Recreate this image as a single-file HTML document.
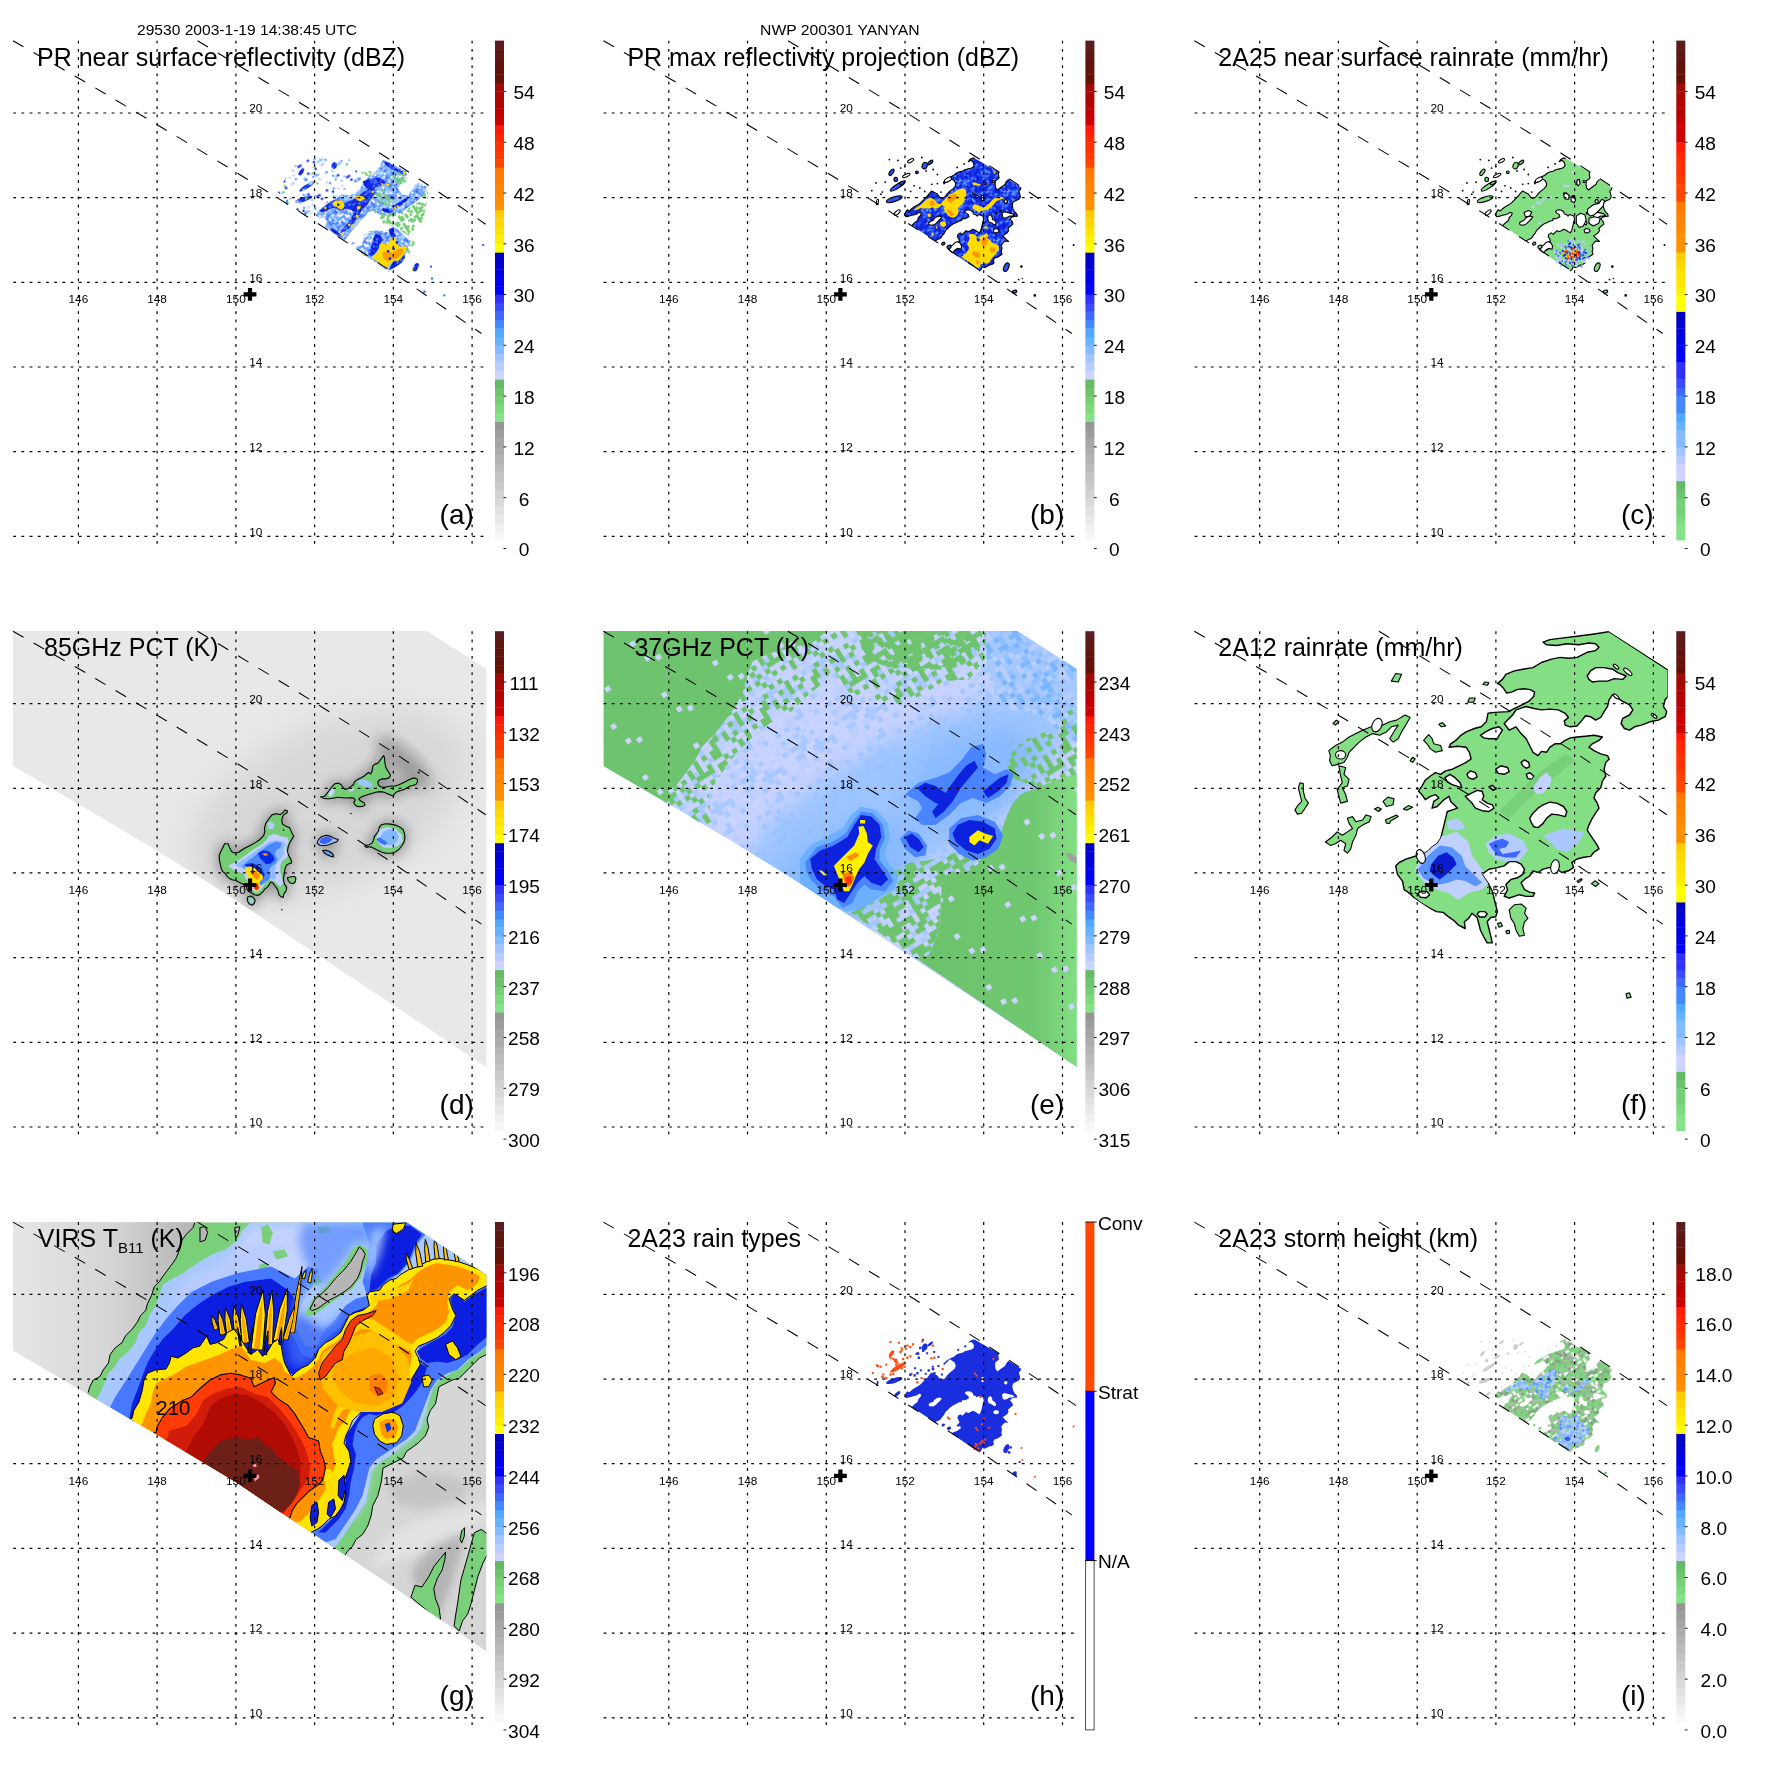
<!DOCTYPE html><html><head><meta charset="utf-8"><title>TRMM</title>
<style>html,body{margin:0;padding:0;background:#fff}svg{display:block;will-change:transform;opacity:0.9999}</style></head><body>
<svg width="1771" height="1771" viewBox="0 0 1771 1771">
<rect width="1771" height="1771" fill="#fff"/>
<text x="247" y="34.6" font-size="15" textLength="220" lengthAdjust="spacingAndGlyphs" text-anchor="middle" font-family="Liberation Sans, sans-serif">29530 2003-1-19 14:38:45 UTC</text>
<text x="839.9" y="34.6" font-size="15" textLength="159.6" lengthAdjust="spacingAndGlyphs" text-anchor="middle" font-family="Liberation Sans, sans-serif">NWP 200301 YANYAN</text>
<g transform="translate(0 0)"><defs><pattern id="pa_lb" width="35.2" height="35.2" patternUnits="userSpaceOnUse" patternTransform="rotate(-33)"><rect width="35.2" height="35.2" fill="#fff"/><rect x="0" y="0" width="2.3" height="2.3" fill="#86b8ff"/><rect x="0" y="2.2" width="2.3" height="2.3" fill="#5a96ff"/><rect x="0" y="4.4" width="2.3" height="2.3" fill="#5a96ff"/><rect x="0" y="6.6" width="2.3" height="2.3" fill="#3c64f4"/><rect x="0" y="11" width="2.3" height="2.3" fill="#4a86ff"/><rect x="0" y="15.4" width="2.3" height="2.3" fill="#86b8ff"/><rect x="0" y="17.6" width="2.3" height="2.3" fill="#4a86ff"/><rect x="0" y="19.8" width="2.3" height="2.3" fill="#66a6ff"/><rect x="0" y="22" width="2.3" height="2.3" fill="#66a6ff"/><rect x="0" y="24.2" width="2.3" height="2.3" fill="#a4c8ff"/><rect x="0" y="26.4" width="2.3" height="2.3" fill="#5a96ff"/><rect x="0" y="28.6" width="2.3" height="2.3" fill="#a4c8ff"/><rect x="0" y="30.8" width="2.3" height="2.3" fill="#86b8ff"/><rect x="0" y="33" width="2.3" height="2.3" fill="#4a86ff"/><rect x="2.2" y="0" width="2.3" height="2.3" fill="#4a86ff"/><rect x="2.2" y="2.2" width="2.3" height="2.3" fill="#66a6ff"/><rect x="2.2" y="4.4" width="2.3" height="2.3" fill="#5a96ff"/><rect x="2.2" y="6.6" width="2.3" height="2.3" fill="#5a96ff"/><rect x="2.2" y="11" width="2.3" height="2.3" fill="#66a6ff"/><rect x="2.2" y="13.2" width="2.3" height="2.3" fill="#a4c8ff"/><rect x="2.2" y="17.6" width="2.3" height="2.3" fill="#a4c8ff"/><rect x="2.2" y="19.8" width="2.3" height="2.3" fill="#a4c8ff"/><rect x="2.2" y="22" width="2.3" height="2.3" fill="#66a6ff"/><rect x="2.2" y="24.2" width="2.3" height="2.3" fill="#86b8ff"/><rect x="2.2" y="26.4" width="2.3" height="2.3" fill="#a4c8ff"/><rect x="2.2" y="28.6" width="2.3" height="2.3" fill="#a4c8ff"/><rect x="2.2" y="30.8" width="2.3" height="2.3" fill="#66a6ff"/><rect x="4.4" y="0" width="2.3" height="2.3" fill="#86b8ff"/><rect x="4.4" y="2.2" width="2.3" height="2.3" fill="#a4c8ff"/><rect x="4.4" y="4.4" width="2.3" height="2.3" fill="#5a96ff"/><rect x="4.4" y="8.8" width="2.3" height="2.3" fill="#86b8ff"/><rect x="4.4" y="11" width="2.3" height="2.3" fill="#86b8ff"/><rect x="4.4" y="13.2" width="2.3" height="2.3" fill="#66a6ff"/><rect x="4.4" y="17.6" width="2.3" height="2.3" fill="#4a86ff"/><rect x="4.4" y="19.8" width="2.3" height="2.3" fill="#a4c8ff"/><rect x="4.4" y="22" width="2.3" height="2.3" fill="#4a86ff"/><rect x="4.4" y="24.2" width="2.3" height="2.3" fill="#4a86ff"/><rect x="4.4" y="26.4" width="2.3" height="2.3" fill="#a4c8ff"/><rect x="4.4" y="28.6" width="2.3" height="2.3" fill="#a4c8ff"/><rect x="4.4" y="33" width="2.3" height="2.3" fill="#5a96ff"/><rect x="6.6" y="0" width="2.3" height="2.3" fill="#4a86ff"/><rect x="6.6" y="2.2" width="2.3" height="2.3" fill="#a4c8ff"/><rect x="6.6" y="4.4" width="2.3" height="2.3" fill="#86b8ff"/><rect x="6.6" y="6.6" width="2.3" height="2.3" fill="#5a96ff"/><rect x="6.6" y="8.8" width="2.3" height="2.3" fill="#3c64f4"/><rect x="6.6" y="11" width="2.3" height="2.3" fill="#a4c8ff"/><rect x="6.6" y="15.4" width="2.3" height="2.3" fill="#5a96ff"/><rect x="6.6" y="17.6" width="2.3" height="2.3" fill="#a4c8ff"/><rect x="6.6" y="22" width="2.3" height="2.3" fill="#5a96ff"/><rect x="6.6" y="24.2" width="2.3" height="2.3" fill="#3c64f4"/><rect x="6.6" y="26.4" width="2.3" height="2.3" fill="#66a6ff"/><rect x="6.6" y="28.6" width="2.3" height="2.3" fill="#a4c8ff"/><rect x="6.6" y="30.8" width="2.3" height="2.3" fill="#86b8ff"/><rect x="8.8" y="0" width="2.3" height="2.3" fill="#66a6ff"/><rect x="8.8" y="4.4" width="2.3" height="2.3" fill="#a4c8ff"/><rect x="8.8" y="6.6" width="2.3" height="2.3" fill="#4a86ff"/><rect x="8.8" y="8.8" width="2.3" height="2.3" fill="#a4c8ff"/><rect x="8.8" y="11" width="2.3" height="2.3" fill="#a4c8ff"/><rect x="8.8" y="13.2" width="2.3" height="2.3" fill="#86b8ff"/><rect x="8.8" y="15.4" width="2.3" height="2.3" fill="#86b8ff"/><rect x="8.8" y="17.6" width="2.3" height="2.3" fill="#a4c8ff"/><rect x="8.8" y="19.8" width="2.3" height="2.3" fill="#a4c8ff"/><rect x="8.8" y="22" width="2.3" height="2.3" fill="#a4c8ff"/><rect x="8.8" y="24.2" width="2.3" height="2.3" fill="#3c64f4"/><rect x="8.8" y="26.4" width="2.3" height="2.3" fill="#4a86ff"/><rect x="8.8" y="28.6" width="2.3" height="2.3" fill="#a4c8ff"/><rect x="8.8" y="30.8" width="2.3" height="2.3" fill="#86b8ff"/><rect x="8.8" y="33" width="2.3" height="2.3" fill="#a4c8ff"/><rect x="11" y="0" width="2.3" height="2.3" fill="#86b8ff"/><rect x="11" y="2.2" width="2.3" height="2.3" fill="#5a96ff"/><rect x="11" y="4.4" width="2.3" height="2.3" fill="#a4c8ff"/><rect x="11" y="6.6" width="2.3" height="2.3" fill="#86b8ff"/><rect x="11" y="8.8" width="2.3" height="2.3" fill="#66a6ff"/><rect x="11" y="11" width="2.3" height="2.3" fill="#4a86ff"/><rect x="11" y="13.2" width="2.3" height="2.3" fill="#5a96ff"/><rect x="11" y="15.4" width="2.3" height="2.3" fill="#86b8ff"/><rect x="11" y="17.6" width="2.3" height="2.3" fill="#66a6ff"/><rect x="11" y="19.8" width="2.3" height="2.3" fill="#a4c8ff"/><rect x="11" y="24.2" width="2.3" height="2.3" fill="#5a96ff"/><rect x="11" y="26.4" width="2.3" height="2.3" fill="#4a86ff"/><rect x="11" y="28.6" width="2.3" height="2.3" fill="#4a86ff"/><rect x="11" y="30.8" width="2.3" height="2.3" fill="#86b8ff"/><rect x="11" y="33" width="2.3" height="2.3" fill="#a4c8ff"/><rect x="13.2" y="2.2" width="2.3" height="2.3" fill="#5a96ff"/><rect x="13.2" y="6.6" width="2.3" height="2.3" fill="#66a6ff"/><rect x="13.2" y="8.8" width="2.3" height="2.3" fill="#3c64f4"/><rect x="13.2" y="11" width="2.3" height="2.3" fill="#66a6ff"/><rect x="13.2" y="13.2" width="2.3" height="2.3" fill="#3c64f4"/><rect x="13.2" y="15.4" width="2.3" height="2.3" fill="#3c64f4"/><rect x="13.2" y="17.6" width="2.3" height="2.3" fill="#66a6ff"/><rect x="13.2" y="19.8" width="2.3" height="2.3" fill="#5a96ff"/><rect x="13.2" y="22" width="2.3" height="2.3" fill="#4a86ff"/><rect x="13.2" y="24.2" width="2.3" height="2.3" fill="#86b8ff"/><rect x="13.2" y="26.4" width="2.3" height="2.3" fill="#5a96ff"/><rect x="13.2" y="28.6" width="2.3" height="2.3" fill="#a4c8ff"/><rect x="13.2" y="30.8" width="2.3" height="2.3" fill="#a4c8ff"/><rect x="13.2" y="33" width="2.3" height="2.3" fill="#86b8ff"/><rect x="15.4" y="0" width="2.3" height="2.3" fill="#86b8ff"/><rect x="15.4" y="4.4" width="2.3" height="2.3" fill="#66a6ff"/><rect x="15.4" y="6.6" width="2.3" height="2.3" fill="#3c64f4"/><rect x="15.4" y="8.8" width="2.3" height="2.3" fill="#86b8ff"/><rect x="15.4" y="13.2" width="2.3" height="2.3" fill="#66a6ff"/><rect x="15.4" y="15.4" width="2.3" height="2.3" fill="#4a86ff"/><rect x="15.4" y="17.6" width="2.3" height="2.3" fill="#a4c8ff"/><rect x="15.4" y="19.8" width="2.3" height="2.3" fill="#86b8ff"/><rect x="15.4" y="22" width="2.3" height="2.3" fill="#a4c8ff"/><rect x="15.4" y="24.2" width="2.3" height="2.3" fill="#5a96ff"/><rect x="15.4" y="30.8" width="2.3" height="2.3" fill="#3c64f4"/><rect x="15.4" y="33" width="2.3" height="2.3" fill="#86b8ff"/><rect x="17.6" y="0" width="2.3" height="2.3" fill="#3c64f4"/><rect x="17.6" y="2.2" width="2.3" height="2.3" fill="#86b8ff"/><rect x="17.6" y="4.4" width="2.3" height="2.3" fill="#66a6ff"/><rect x="17.6" y="6.6" width="2.3" height="2.3" fill="#5a96ff"/><rect x="17.6" y="8.8" width="2.3" height="2.3" fill="#86b8ff"/><rect x="17.6" y="11" width="2.3" height="2.3" fill="#66a6ff"/><rect x="17.6" y="13.2" width="2.3" height="2.3" fill="#3c64f4"/><rect x="17.6" y="15.4" width="2.3" height="2.3" fill="#a4c8ff"/><rect x="17.6" y="17.6" width="2.3" height="2.3" fill="#4a86ff"/><rect x="17.6" y="19.8" width="2.3" height="2.3" fill="#5a96ff"/><rect x="17.6" y="22" width="2.3" height="2.3" fill="#3c64f4"/><rect x="17.6" y="24.2" width="2.3" height="2.3" fill="#5a96ff"/><rect x="17.6" y="26.4" width="2.3" height="2.3" fill="#86b8ff"/><rect x="17.6" y="28.6" width="2.3" height="2.3" fill="#86b8ff"/><rect x="17.6" y="30.8" width="2.3" height="2.3" fill="#86b8ff"/><rect x="17.6" y="33" width="2.3" height="2.3" fill="#a4c8ff"/><rect x="19.8" y="0" width="2.3" height="2.3" fill="#5a96ff"/><rect x="19.8" y="2.2" width="2.3" height="2.3" fill="#a4c8ff"/><rect x="19.8" y="4.4" width="2.3" height="2.3" fill="#86b8ff"/><rect x="19.8" y="6.6" width="2.3" height="2.3" fill="#66a6ff"/><rect x="19.8" y="11" width="2.3" height="2.3" fill="#86b8ff"/><rect x="19.8" y="13.2" width="2.3" height="2.3" fill="#a4c8ff"/><rect x="19.8" y="15.4" width="2.3" height="2.3" fill="#a4c8ff"/><rect x="19.8" y="17.6" width="2.3" height="2.3" fill="#3c64f4"/><rect x="19.8" y="19.8" width="2.3" height="2.3" fill="#86b8ff"/><rect x="19.8" y="22" width="2.3" height="2.3" fill="#3c64f4"/><rect x="19.8" y="24.2" width="2.3" height="2.3" fill="#a4c8ff"/><rect x="19.8" y="26.4" width="2.3" height="2.3" fill="#5a96ff"/><rect x="19.8" y="30.8" width="2.3" height="2.3" fill="#4a86ff"/><rect x="19.8" y="33" width="2.3" height="2.3" fill="#86b8ff"/><rect x="22" y="0" width="2.3" height="2.3" fill="#86b8ff"/><rect x="22" y="2.2" width="2.3" height="2.3" fill="#86b8ff"/><rect x="22" y="4.4" width="2.3" height="2.3" fill="#5a96ff"/><rect x="22" y="6.6" width="2.3" height="2.3" fill="#4a86ff"/><rect x="22" y="8.8" width="2.3" height="2.3" fill="#66a6ff"/><rect x="22" y="11" width="2.3" height="2.3" fill="#66a6ff"/><rect x="22" y="13.2" width="2.3" height="2.3" fill="#66a6ff"/><rect x="22" y="15.4" width="2.3" height="2.3" fill="#5a96ff"/><rect x="22" y="19.8" width="2.3" height="2.3" fill="#a4c8ff"/><rect x="22" y="22" width="2.3" height="2.3" fill="#5a96ff"/><rect x="22" y="24.2" width="2.3" height="2.3" fill="#86b8ff"/><rect x="22" y="26.4" width="2.3" height="2.3" fill="#4a86ff"/><rect x="22" y="28.6" width="2.3" height="2.3" fill="#3c64f4"/><rect x="22" y="30.8" width="2.3" height="2.3" fill="#a4c8ff"/><rect x="22" y="33" width="2.3" height="2.3" fill="#66a6ff"/><rect x="24.2" y="0" width="2.3" height="2.3" fill="#4a86ff"/><rect x="24.2" y="2.2" width="2.3" height="2.3" fill="#5a96ff"/><rect x="24.2" y="4.4" width="2.3" height="2.3" fill="#86b8ff"/><rect x="24.2" y="6.6" width="2.3" height="2.3" fill="#3c64f4"/><rect x="24.2" y="8.8" width="2.3" height="2.3" fill="#3c64f4"/><rect x="24.2" y="13.2" width="2.3" height="2.3" fill="#a4c8ff"/><rect x="24.2" y="15.4" width="2.3" height="2.3" fill="#66a6ff"/><rect x="24.2" y="17.6" width="2.3" height="2.3" fill="#a4c8ff"/><rect x="24.2" y="19.8" width="2.3" height="2.3" fill="#3c64f4"/><rect x="24.2" y="22" width="2.3" height="2.3" fill="#3c64f4"/><rect x="24.2" y="24.2" width="2.3" height="2.3" fill="#4a86ff"/><rect x="24.2" y="26.4" width="2.3" height="2.3" fill="#a4c8ff"/><rect x="24.2" y="28.6" width="2.3" height="2.3" fill="#a4c8ff"/><rect x="24.2" y="30.8" width="2.3" height="2.3" fill="#4a86ff"/><rect x="24.2" y="33" width="2.3" height="2.3" fill="#a4c8ff"/><rect x="26.4" y="0" width="2.3" height="2.3" fill="#a4c8ff"/><rect x="26.4" y="2.2" width="2.3" height="2.3" fill="#a4c8ff"/><rect x="26.4" y="4.4" width="2.3" height="2.3" fill="#5a96ff"/><rect x="26.4" y="6.6" width="2.3" height="2.3" fill="#a4c8ff"/><rect x="26.4" y="8.8" width="2.3" height="2.3" fill="#a4c8ff"/><rect x="26.4" y="11" width="2.3" height="2.3" fill="#a4c8ff"/><rect x="26.4" y="15.4" width="2.3" height="2.3" fill="#66a6ff"/><rect x="26.4" y="22" width="2.3" height="2.3" fill="#5a96ff"/><rect x="26.4" y="24.2" width="2.3" height="2.3" fill="#5a96ff"/><rect x="26.4" y="26.4" width="2.3" height="2.3" fill="#a4c8ff"/><rect x="26.4" y="28.6" width="2.3" height="2.3" fill="#4a86ff"/><rect x="26.4" y="30.8" width="2.3" height="2.3" fill="#66a6ff"/><rect x="26.4" y="33" width="2.3" height="2.3" fill="#66a6ff"/><rect x="28.6" y="0" width="2.3" height="2.3" fill="#5a96ff"/><rect x="28.6" y="2.2" width="2.3" height="2.3" fill="#66a6ff"/><rect x="28.6" y="4.4" width="2.3" height="2.3" fill="#4a86ff"/><rect x="28.6" y="6.6" width="2.3" height="2.3" fill="#3c64f4"/><rect x="28.6" y="8.8" width="2.3" height="2.3" fill="#5a96ff"/><rect x="28.6" y="11" width="2.3" height="2.3" fill="#5a96ff"/><rect x="28.6" y="15.4" width="2.3" height="2.3" fill="#4a86ff"/><rect x="28.6" y="17.6" width="2.3" height="2.3" fill="#5a96ff"/><rect x="28.6" y="19.8" width="2.3" height="2.3" fill="#5a96ff"/><rect x="28.6" y="22" width="2.3" height="2.3" fill="#a4c8ff"/><rect x="28.6" y="26.4" width="2.3" height="2.3" fill="#4a86ff"/><rect x="28.6" y="28.6" width="2.3" height="2.3" fill="#a4c8ff"/><rect x="28.6" y="30.8" width="2.3" height="2.3" fill="#66a6ff"/><rect x="30.8" y="0" width="2.3" height="2.3" fill="#86b8ff"/><rect x="30.8" y="4.4" width="2.3" height="2.3" fill="#a4c8ff"/><rect x="30.8" y="6.6" width="2.3" height="2.3" fill="#4a86ff"/><rect x="30.8" y="11" width="2.3" height="2.3" fill="#3c64f4"/><rect x="30.8" y="13.2" width="2.3" height="2.3" fill="#4a86ff"/><rect x="30.8" y="19.8" width="2.3" height="2.3" fill="#5a96ff"/><rect x="30.8" y="22" width="2.3" height="2.3" fill="#3c64f4"/><rect x="30.8" y="24.2" width="2.3" height="2.3" fill="#5a96ff"/><rect x="30.8" y="26.4" width="2.3" height="2.3" fill="#66a6ff"/><rect x="30.8" y="28.6" width="2.3" height="2.3" fill="#86b8ff"/><rect x="30.8" y="30.8" width="2.3" height="2.3" fill="#a4c8ff"/><rect x="30.8" y="33" width="2.3" height="2.3" fill="#4a86ff"/><rect x="33" y="0" width="2.3" height="2.3" fill="#3c64f4"/><rect x="33" y="2.2" width="2.3" height="2.3" fill="#5a96ff"/><rect x="33" y="4.4" width="2.3" height="2.3" fill="#86b8ff"/><rect x="33" y="6.6" width="2.3" height="2.3" fill="#a4c8ff"/><rect x="33" y="8.8" width="2.3" height="2.3" fill="#86b8ff"/><rect x="33" y="11" width="2.3" height="2.3" fill="#a4c8ff"/><rect x="33" y="13.2" width="2.3" height="2.3" fill="#3c64f4"/><rect x="33" y="15.4" width="2.3" height="2.3" fill="#5a96ff"/><rect x="33" y="19.8" width="2.3" height="2.3" fill="#a4c8ff"/><rect x="33" y="22" width="2.3" height="2.3" fill="#86b8ff"/><rect x="33" y="24.2" width="2.3" height="2.3" fill="#5a96ff"/><rect x="33" y="26.4" width="2.3" height="2.3" fill="#4a86ff"/><rect x="33" y="28.6" width="2.3" height="2.3" fill="#a4c8ff"/><rect x="33" y="30.8" width="2.3" height="2.3" fill="#a4c8ff"/><rect x="33" y="33" width="2.3" height="2.3" fill="#4a86ff"/></pattern><pattern id="pa_db" width="35.2" height="35.2" patternUnits="userSpaceOnUse" patternTransform="rotate(-33)"><rect width="35.2" height="35.2" fill="#1024e4"/><rect x="0" y="0" width="2.3" height="2.3" fill="#2c50f2"/><rect x="0" y="2.2" width="2.3" height="2.3" fill="#2c50f2"/><rect x="0" y="6.6" width="2.3" height="2.3" fill="#4a80ff"/><rect x="0" y="11" width="2.3" height="2.3" fill="#2c50f2"/><rect x="0" y="13.2" width="2.3" height="2.3" fill="#1c34ea"/><rect x="0" y="17.6" width="2.3" height="2.3" fill="#1c34ea"/><rect x="0" y="19.8" width="2.3" height="2.3" fill="#1c34ea"/><rect x="0" y="22" width="2.3" height="2.3" fill="#0c18d4"/><rect x="0" y="26.4" width="2.3" height="2.3" fill="#2c50f2"/><rect x="0" y="28.6" width="2.3" height="2.3" fill="#0c18d4"/><rect x="0" y="33" width="2.3" height="2.3" fill="#0c18d4"/><rect x="2.2" y="0" width="2.3" height="2.3" fill="#4a80ff"/><rect x="2.2" y="2.2" width="2.3" height="2.3" fill="#2c50f2"/><rect x="2.2" y="4.4" width="2.3" height="2.3" fill="#4a80ff"/><rect x="2.2" y="6.6" width="2.3" height="2.3" fill="#1c34ea"/><rect x="2.2" y="8.8" width="2.3" height="2.3" fill="#1c34ea"/><rect x="2.2" y="13.2" width="2.3" height="2.3" fill="#1c34ea"/><rect x="2.2" y="17.6" width="2.3" height="2.3" fill="#4a80ff"/><rect x="2.2" y="22" width="2.3" height="2.3" fill="#4a80ff"/><rect x="2.2" y="24.2" width="2.3" height="2.3" fill="#0c18d4"/><rect x="2.2" y="26.4" width="2.3" height="2.3" fill="#0c18d4"/><rect x="2.2" y="30.8" width="2.3" height="2.3" fill="#2c50f2"/><rect x="2.2" y="33" width="2.3" height="2.3" fill="#2c50f2"/><rect x="4.4" y="2.2" width="2.3" height="2.3" fill="#4a80ff"/><rect x="4.4" y="4.4" width="2.3" height="2.3" fill="#4a80ff"/><rect x="4.4" y="6.6" width="2.3" height="2.3" fill="#1c34ea"/><rect x="4.4" y="8.8" width="2.3" height="2.3" fill="#4a80ff"/><rect x="4.4" y="13.2" width="2.3" height="2.3" fill="#1c34ea"/><rect x="4.4" y="15.4" width="2.3" height="2.3" fill="#0c18d4"/><rect x="4.4" y="17.6" width="2.3" height="2.3" fill="#4a80ff"/><rect x="4.4" y="19.8" width="2.3" height="2.3" fill="#0c18d4"/><rect x="4.4" y="22" width="2.3" height="2.3" fill="#0c18d4"/><rect x="4.4" y="24.2" width="2.3" height="2.3" fill="#2c50f2"/><rect x="4.4" y="28.6" width="2.3" height="2.3" fill="#0c18d4"/><rect x="4.4" y="30.8" width="2.3" height="2.3" fill="#1c34ea"/><rect x="4.4" y="33" width="2.3" height="2.3" fill="#4a80ff"/><rect x="6.6" y="0" width="2.3" height="2.3" fill="#2c50f2"/><rect x="6.6" y="2.2" width="2.3" height="2.3" fill="#0c18d4"/><rect x="6.6" y="4.4" width="2.3" height="2.3" fill="#0c18d4"/><rect x="6.6" y="6.6" width="2.3" height="2.3" fill="#1c34ea"/><rect x="6.6" y="8.8" width="2.3" height="2.3" fill="#1c34ea"/><rect x="6.6" y="11" width="2.3" height="2.3" fill="#2c50f2"/><rect x="6.6" y="17.6" width="2.3" height="2.3" fill="#0c18d4"/><rect x="6.6" y="19.8" width="2.3" height="2.3" fill="#4a80ff"/><rect x="6.6" y="26.4" width="2.3" height="2.3" fill="#0c18d4"/><rect x="6.6" y="28.6" width="2.3" height="2.3" fill="#4a80ff"/><rect x="6.6" y="30.8" width="2.3" height="2.3" fill="#0c18d4"/><rect x="6.6" y="33" width="2.3" height="2.3" fill="#4a80ff"/><rect x="8.8" y="4.4" width="2.3" height="2.3" fill="#1c34ea"/><rect x="8.8" y="6.6" width="2.3" height="2.3" fill="#2c50f2"/><rect x="8.8" y="8.8" width="2.3" height="2.3" fill="#0c18d4"/><rect x="8.8" y="11" width="2.3" height="2.3" fill="#4a80ff"/><rect x="8.8" y="13.2" width="2.3" height="2.3" fill="#0c18d4"/><rect x="8.8" y="17.6" width="2.3" height="2.3" fill="#4a80ff"/><rect x="8.8" y="22" width="2.3" height="2.3" fill="#0c18d4"/><rect x="8.8" y="24.2" width="2.3" height="2.3" fill="#4a80ff"/><rect x="8.8" y="26.4" width="2.3" height="2.3" fill="#4a80ff"/><rect x="8.8" y="28.6" width="2.3" height="2.3" fill="#4a80ff"/><rect x="8.8" y="30.8" width="2.3" height="2.3" fill="#4a80ff"/><rect x="8.8" y="33" width="2.3" height="2.3" fill="#4a80ff"/><rect x="11" y="2.2" width="2.3" height="2.3" fill="#1c34ea"/><rect x="11" y="4.4" width="2.3" height="2.3" fill="#4a80ff"/><rect x="11" y="15.4" width="2.3" height="2.3" fill="#0c18d4"/><rect x="11" y="26.4" width="2.3" height="2.3" fill="#2c50f2"/><rect x="11" y="28.6" width="2.3" height="2.3" fill="#4a80ff"/><rect x="11" y="30.8" width="2.3" height="2.3" fill="#2c50f2"/><rect x="13.2" y="6.6" width="2.3" height="2.3" fill="#2c50f2"/><rect x="13.2" y="8.8" width="2.3" height="2.3" fill="#2c50f2"/><rect x="13.2" y="13.2" width="2.3" height="2.3" fill="#4a80ff"/><rect x="13.2" y="17.6" width="2.3" height="2.3" fill="#0c18d4"/><rect x="13.2" y="19.8" width="2.3" height="2.3" fill="#2c50f2"/><rect x="13.2" y="22" width="2.3" height="2.3" fill="#0c18d4"/><rect x="13.2" y="24.2" width="2.3" height="2.3" fill="#0c18d4"/><rect x="13.2" y="26.4" width="2.3" height="2.3" fill="#1c34ea"/><rect x="13.2" y="28.6" width="2.3" height="2.3" fill="#2c50f2"/><rect x="15.4" y="2.2" width="2.3" height="2.3" fill="#4a80ff"/><rect x="15.4" y="4.4" width="2.3" height="2.3" fill="#2c50f2"/><rect x="15.4" y="6.6" width="2.3" height="2.3" fill="#1c34ea"/><rect x="15.4" y="8.8" width="2.3" height="2.3" fill="#1c34ea"/><rect x="15.4" y="11" width="2.3" height="2.3" fill="#2c50f2"/><rect x="15.4" y="13.2" width="2.3" height="2.3" fill="#1c34ea"/><rect x="15.4" y="15.4" width="2.3" height="2.3" fill="#1c34ea"/><rect x="15.4" y="22" width="2.3" height="2.3" fill="#2c50f2"/><rect x="15.4" y="28.6" width="2.3" height="2.3" fill="#2c50f2"/><rect x="15.4" y="30.8" width="2.3" height="2.3" fill="#4a80ff"/><rect x="17.6" y="6.6" width="2.3" height="2.3" fill="#1c34ea"/><rect x="17.6" y="8.8" width="2.3" height="2.3" fill="#4a80ff"/><rect x="17.6" y="11" width="2.3" height="2.3" fill="#2c50f2"/><rect x="17.6" y="13.2" width="2.3" height="2.3" fill="#4a80ff"/><rect x="17.6" y="15.4" width="2.3" height="2.3" fill="#0c18d4"/><rect x="17.6" y="17.6" width="2.3" height="2.3" fill="#1c34ea"/><rect x="17.6" y="19.8" width="2.3" height="2.3" fill="#1c34ea"/><rect x="17.6" y="26.4" width="2.3" height="2.3" fill="#1c34ea"/><rect x="17.6" y="30.8" width="2.3" height="2.3" fill="#1c34ea"/><rect x="17.6" y="33" width="2.3" height="2.3" fill="#1c34ea"/><rect x="19.8" y="0" width="2.3" height="2.3" fill="#0c18d4"/><rect x="19.8" y="4.4" width="2.3" height="2.3" fill="#4a80ff"/><rect x="19.8" y="6.6" width="2.3" height="2.3" fill="#0c18d4"/><rect x="19.8" y="13.2" width="2.3" height="2.3" fill="#2c50f2"/><rect x="19.8" y="15.4" width="2.3" height="2.3" fill="#4a80ff"/><rect x="19.8" y="17.6" width="2.3" height="2.3" fill="#0c18d4"/><rect x="19.8" y="19.8" width="2.3" height="2.3" fill="#1c34ea"/><rect x="19.8" y="24.2" width="2.3" height="2.3" fill="#0c18d4"/><rect x="19.8" y="28.6" width="2.3" height="2.3" fill="#2c50f2"/><rect x="19.8" y="30.8" width="2.3" height="2.3" fill="#1c34ea"/><rect x="19.8" y="33" width="2.3" height="2.3" fill="#1c34ea"/><rect x="22" y="0" width="2.3" height="2.3" fill="#4a80ff"/><rect x="22" y="4.4" width="2.3" height="2.3" fill="#1c34ea"/><rect x="22" y="6.6" width="2.3" height="2.3" fill="#0c18d4"/><rect x="22" y="8.8" width="2.3" height="2.3" fill="#2c50f2"/><rect x="22" y="15.4" width="2.3" height="2.3" fill="#2c50f2"/><rect x="22" y="17.6" width="2.3" height="2.3" fill="#0c18d4"/><rect x="22" y="19.8" width="2.3" height="2.3" fill="#1c34ea"/><rect x="22" y="24.2" width="2.3" height="2.3" fill="#2c50f2"/><rect x="22" y="26.4" width="2.3" height="2.3" fill="#4a80ff"/><rect x="22" y="28.6" width="2.3" height="2.3" fill="#0c18d4"/><rect x="24.2" y="0" width="2.3" height="2.3" fill="#2c50f2"/><rect x="24.2" y="4.4" width="2.3" height="2.3" fill="#0c18d4"/><rect x="24.2" y="8.8" width="2.3" height="2.3" fill="#4a80ff"/><rect x="24.2" y="13.2" width="2.3" height="2.3" fill="#4a80ff"/><rect x="24.2" y="15.4" width="2.3" height="2.3" fill="#2c50f2"/><rect x="24.2" y="19.8" width="2.3" height="2.3" fill="#0c18d4"/><rect x="24.2" y="24.2" width="2.3" height="2.3" fill="#1c34ea"/><rect x="24.2" y="26.4" width="2.3" height="2.3" fill="#4a80ff"/><rect x="24.2" y="28.6" width="2.3" height="2.3" fill="#2c50f2"/><rect x="24.2" y="33" width="2.3" height="2.3" fill="#2c50f2"/><rect x="26.4" y="2.2" width="2.3" height="2.3" fill="#4a80ff"/><rect x="26.4" y="6.6" width="2.3" height="2.3" fill="#2c50f2"/><rect x="26.4" y="8.8" width="2.3" height="2.3" fill="#2c50f2"/><rect x="26.4" y="13.2" width="2.3" height="2.3" fill="#1c34ea"/><rect x="26.4" y="19.8" width="2.3" height="2.3" fill="#1c34ea"/><rect x="26.4" y="22" width="2.3" height="2.3" fill="#1c34ea"/><rect x="26.4" y="28.6" width="2.3" height="2.3" fill="#0c18d4"/><rect x="26.4" y="30.8" width="2.3" height="2.3" fill="#2c50f2"/><rect x="26.4" y="33" width="2.3" height="2.3" fill="#2c50f2"/><rect x="28.6" y="2.2" width="2.3" height="2.3" fill="#0c18d4"/><rect x="28.6" y="6.6" width="2.3" height="2.3" fill="#1c34ea"/><rect x="28.6" y="8.8" width="2.3" height="2.3" fill="#4a80ff"/><rect x="28.6" y="11" width="2.3" height="2.3" fill="#2c50f2"/><rect x="28.6" y="13.2" width="2.3" height="2.3" fill="#2c50f2"/><rect x="28.6" y="15.4" width="2.3" height="2.3" fill="#1c34ea"/><rect x="28.6" y="17.6" width="2.3" height="2.3" fill="#0c18d4"/><rect x="28.6" y="26.4" width="2.3" height="2.3" fill="#2c50f2"/><rect x="28.6" y="28.6" width="2.3" height="2.3" fill="#4a80ff"/><rect x="28.6" y="30.8" width="2.3" height="2.3" fill="#0c18d4"/><rect x="30.8" y="2.2" width="2.3" height="2.3" fill="#1c34ea"/><rect x="30.8" y="6.6" width="2.3" height="2.3" fill="#0c18d4"/><rect x="30.8" y="11" width="2.3" height="2.3" fill="#2c50f2"/><rect x="30.8" y="13.2" width="2.3" height="2.3" fill="#1c34ea"/><rect x="30.8" y="17.6" width="2.3" height="2.3" fill="#1c34ea"/><rect x="30.8" y="19.8" width="2.3" height="2.3" fill="#2c50f2"/><rect x="30.8" y="24.2" width="2.3" height="2.3" fill="#4a80ff"/><rect x="30.8" y="28.6" width="2.3" height="2.3" fill="#2c50f2"/><rect x="30.8" y="30.8" width="2.3" height="2.3" fill="#0c18d4"/><rect x="30.8" y="33" width="2.3" height="2.3" fill="#0c18d4"/><rect x="33" y="0" width="2.3" height="2.3" fill="#0c18d4"/><rect x="33" y="2.2" width="2.3" height="2.3" fill="#1c34ea"/><rect x="33" y="6.6" width="2.3" height="2.3" fill="#1c34ea"/><rect x="33" y="11" width="2.3" height="2.3" fill="#4a80ff"/><rect x="33" y="13.2" width="2.3" height="2.3" fill="#1c34ea"/><rect x="33" y="17.6" width="2.3" height="2.3" fill="#2c50f2"/><rect x="33" y="19.8" width="2.3" height="2.3" fill="#4a80ff"/><rect x="33" y="22" width="2.3" height="2.3" fill="#4a80ff"/><rect x="33" y="24.2" width="2.3" height="2.3" fill="#1c34ea"/><rect x="33" y="26.4" width="2.3" height="2.3" fill="#0c18d4"/><rect x="33" y="28.6" width="2.3" height="2.3" fill="#0c18d4"/><rect x="33" y="30.8" width="2.3" height="2.3" fill="#4a80ff"/><rect x="33" y="33" width="2.3" height="2.3" fill="#0c18d4"/></pattern><pattern id="pa_g" width="35.2" height="35.2" patternUnits="userSpaceOnUse" patternTransform="rotate(-33)"><rect x="0" y="6.6" width="2.3" height="2.3" fill="#74cc74"/><rect x="0" y="15.4" width="2.3" height="2.3" fill="#74cc74"/><rect x="0" y="17.6" width="2.3" height="2.3" fill="#74cc74"/><rect x="0" y="22" width="2.3" height="2.3" fill="#74cc74"/><rect x="0" y="26.4" width="2.3" height="2.3" fill="#74cc74"/><rect x="0" y="28.6" width="2.3" height="2.3" fill="#74cc74"/><rect x="2.2" y="4.4" width="2.3" height="2.3" fill="#74cc74"/><rect x="2.2" y="6.6" width="2.3" height="2.3" fill="#74cc74"/><rect x="2.2" y="30.8" width="2.3" height="2.3" fill="#74cc74"/><rect x="2.2" y="33" width="2.3" height="2.3" fill="#74cc74"/><rect x="4.4" y="11" width="2.3" height="2.3" fill="#74cc74"/><rect x="4.4" y="13.2" width="2.3" height="2.3" fill="#74cc74"/><rect x="4.4" y="15.4" width="2.3" height="2.3" fill="#74cc74"/><rect x="4.4" y="19.8" width="2.3" height="2.3" fill="#74cc74"/><rect x="4.4" y="22" width="2.3" height="2.3" fill="#74cc74"/><rect x="4.4" y="24.2" width="2.3" height="2.3" fill="#74cc74"/><rect x="4.4" y="26.4" width="2.3" height="2.3" fill="#74cc74"/><rect x="4.4" y="28.6" width="2.3" height="2.3" fill="#74cc74"/><rect x="6.6" y="0" width="2.3" height="2.3" fill="#74cc74"/><rect x="6.6" y="4.4" width="2.3" height="2.3" fill="#74cc74"/><rect x="6.6" y="6.6" width="2.3" height="2.3" fill="#74cc74"/><rect x="6.6" y="13.2" width="2.3" height="2.3" fill="#74cc74"/><rect x="6.6" y="15.4" width="2.3" height="2.3" fill="#74cc74"/><rect x="6.6" y="24.2" width="2.3" height="2.3" fill="#74cc74"/><rect x="8.8" y="0" width="2.3" height="2.3" fill="#74cc74"/><rect x="8.8" y="4.4" width="2.3" height="2.3" fill="#74cc74"/><rect x="8.8" y="8.8" width="2.3" height="2.3" fill="#74cc74"/><rect x="8.8" y="28.6" width="2.3" height="2.3" fill="#74cc74"/><rect x="11" y="0" width="2.3" height="2.3" fill="#74cc74"/><rect x="11" y="2.2" width="2.3" height="2.3" fill="#74cc74"/><rect x="11" y="6.6" width="2.3" height="2.3" fill="#74cc74"/><rect x="11" y="13.2" width="2.3" height="2.3" fill="#74cc74"/><rect x="11" y="15.4" width="2.3" height="2.3" fill="#74cc74"/><rect x="11" y="19.8" width="2.3" height="2.3" fill="#74cc74"/><rect x="11" y="26.4" width="2.3" height="2.3" fill="#74cc74"/><rect x="13.2" y="0" width="2.3" height="2.3" fill="#74cc74"/><rect x="13.2" y="19.8" width="2.3" height="2.3" fill="#74cc74"/><rect x="13.2" y="22" width="2.3" height="2.3" fill="#74cc74"/><rect x="15.4" y="0" width="2.3" height="2.3" fill="#74cc74"/><rect x="15.4" y="4.4" width="2.3" height="2.3" fill="#74cc74"/><rect x="15.4" y="11" width="2.3" height="2.3" fill="#74cc74"/><rect x="15.4" y="15.4" width="2.3" height="2.3" fill="#74cc74"/><rect x="15.4" y="22" width="2.3" height="2.3" fill="#74cc74"/><rect x="15.4" y="33" width="2.3" height="2.3" fill="#74cc74"/><rect x="17.6" y="4.4" width="2.3" height="2.3" fill="#74cc74"/><rect x="17.6" y="8.8" width="2.3" height="2.3" fill="#74cc74"/><rect x="17.6" y="13.2" width="2.3" height="2.3" fill="#74cc74"/><rect x="17.6" y="19.8" width="2.3" height="2.3" fill="#74cc74"/><rect x="19.8" y="0" width="2.3" height="2.3" fill="#74cc74"/><rect x="19.8" y="4.4" width="2.3" height="2.3" fill="#74cc74"/><rect x="19.8" y="19.8" width="2.3" height="2.3" fill="#74cc74"/><rect x="19.8" y="22" width="2.3" height="2.3" fill="#74cc74"/><rect x="19.8" y="24.2" width="2.3" height="2.3" fill="#74cc74"/><rect x="19.8" y="26.4" width="2.3" height="2.3" fill="#74cc74"/><rect x="19.8" y="30.8" width="2.3" height="2.3" fill="#74cc74"/><rect x="22" y="8.8" width="2.3" height="2.3" fill="#74cc74"/><rect x="22" y="11" width="2.3" height="2.3" fill="#74cc74"/><rect x="22" y="13.2" width="2.3" height="2.3" fill="#74cc74"/><rect x="22" y="15.4" width="2.3" height="2.3" fill="#74cc74"/><rect x="22" y="17.6" width="2.3" height="2.3" fill="#74cc74"/><rect x="22" y="24.2" width="2.3" height="2.3" fill="#74cc74"/><rect x="22" y="28.6" width="2.3" height="2.3" fill="#74cc74"/><rect x="24.2" y="2.2" width="2.3" height="2.3" fill="#74cc74"/><rect x="24.2" y="6.6" width="2.3" height="2.3" fill="#74cc74"/><rect x="24.2" y="13.2" width="2.3" height="2.3" fill="#74cc74"/><rect x="24.2" y="17.6" width="2.3" height="2.3" fill="#74cc74"/><rect x="24.2" y="22" width="2.3" height="2.3" fill="#74cc74"/><rect x="24.2" y="26.4" width="2.3" height="2.3" fill="#74cc74"/><rect x="26.4" y="0" width="2.3" height="2.3" fill="#74cc74"/><rect x="26.4" y="2.2" width="2.3" height="2.3" fill="#74cc74"/><rect x="26.4" y="8.8" width="2.3" height="2.3" fill="#74cc74"/><rect x="26.4" y="15.4" width="2.3" height="2.3" fill="#74cc74"/><rect x="26.4" y="17.6" width="2.3" height="2.3" fill="#74cc74"/><rect x="26.4" y="22" width="2.3" height="2.3" fill="#74cc74"/><rect x="28.6" y="6.6" width="2.3" height="2.3" fill="#74cc74"/><rect x="28.6" y="8.8" width="2.3" height="2.3" fill="#74cc74"/><rect x="28.6" y="11" width="2.3" height="2.3" fill="#74cc74"/><rect x="28.6" y="15.4" width="2.3" height="2.3" fill="#74cc74"/><rect x="28.6" y="19.8" width="2.3" height="2.3" fill="#74cc74"/><rect x="30.8" y="4.4" width="2.3" height="2.3" fill="#74cc74"/><rect x="30.8" y="13.2" width="2.3" height="2.3" fill="#74cc74"/><rect x="30.8" y="22" width="2.3" height="2.3" fill="#74cc74"/><rect x="30.8" y="33" width="2.3" height="2.3" fill="#74cc74"/><rect x="33" y="2.2" width="2.3" height="2.3" fill="#74cc74"/><rect x="33" y="4.4" width="2.3" height="2.3" fill="#74cc74"/><rect x="33" y="15.4" width="2.3" height="2.3" fill="#74cc74"/><rect x="33" y="17.6" width="2.3" height="2.3" fill="#74cc74"/><rect x="33" y="24.2" width="2.3" height="2.3" fill="#74cc74"/></pattern><pattern id="pa_s" width="35.2" height="35.2" patternUnits="userSpaceOnUse" patternTransform="rotate(-33)"><rect x="0" y="15.4" width="2.3" height="2.3" fill="#66a6ff"/><rect x="0" y="22" width="2.3" height="2.3" fill="#66a6ff"/><rect x="2.2" y="30.8" width="2.3" height="2.3" fill="#c8d4ff"/><rect x="4.4" y="24.2" width="2.3" height="2.3" fill="#c8d4ff"/><rect x="4.4" y="30.8" width="2.3" height="2.3" fill="#a4c8ff"/><rect x="6.6" y="11" width="2.3" height="2.3" fill="#66a6ff"/><rect x="6.6" y="15.4" width="2.3" height="2.3" fill="#74cc74"/><rect x="8.8" y="6.6" width="2.3" height="2.3" fill="#a4c8ff"/><rect x="8.8" y="13.2" width="2.3" height="2.3" fill="#a4c8ff"/><rect x="8.8" y="24.2" width="2.3" height="2.3" fill="#c8d4ff"/><rect x="8.8" y="28.6" width="2.3" height="2.3" fill="#66a6ff"/><rect x="11" y="13.2" width="2.3" height="2.3" fill="#1c34ea"/><rect x="11" y="19.8" width="2.3" height="2.3" fill="#a4c8ff"/><rect x="15.4" y="17.6" width="2.3" height="2.3" fill="#a4c8ff"/><rect x="17.6" y="4.4" width="2.3" height="2.3" fill="#a4c8ff"/><rect x="17.6" y="19.8" width="2.3" height="2.3" fill="#1c34ea"/><rect x="19.8" y="4.4" width="2.3" height="2.3" fill="#c8d4ff"/><rect x="19.8" y="19.8" width="2.3" height="2.3" fill="#1c34ea"/><rect x="19.8" y="24.2" width="2.3" height="2.3" fill="#1c34ea"/><rect x="22" y="30.8" width="2.3" height="2.3" fill="#1c34ea"/><rect x="24.2" y="8.8" width="2.3" height="2.3" fill="#74cc74"/><rect x="24.2" y="33" width="2.3" height="2.3" fill="#c8d4ff"/><rect x="26.4" y="33" width="2.3" height="2.3" fill="#74cc74"/><rect x="28.6" y="6.6" width="2.3" height="2.3" fill="#a4c8ff"/><rect x="28.6" y="19.8" width="2.3" height="2.3" fill="#1c34ea"/><rect x="30.8" y="28.6" width="2.3" height="2.3" fill="#74cc74"/><rect x="30.8" y="30.8" width="2.3" height="2.3" fill="#1c34ea"/><rect x="33" y="13.2" width="2.3" height="2.3" fill="#c8d4ff"/><rect x="33" y="24.2" width="2.3" height="2.3" fill="#1c34ea"/></pattern></defs><polygon points="372.7,210.2 380.1,207.3 390.3,213.1 397.7,214.6 405,210.2 412.4,205.8 419.7,201.4 427,191.1 428.5,197 425.6,205.8 424.1,216.1 421.2,224.9 415.3,230.7 408,235.2 400.6,230.7 394.8,224.9 390.3,226.3 383,223.4 378.6,217.5" fill="url(#pa_g)"/><polygon points="391.8,173.5 397.7,172 405,175 408,179.4 403.6,183.8 397.7,185.2 393.3,182.3" fill="url(#pa_g)"/><polygon points="375.7,191.1 383,189.6 390.3,194 393.3,199.9 390.3,205.8 383,207.3 378.6,202.9 375.7,197" fill="url(#pa_g)"/><polygon points="314,210.2 324.3,216.1 331.6,220.5 339,226.3 344.8,223.4 337.5,216.1 331.6,213.1 324.3,208.7 316.9,205.8" fill="url(#pa_g)"/><polygon points="356.6,174.2 365.4,170.6 375.7,171.3 374.2,175 365.4,176.4 359.5,179.4" fill="url(#pa_g)"/><polygon points="362.5,236.6 369.8,230.7 375.7,230.7 372.7,235.2 366.9,241" fill="url(#pa_g)"/><polygon points="405,236.6 412.4,238.1 415.3,242.5 412.4,248.4 409.4,254.2 406.5,252.8 408,245.4" fill="url(#pa_g)"/><polygon points="410.9,188.2 416.8,183.8 424.1,188.2 427,194 422.6,198.4 415.3,197" fill="url(#pa_g)"/><polygon points="315.5,216.1 318.4,210.2 324.3,205.8 330.2,201.4 337.5,197 341.9,194 347.8,195.5 353.6,194 359.5,189.6 363.9,182.3 368.3,176.4 375.7,172 380.1,164.7 383,159.5 408,172 405,177.9 402.1,182.3 397.7,188.2 402.1,194 408,195.5 415.3,185.2 418.2,182.3 427,186.7 424.1,194 418.2,199.9 412.4,204.3 406.5,208.7 400.6,213.1 393.3,214.6 385.9,216.1 378.6,214.6 374.2,210.2 369.8,211.7 365.4,216.1 361,220.5 356.6,226.3 352.2,230.7 347.8,236.6 344.1,240.3 324.3,227.1 327.2,221.9 324.3,217.5 319.9,218.3" fill="url(#pa_lb)"/><polygon points="363.9,236.6 368.3,233.7 372.7,232.2 375.7,230 380.1,230.7 385.9,232.2 388.9,229.3 393.3,226.3 397.7,229.3 402.1,233.7 406.5,238.1 410.9,241 408,246.9 406.5,252.8 403.6,258.6 399.2,264.5 394.8,267.4 388.9,271.9 355.1,248.4 359.5,245.4 362.5,242.5" fill="url(#pa_lb)"/><polygon points="372.7,210.2 380.1,207.3 390.3,213.1 397.7,214.6 405,210.2 412.4,205.8 419.7,201.4 427,191.1 428.5,197 425.6,205.8 424.1,216.1 421.2,224.9 415.3,230.7 408,235.2 400.6,230.7 394.8,224.9 390.3,226.3 383,223.4 378.6,217.5" fill="url(#pa_g)"/><polygon points="391.8,173.5 397.7,172 405,175 408,179.4 403.6,183.8 397.7,185.2 393.3,182.3" fill="url(#pa_g)"/><polygon points="375.7,191.1 383,189.6 390.3,194 393.3,199.9 390.3,205.8 383,207.3 378.6,202.9 375.7,197" fill="url(#pa_g)"/><polygon points="319.1,210.9 322.8,208 327.2,204.3 331.6,201.4 334.6,199.9 339,200.6 344.1,202.9 347.8,201.4 352.2,199.9 356.6,197 361,194 365.4,191.1 369.8,188.2 373.5,187.4 375.7,189.6 374.2,194 371.3,198.4 368.3,202.9 365.4,206.5 362.5,209.5 360.2,213.1 358,217.5 355.1,220.5 352.9,223.4 350.7,227.1 347.8,229.3 344.1,231.5 340.4,232.9 342.6,228.5 346.3,224.9 349.2,221.2 351.4,217.5 352.9,214.6 353.6,211.7 351.4,210.2 347.8,208.7 344.1,209.5 340.4,210.9 337.5,208.7 333.8,208 330.2,208.7 326.5,210.9 322.8,212.4" fill="url(#pa_db)"/><polygon points="384.5,161 388.9,162.5 392.5,165.4 396.2,168.4 400.6,170.6 405,172 402.8,174.2 397.7,172 393.3,169.8 388.9,167.6 385.2,164.7" fill="url(#pa_db)"/><polygon points="362.5,181.6 368.3,179.4 374.2,177.9 379.3,177.2 383,179.4 385.9,182.3 383,185.2 378.6,186.7 374.2,188.2 370.5,189.6 366.9,188.2 363.9,185.2" fill="url(#pa_db)"/><polygon points="392.5,205.8 396.2,203.6 400.6,201.4 405,198.4 408.7,197 407.2,200.6 403.6,203.6 399.2,206.5 394.8,209.5 391.8,210.2 387.4,208.7 383,208 381.5,210.2 385.9,212.4 390.3,213.1 393.3,210.9" fill="url(#pa_db)"/><polygon points="368.3,252.8 371.3,245.4 373.5,238.1 375.7,233.7 380.1,235.2 383,239.6 380.1,244 378.6,248.4 375.7,252.8 372.7,255.7 369.8,257.2" fill="url(#pa_db)"/><polygon points="388.9,229.3 393.3,227.8 394,232.9 396.2,236.6 391.8,237.4 389.6,233.7" fill="url(#pa_db)"/><polygon points="396.2,260.1 400.6,258.6 404.3,254.2 405,257.9 401.4,263 397,266 391.8,268.9 388.9,270.4 391.1,264.5" fill="url(#pa_db)"/><polygon points="331.6,227.8 337.5,231.5 341.9,235.2 339,236.6 333.8,232.9 330.2,230" fill="url(#pa_db)"/><polygon points="332.4,202.9 335.3,200.6 341.9,200.6 344.1,203.6 344.1,207.3 341.9,209.5 339,208.7 336,206.5 333.1,205.8" fill="#ffdc00"/><polygon points="355.1,197 358,195.5 362.5,196.2 365.4,198.4 362.5,199.9 360.2,201.4 357.3,199.9" fill="#ffdc00"/><polygon points="356.6,206.5 361,205.8 360.2,208.7 357.3,209.5" fill="#ffdc00"/><polygon points="355.8,214.6 358.8,215.3 358,218.3 355.8,217.5" fill="#ffdc00"/><polygon points="380.8,183 383,183.4 383.7,185.2 381.5,185.2" fill="#ffdc00"/><polygon points="385.9,183.8 389.6,184.1 388.1,186.3 386.3,186" fill="#ffdc00"/><polygon points="379.3,244.7 382.3,243.2 385.9,244.7 388.9,242.5 391.1,239.6 393.3,237.4 396.2,238.1 395.5,241.8 397.7,245.4 400.6,246.9 404.3,246.2 407.2,247.6 405.8,251.3 403.6,255 400.6,258.6 397.7,261.6 394,260.1 390.3,263 388.1,266.7 385.9,268.9 383,266 379.3,263 375.7,260.1 372,257.9 374.2,255 377.1,252.8 379.3,249.1" fill="#ffdc00"/><polygon points="382.3,252 387.4,251.3 392.5,252.8 397.7,249.1 403.6,248.4 402.1,254.2 397.7,257.9 391.8,259.4 387.4,261.6 383,257.9" fill="#ff9c00"/><polygon points="354.4,197 356.6,196.2 357.3,198.4 355.1,199.2" fill="#ff9000"/><rect x="371.6" y="190.7" width="2.2" height="2.2" fill="#ffdc00"/><rect x="393.7" y="206.9" width="2.2" height="2.2" fill="#ffdc00"/><rect x="396.6" y="205.4" width="2.2" height="2.2" fill="#ffdc00"/><rect x="348.1" y="223.8" width="2.2" height="2.2" fill="#ffdc00"/><rect x="351.1" y="224.5" width="2.2" height="2.2" fill="#ffdc00"/><rect x="340.8" y="233.3" width="2.2" height="2.2" fill="#ffdc00"/><rect x="403.2" y="172" width="2.2" height="2.2" fill="#ffdc00"/><rect x="324.3" y="206.9" width="2.2" height="2.2" fill="#ffdc00"/><rect x="412" y="268.6" width="2.2" height="2.2" fill="#ffdc00"/><rect x="362.8" y="253.9" width="2.2" height="2.2" fill="#ffdc00"/><rect x="386.9" y="250.1" width="2.4" height="2.4" fill="#1024e4"/><rect x="388.8" y="257.4" width="2.4" height="2.4" fill="#1024e4"/><rect x="392.4" y="247.5" width="2.4" height="2.4" fill="#1024e4"/><rect x="337" y="203.5" width="2.4" height="2.4" fill="#1024e4"/><rect x="395.8" y="241.3" width="2.4" height="2.4" fill="#1024e4"/><ellipse cx="301.1" cy="172.3" rx="1.9" ry="3.7" fill="url(#pa_db)" transform="rotate(35 301.1 172.3)"/><ellipse cx="305.4" cy="179.4" rx="2" ry="2.1" fill="url(#pa_lb)" transform="rotate(0 305.4 179.4)"/><ellipse cx="307.2" cy="186.2" rx="9.3" ry="2" fill="url(#pa_db)" transform="rotate(-32 307.2 186.2)"/><ellipse cx="303.9" cy="199.2" rx="9" ry="2.3" fill="url(#pa_db)" transform="rotate(-18 303.9 199.2)"/><ellipse cx="320.2" cy="160.8" rx="3.7" ry="1.4" fill="url(#pa_lb)" transform="rotate(-30 320.2 160.8)"/><ellipse cx="334.3" cy="165.6" rx="2.8" ry="3.4" fill="url(#pa_db)" transform="rotate(20 334.3 165.6)"/><ellipse cx="339.9" cy="162.5" rx="3.4" ry="1.3" fill="url(#pa_lb)" transform="rotate(-40 339.9 162.5)"/><ellipse cx="326.5" cy="172.3" rx="1.6" ry="1.3" fill="url(#pa_lb)" transform="rotate(0 326.5 172.3)"/><ellipse cx="315.9" cy="175.5" rx="4.3" ry="1.3" fill="url(#pa_lb)" transform="rotate(-25 315.9 175.5)"/><ellipse cx="357.6" cy="179.7" rx="4.3" ry="1.8" fill="url(#pa_lb)" transform="rotate(-30 357.6 179.7)"/><ellipse cx="287" cy="202" rx="1.1" ry="2.8" fill="url(#pa_lb)" transform="rotate(10 287 202)"/><ellipse cx="306.8" cy="212.6" rx="4" ry="1.6" fill="url(#pa_lb)" transform="rotate(-40 306.8 212.6)"/><ellipse cx="311.7" cy="182.9" rx="3.1" ry="1.3" fill="url(#pa_lb)" transform="rotate(-30 311.7 182.9)"/><ellipse cx="415.9" cy="267.2" rx="2.5" ry="4.5" fill="url(#pa_db)" transform="rotate(25 415.9 267.2)"/><rect x="430" y="265.6" width="2" height="2" fill="#3c64f4"/><ellipse cx="424.2" cy="291.6" rx="2.5" ry="1.4" fill="url(#pa_lb)" transform="rotate(-20 424.2 291.6)"/><rect x="443.4" y="294.4" width="2" height="2" fill="#3c64f4"/><rect x="431" y="277.5" width="2" height="2" fill="#3c64f4"/><rect x="482.2" y="244" width="2" height="2" fill="#3c64f4"/><ellipse cx="352.9" cy="243.6" rx="1.9" ry="1.3" fill="url(#pa_lb)" transform="rotate(-30 352.9 243.6)"/><ellipse cx="358.6" cy="246.9" rx="2.3" ry="1.6" fill="url(#pa_lb)" transform="rotate(-20 358.6 246.9)"/><polygon points="277.8,192.1 296.2,158.2 348.4,155.4 359.7,176.6 337.1,196.3 308.9,214.7 286.3,206.2" fill="url(#pa_s)"/><line x1="78.4" y1="40.7" x2="78.4" y2="548.9" stroke="#000" stroke-width="1.2" stroke-dasharray="2.8 5.4" fill="none"/><line x1="157.1" y1="40.7" x2="157.1" y2="548.9" stroke="#000" stroke-width="1.2" stroke-dasharray="2.8 5.4" fill="none"/><line x1="235.9" y1="40.7" x2="235.9" y2="548.9" stroke="#000" stroke-width="1.2" stroke-dasharray="2.8 5.4" fill="none"/><line x1="314.6" y1="40.7" x2="314.6" y2="548.9" stroke="#000" stroke-width="1.2" stroke-dasharray="2.8 5.4" fill="none"/><line x1="393.3" y1="40.7" x2="393.3" y2="548.9" stroke="#000" stroke-width="1.2" stroke-dasharray="2.8 5.4" fill="none"/><line x1="472.1" y1="40.7" x2="472.1" y2="548.9" stroke="#000" stroke-width="1.2" stroke-dasharray="2.8 5.4" fill="none"/><line x1="13.2" y1="113" x2="486.3" y2="113" stroke="#000" stroke-width="1.2" stroke-dasharray="2.8 5.4" fill="none"/><line x1="13.2" y1="197.7" x2="486.3" y2="197.7" stroke="#000" stroke-width="1.2" stroke-dasharray="2.8 5.4" fill="none"/><line x1="13.2" y1="282.3" x2="486.3" y2="282.3" stroke="#000" stroke-width="1.2" stroke-dasharray="2.8 5.4" fill="none"/><line x1="13.2" y1="367" x2="486.3" y2="367" stroke="#000" stroke-width="1.2" stroke-dasharray="2.8 5.4" fill="none"/><line x1="13.2" y1="451.7" x2="486.3" y2="451.7" stroke="#000" stroke-width="1.2" stroke-dasharray="2.8 5.4" fill="none"/><line x1="13.2" y1="536.4" x2="486.3" y2="536.4" stroke="#000" stroke-width="1.2" stroke-dasharray="2.8 5.4" fill="none"/><text x="78.4" y="303.2" font-size="11.8" text-anchor="middle" font-family="Liberation Sans, sans-serif">146</text><text x="157.1" y="303.2" font-size="11.8" text-anchor="middle" font-family="Liberation Sans, sans-serif">148</text><text x="235.9" y="303.2" font-size="11.8" text-anchor="middle" font-family="Liberation Sans, sans-serif">150</text><text x="314.6" y="303.2" font-size="11.8" text-anchor="middle" font-family="Liberation Sans, sans-serif">152</text><text x="393.3" y="303.2" font-size="11.8" text-anchor="middle" font-family="Liberation Sans, sans-serif">154</text><text x="472.1" y="303.2" font-size="11.8" text-anchor="middle" font-family="Liberation Sans, sans-serif">156</text><text x="255.8" y="112.4" font-size="11.8" text-anchor="middle" font-family="Liberation Sans, sans-serif">20</text><text x="255.8" y="197.1" font-size="11.8" text-anchor="middle" font-family="Liberation Sans, sans-serif">18</text><text x="255.8" y="281.7" font-size="11.8" text-anchor="middle" font-family="Liberation Sans, sans-serif">16</text><text x="255.8" y="366.4" font-size="11.8" text-anchor="middle" font-family="Liberation Sans, sans-serif">14</text><text x="255.8" y="451.1" font-size="11.8" text-anchor="middle" font-family="Liberation Sans, sans-serif">12</text><text x="255.8" y="535.8" font-size="11.8" text-anchor="middle" font-family="Liberation Sans, sans-serif">10</text><polyline points="13,40.7 84,81.2 154.7,123.2 225,165.5 295,208.7 390,270.5 481.4,333.5" stroke="#000" stroke-width="1.05" stroke-dasharray="12.1 11.6" fill="none"/><polyline points="197.6,40.7 256,76 314.8,111.9 393.8,162.1 440,193 485.6,224.2" stroke="#000" stroke-width="1.05" stroke-dasharray="12.1 11.6" fill="none"/><path d="M243.6 294.4H256.4M250 288V300.8" stroke="#000" stroke-width="4.2" fill="none"/><text x="37" y="65.6" font-size="25" font-family="Liberation Sans, sans-serif">PR near surface reflectivity (dBZ)</text><text x="439.6" y="523.6" font-size="28" font-family="Liberation Sans, sans-serif">(a)</text><rect x="495" y="540" width="9" height="8.8" fill="#ffffff"/><rect x="495" y="531.6" width="9" height="8.8" fill="#f7f7f7"/><rect x="495" y="523.1" width="9" height="8.8" fill="#f0f0f0"/><rect x="495" y="514.6" width="9" height="8.8" fill="#e8e8e8"/><rect x="495" y="506.2" width="9" height="8.8" fill="#e1e1e1"/><rect x="495" y="497.7" width="9" height="8.8" fill="#d9d9d9"/><rect x="495" y="489.2" width="9" height="8.8" fill="#d2d2d2"/><rect x="495" y="480.8" width="9" height="8.8" fill="#cacaca"/><rect x="495" y="472.3" width="9" height="8.8" fill="#c3c3c3"/><rect x="495" y="463.9" width="9" height="8.8" fill="#bbbbbb"/><rect x="495" y="455.4" width="9" height="8.8" fill="#b4b4b4"/><rect x="495" y="446.9" width="9" height="8.8" fill="#acacac"/><rect x="495" y="438.5" width="9" height="8.8" fill="#a5a5a5"/><rect x="495" y="430" width="9" height="8.8" fill="#9d9d9d"/><rect x="495" y="421.5" width="9" height="8.8" fill="#969696"/><rect x="495" y="413.1" width="9" height="8.8" fill="#86e286"/><rect x="495" y="404.6" width="9" height="8.8" fill="#7ed87e"/><rect x="495" y="396.1" width="9" height="8.8" fill="#76ce76"/><rect x="495" y="387.7" width="9" height="8.8" fill="#6ec46e"/><rect x="495" y="379.2" width="9" height="8.8" fill="#66ba66"/><rect x="495" y="370.7" width="9" height="8.8" fill="#ccd4ff"/><rect x="495" y="362.3" width="9" height="8.8" fill="#b8ccff"/><rect x="495" y="353.8" width="9" height="8.8" fill="#a2c4ff"/><rect x="495" y="345.3" width="9" height="8.8" fill="#84baff"/><rect x="495" y="336.9" width="9" height="8.8" fill="#66b2ff"/><rect x="495" y="328.4" width="9" height="8.8" fill="#50a8ff"/><rect x="495" y="319.9" width="9" height="8.8" fill="#4488ff"/><rect x="495" y="311.5" width="9" height="8.8" fill="#4068ff"/><rect x="495" y="303" width="9" height="8.8" fill="#3a4aff"/><rect x="495" y="294.6" width="9" height="8.8" fill="#3030ff"/><rect x="495" y="286.1" width="9" height="8.8" fill="#0000ff"/><rect x="495" y="277.6" width="9" height="8.8" fill="#0000f0"/><rect x="495" y="269.2" width="9" height="8.8" fill="#0000e0"/><rect x="495" y="260.7" width="9" height="8.8" fill="#0000d0"/><rect x="495" y="252.2" width="9" height="8.8" fill="#0000c0"/><rect x="495" y="243.8" width="9" height="8.8" fill="#ffff00"/><rect x="495" y="235.3" width="9" height="8.8" fill="#fff000"/><rect x="495" y="226.8" width="9" height="8.8" fill="#ffe400"/><rect x="495" y="218.4" width="9" height="8.8" fill="#ffd800"/><rect x="495" y="209.9" width="9" height="8.8" fill="#ffcc00"/><rect x="495" y="201.4" width="9" height="8.8" fill="#ff9000"/><rect x="495" y="193" width="9" height="8.8" fill="#ff8a00"/><rect x="495" y="184.5" width="9" height="8.8" fill="#ff8400"/><rect x="495" y="176" width="9" height="8.8" fill="#ff7e00"/><rect x="495" y="167.6" width="9" height="8.8" fill="#ff7800"/><rect x="495" y="159.1" width="9" height="8.8" fill="#ff4600"/><rect x="495" y="150.6" width="9" height="8.8" fill="#ff3a00"/><rect x="495" y="142.2" width="9" height="8.8" fill="#ff3000"/><rect x="495" y="133.7" width="9" height="8.8" fill="#ff2600"/><rect x="495" y="125.2" width="9" height="8.8" fill="#ff1a08"/><rect x="495" y="116.8" width="9" height="8.8" fill="#cc0000"/><rect x="495" y="108.3" width="9" height="8.8" fill="#c00000"/><rect x="495" y="99.9" width="9" height="8.8" fill="#b40400"/><rect x="495" y="91.4" width="9" height="8.8" fill="#a80800"/><rect x="495" y="82.9" width="9" height="8.8" fill="#9c0c04"/><rect x="495" y="74.5" width="9" height="8.8" fill="#661004"/><rect x="495" y="66" width="9" height="8.8" fill="#621208"/><rect x="495" y="57.5" width="9" height="8.8" fill="#5e1410"/><rect x="495" y="49.1" width="9" height="8.8" fill="#5c1814"/><rect x="495" y="40.6" width="9" height="8.8" fill="#5a1c1c"/><line x1="503.5" y1="91.4" x2="506.3" y2="91.4" stroke="#000" stroke-width="0.9"/><text x="524" y="99.3" font-size="19.1" text-anchor="middle" font-family="Liberation Sans, sans-serif">54</text><line x1="503.5" y1="142.2" x2="506.3" y2="142.2" stroke="#000" stroke-width="0.9"/><text x="524" y="150.1" font-size="19.1" text-anchor="middle" font-family="Liberation Sans, sans-serif">48</text><line x1="503.5" y1="193" x2="506.3" y2="193" stroke="#000" stroke-width="0.9"/><text x="524" y="200.9" font-size="19.1" text-anchor="middle" font-family="Liberation Sans, sans-serif">42</text><line x1="503.5" y1="243.8" x2="506.3" y2="243.8" stroke="#000" stroke-width="0.9"/><text x="524" y="251.7" font-size="19.1" text-anchor="middle" font-family="Liberation Sans, sans-serif">36</text><line x1="503.5" y1="294.6" x2="506.3" y2="294.6" stroke="#000" stroke-width="0.9"/><text x="524" y="302.4" font-size="19.1" text-anchor="middle" font-family="Liberation Sans, sans-serif">30</text><line x1="503.5" y1="345.3" x2="506.3" y2="345.3" stroke="#000" stroke-width="0.9"/><text x="524" y="353.2" font-size="19.1" text-anchor="middle" font-family="Liberation Sans, sans-serif">24</text><line x1="503.5" y1="396.1" x2="506.3" y2="396.1" stroke="#000" stroke-width="0.9"/><text x="524" y="404" font-size="19.1" text-anchor="middle" font-family="Liberation Sans, sans-serif">18</text><line x1="503.5" y1="446.9" x2="506.3" y2="446.9" stroke="#000" stroke-width="0.9"/><text x="524" y="454.8" font-size="19.1" text-anchor="middle" font-family="Liberation Sans, sans-serif">12</text><line x1="503.5" y1="497.7" x2="506.3" y2="497.7" stroke="#000" stroke-width="0.9"/><text x="524" y="505.6" font-size="19.1" text-anchor="middle" font-family="Liberation Sans, sans-serif">6</text><line x1="503.5" y1="548.5" x2="506.3" y2="548.5" stroke="#000" stroke-width="0.9"/><text x="524" y="556.4" font-size="19.1" text-anchor="middle" font-family="Liberation Sans, sans-serif">0</text></g>
<g transform="translate(590.4 0)"><defs><pattern id="pb_blue" width="35.2" height="35.2" patternUnits="userSpaceOnUse" patternTransform="rotate(-33)"><rect width="35.2" height="35.2" fill="#2040ee"/><rect x="0" y="0" width="2.3" height="2.3" fill="#66a4ff"/><rect x="0" y="2.2" width="2.3" height="2.3" fill="#0c18d8"/><rect x="0" y="4.4" width="2.3" height="2.3" fill="#4a80ff"/><rect x="0" y="6.6" width="2.3" height="2.3" fill="#1c38ec"/><rect x="0" y="8.8" width="2.3" height="2.3" fill="#3464f6"/><rect x="0" y="11" width="2.3" height="2.3" fill="#2a50f0"/><rect x="0" y="13.2" width="2.3" height="2.3" fill="#1028e8"/><rect x="0" y="15.4" width="2.3" height="2.3" fill="#3464f6"/><rect x="0" y="17.6" width="2.3" height="2.3" fill="#0c18d8"/><rect x="0" y="19.8" width="2.3" height="2.3" fill="#0c18d8"/><rect x="0" y="22" width="2.3" height="2.3" fill="#66a4ff"/><rect x="0" y="24.2" width="2.3" height="2.3" fill="#66a4ff"/><rect x="0" y="26.4" width="2.3" height="2.3" fill="#3464f6"/><rect x="0" y="28.6" width="2.3" height="2.3" fill="#0c18d8"/><rect x="0" y="30.8" width="2.3" height="2.3" fill="#0c18d8"/><rect x="0" y="33" width="2.3" height="2.3" fill="#3464f6"/><rect x="2.2" y="0" width="2.3" height="2.3" fill="#1028e8"/><rect x="2.2" y="2.2" width="2.3" height="2.3" fill="#4a80ff"/><rect x="2.2" y="4.4" width="2.3" height="2.3" fill="#66a4ff"/><rect x="2.2" y="6.6" width="2.3" height="2.3" fill="#4a80ff"/><rect x="2.2" y="8.8" width="2.3" height="2.3" fill="#0c18d8"/><rect x="2.2" y="11" width="2.3" height="2.3" fill="#1028e8"/><rect x="2.2" y="13.2" width="2.3" height="2.3" fill="#1028e8"/><rect x="2.2" y="15.4" width="2.3" height="2.3" fill="#2a50f0"/><rect x="2.2" y="17.6" width="2.3" height="2.3" fill="#4a80ff"/><rect x="2.2" y="19.8" width="2.3" height="2.3" fill="#1028e8"/><rect x="2.2" y="22" width="2.3" height="2.3" fill="#0c18d8"/><rect x="2.2" y="24.2" width="2.3" height="2.3" fill="#1028e8"/><rect x="2.2" y="26.4" width="2.3" height="2.3" fill="#0c18d8"/><rect x="2.2" y="28.6" width="2.3" height="2.3" fill="#3464f6"/><rect x="2.2" y="30.8" width="2.3" height="2.3" fill="#1028e8"/><rect x="2.2" y="33" width="2.3" height="2.3" fill="#1028e8"/><rect x="4.4" y="0" width="2.3" height="2.3" fill="#1028e8"/><rect x="4.4" y="2.2" width="2.3" height="2.3" fill="#3464f6"/><rect x="4.4" y="4.4" width="2.3" height="2.3" fill="#4a80ff"/><rect x="4.4" y="6.6" width="2.3" height="2.3" fill="#1c38ec"/><rect x="4.4" y="8.8" width="2.3" height="2.3" fill="#2a50f0"/><rect x="4.4" y="11" width="2.3" height="2.3" fill="#1028e8"/><rect x="4.4" y="13.2" width="2.3" height="2.3" fill="#4a80ff"/><rect x="4.4" y="15.4" width="2.3" height="2.3" fill="#3464f6"/><rect x="4.4" y="17.6" width="2.3" height="2.3" fill="#66a4ff"/><rect x="4.4" y="19.8" width="2.3" height="2.3" fill="#0c18d8"/><rect x="4.4" y="22" width="2.3" height="2.3" fill="#1028e8"/><rect x="4.4" y="24.2" width="2.3" height="2.3" fill="#0c18d8"/><rect x="4.4" y="26.4" width="2.3" height="2.3" fill="#1028e8"/><rect x="4.4" y="28.6" width="2.3" height="2.3" fill="#0c18d8"/><rect x="4.4" y="30.8" width="2.3" height="2.3" fill="#1028e8"/><rect x="4.4" y="33" width="2.3" height="2.3" fill="#1c38ec"/><rect x="6.6" y="0" width="2.3" height="2.3" fill="#0c18d8"/><rect x="6.6" y="2.2" width="2.3" height="2.3" fill="#1028e8"/><rect x="6.6" y="4.4" width="2.3" height="2.3" fill="#66a4ff"/><rect x="6.6" y="6.6" width="2.3" height="2.3" fill="#1c38ec"/><rect x="6.6" y="8.8" width="2.3" height="2.3" fill="#1028e8"/><rect x="6.6" y="11" width="2.3" height="2.3" fill="#0c18d8"/><rect x="6.6" y="13.2" width="2.3" height="2.3" fill="#4a80ff"/><rect x="6.6" y="15.4" width="2.3" height="2.3" fill="#1c38ec"/><rect x="6.6" y="17.6" width="2.3" height="2.3" fill="#0c18d8"/><rect x="6.6" y="19.8" width="2.3" height="2.3" fill="#2a50f0"/><rect x="6.6" y="22" width="2.3" height="2.3" fill="#66a4ff"/><rect x="6.6" y="24.2" width="2.3" height="2.3" fill="#0c18d8"/><rect x="6.6" y="26.4" width="2.3" height="2.3" fill="#0c18d8"/><rect x="6.6" y="28.6" width="2.3" height="2.3" fill="#2a50f0"/><rect x="6.6" y="30.8" width="2.3" height="2.3" fill="#2a50f0"/><rect x="6.6" y="33" width="2.3" height="2.3" fill="#3464f6"/><rect x="8.8" y="0" width="2.3" height="2.3" fill="#3464f6"/><rect x="8.8" y="2.2" width="2.3" height="2.3" fill="#2a50f0"/><rect x="8.8" y="4.4" width="2.3" height="2.3" fill="#1c38ec"/><rect x="8.8" y="6.6" width="2.3" height="2.3" fill="#2a50f0"/><rect x="8.8" y="8.8" width="2.3" height="2.3" fill="#1028e8"/><rect x="8.8" y="11" width="2.3" height="2.3" fill="#4a80ff"/><rect x="8.8" y="13.2" width="2.3" height="2.3" fill="#1028e8"/><rect x="8.8" y="15.4" width="2.3" height="2.3" fill="#0c18d8"/><rect x="8.8" y="17.6" width="2.3" height="2.3" fill="#1028e8"/><rect x="8.8" y="19.8" width="2.3" height="2.3" fill="#1028e8"/><rect x="8.8" y="22" width="2.3" height="2.3" fill="#2a50f0"/><rect x="8.8" y="24.2" width="2.3" height="2.3" fill="#1028e8"/><rect x="8.8" y="26.4" width="2.3" height="2.3" fill="#1028e8"/><rect x="8.8" y="28.6" width="2.3" height="2.3" fill="#1028e8"/><rect x="8.8" y="30.8" width="2.3" height="2.3" fill="#1c38ec"/><rect x="8.8" y="33" width="2.3" height="2.3" fill="#0c18d8"/><rect x="11" y="0" width="2.3" height="2.3" fill="#0c18d8"/><rect x="11" y="2.2" width="2.3" height="2.3" fill="#0c18d8"/><rect x="11" y="4.4" width="2.3" height="2.3" fill="#66a4ff"/><rect x="11" y="6.6" width="2.3" height="2.3" fill="#1028e8"/><rect x="11" y="8.8" width="2.3" height="2.3" fill="#0c18d8"/><rect x="11" y="11" width="2.3" height="2.3" fill="#1028e8"/><rect x="11" y="13.2" width="2.3" height="2.3" fill="#2a50f0"/><rect x="11" y="15.4" width="2.3" height="2.3" fill="#2a50f0"/><rect x="11" y="17.6" width="2.3" height="2.3" fill="#0c18d8"/><rect x="11" y="19.8" width="2.3" height="2.3" fill="#1028e8"/><rect x="11" y="22" width="2.3" height="2.3" fill="#66a4ff"/><rect x="11" y="24.2" width="2.3" height="2.3" fill="#1028e8"/><rect x="11" y="26.4" width="2.3" height="2.3" fill="#0c18d8"/><rect x="11" y="28.6" width="2.3" height="2.3" fill="#0c18d8"/><rect x="11" y="30.8" width="2.3" height="2.3" fill="#4a80ff"/><rect x="11" y="33" width="2.3" height="2.3" fill="#1028e8"/><rect x="13.2" y="0" width="2.3" height="2.3" fill="#1c38ec"/><rect x="13.2" y="2.2" width="2.3" height="2.3" fill="#1c38ec"/><rect x="13.2" y="4.4" width="2.3" height="2.3" fill="#1c38ec"/><rect x="13.2" y="6.6" width="2.3" height="2.3" fill="#4a80ff"/><rect x="13.2" y="8.8" width="2.3" height="2.3" fill="#1028e8"/><rect x="13.2" y="11" width="2.3" height="2.3" fill="#1028e8"/><rect x="13.2" y="13.2" width="2.3" height="2.3" fill="#3464f6"/><rect x="13.2" y="15.4" width="2.3" height="2.3" fill="#0c18d8"/><rect x="13.2" y="17.6" width="2.3" height="2.3" fill="#1028e8"/><rect x="13.2" y="19.8" width="2.3" height="2.3" fill="#0c18d8"/><rect x="13.2" y="22" width="2.3" height="2.3" fill="#2a50f0"/><rect x="13.2" y="24.2" width="2.3" height="2.3" fill="#0c18d8"/><rect x="13.2" y="26.4" width="2.3" height="2.3" fill="#0c18d8"/><rect x="13.2" y="28.6" width="2.3" height="2.3" fill="#1028e8"/><rect x="13.2" y="30.8" width="2.3" height="2.3" fill="#66a4ff"/><rect x="13.2" y="33" width="2.3" height="2.3" fill="#0c18d8"/><rect x="15.4" y="0" width="2.3" height="2.3" fill="#1028e8"/><rect x="15.4" y="2.2" width="2.3" height="2.3" fill="#0c18d8"/><rect x="15.4" y="4.4" width="2.3" height="2.3" fill="#0c18d8"/><rect x="15.4" y="6.6" width="2.3" height="2.3" fill="#0c18d8"/><rect x="15.4" y="8.8" width="2.3" height="2.3" fill="#0c18d8"/><rect x="15.4" y="11" width="2.3" height="2.3" fill="#1c38ec"/><rect x="15.4" y="13.2" width="2.3" height="2.3" fill="#1028e8"/><rect x="15.4" y="15.4" width="2.3" height="2.3" fill="#1028e8"/><rect x="15.4" y="17.6" width="2.3" height="2.3" fill="#1c38ec"/><rect x="15.4" y="19.8" width="2.3" height="2.3" fill="#1028e8"/><rect x="15.4" y="22" width="2.3" height="2.3" fill="#1028e8"/><rect x="15.4" y="24.2" width="2.3" height="2.3" fill="#4a80ff"/><rect x="15.4" y="26.4" width="2.3" height="2.3" fill="#1028e8"/><rect x="15.4" y="28.6" width="2.3" height="2.3" fill="#1c38ec"/><rect x="15.4" y="30.8" width="2.3" height="2.3" fill="#3464f6"/><rect x="15.4" y="33" width="2.3" height="2.3" fill="#1c38ec"/><rect x="17.6" y="0" width="2.3" height="2.3" fill="#1c38ec"/><rect x="17.6" y="2.2" width="2.3" height="2.3" fill="#0c18d8"/><rect x="17.6" y="4.4" width="2.3" height="2.3" fill="#3464f6"/><rect x="17.6" y="6.6" width="2.3" height="2.3" fill="#1028e8"/><rect x="17.6" y="8.8" width="2.3" height="2.3" fill="#1028e8"/><rect x="17.6" y="11" width="2.3" height="2.3" fill="#1028e8"/><rect x="17.6" y="13.2" width="2.3" height="2.3" fill="#1c38ec"/><rect x="17.6" y="15.4" width="2.3" height="2.3" fill="#0c18d8"/><rect x="17.6" y="17.6" width="2.3" height="2.3" fill="#3464f6"/><rect x="17.6" y="19.8" width="2.3" height="2.3" fill="#0c18d8"/><rect x="17.6" y="22" width="2.3" height="2.3" fill="#1c38ec"/><rect x="17.6" y="24.2" width="2.3" height="2.3" fill="#4a80ff"/><rect x="17.6" y="26.4" width="2.3" height="2.3" fill="#1c38ec"/><rect x="17.6" y="28.6" width="2.3" height="2.3" fill="#4a80ff"/><rect x="17.6" y="30.8" width="2.3" height="2.3" fill="#1c38ec"/><rect x="17.6" y="33" width="2.3" height="2.3" fill="#1c38ec"/><rect x="19.8" y="0" width="2.3" height="2.3" fill="#0c18d8"/><rect x="19.8" y="2.2" width="2.3" height="2.3" fill="#0c18d8"/><rect x="19.8" y="4.4" width="2.3" height="2.3" fill="#1028e8"/><rect x="19.8" y="6.6" width="2.3" height="2.3" fill="#2a50f0"/><rect x="19.8" y="8.8" width="2.3" height="2.3" fill="#1028e8"/><rect x="19.8" y="11" width="2.3" height="2.3" fill="#4a80ff"/><rect x="19.8" y="13.2" width="2.3" height="2.3" fill="#0c18d8"/><rect x="19.8" y="15.4" width="2.3" height="2.3" fill="#0c18d8"/><rect x="19.8" y="17.6" width="2.3" height="2.3" fill="#66a4ff"/><rect x="19.8" y="19.8" width="2.3" height="2.3" fill="#0c18d8"/><rect x="19.8" y="22" width="2.3" height="2.3" fill="#66a4ff"/><rect x="19.8" y="24.2" width="2.3" height="2.3" fill="#1c38ec"/><rect x="19.8" y="26.4" width="2.3" height="2.3" fill="#4a80ff"/><rect x="19.8" y="28.6" width="2.3" height="2.3" fill="#1028e8"/><rect x="19.8" y="30.8" width="2.3" height="2.3" fill="#2a50f0"/><rect x="19.8" y="33" width="2.3" height="2.3" fill="#2a50f0"/><rect x="22" y="0" width="2.3" height="2.3" fill="#1c38ec"/><rect x="22" y="2.2" width="2.3" height="2.3" fill="#1c38ec"/><rect x="22" y="4.4" width="2.3" height="2.3" fill="#66a4ff"/><rect x="22" y="6.6" width="2.3" height="2.3" fill="#3464f6"/><rect x="22" y="8.8" width="2.3" height="2.3" fill="#4a80ff"/><rect x="22" y="11" width="2.3" height="2.3" fill="#2a50f0"/><rect x="22" y="13.2" width="2.3" height="2.3" fill="#1c38ec"/><rect x="22" y="15.4" width="2.3" height="2.3" fill="#66a4ff"/><rect x="22" y="17.6" width="2.3" height="2.3" fill="#3464f6"/><rect x="22" y="19.8" width="2.3" height="2.3" fill="#0c18d8"/><rect x="22" y="22" width="2.3" height="2.3" fill="#66a4ff"/><rect x="22" y="24.2" width="2.3" height="2.3" fill="#2a50f0"/><rect x="22" y="26.4" width="2.3" height="2.3" fill="#1028e8"/><rect x="22" y="28.6" width="2.3" height="2.3" fill="#0c18d8"/><rect x="22" y="30.8" width="2.3" height="2.3" fill="#66a4ff"/><rect x="22" y="33" width="2.3" height="2.3" fill="#1c38ec"/><rect x="24.2" y="0" width="2.3" height="2.3" fill="#4a80ff"/><rect x="24.2" y="2.2" width="2.3" height="2.3" fill="#0c18d8"/><rect x="24.2" y="4.4" width="2.3" height="2.3" fill="#1c38ec"/><rect x="24.2" y="6.6" width="2.3" height="2.3" fill="#2a50f0"/><rect x="24.2" y="8.8" width="2.3" height="2.3" fill="#1c38ec"/><rect x="24.2" y="11" width="2.3" height="2.3" fill="#4a80ff"/><rect x="24.2" y="13.2" width="2.3" height="2.3" fill="#1028e8"/><rect x="24.2" y="15.4" width="2.3" height="2.3" fill="#0c18d8"/><rect x="24.2" y="17.6" width="2.3" height="2.3" fill="#0c18d8"/><rect x="24.2" y="19.8" width="2.3" height="2.3" fill="#0c18d8"/><rect x="24.2" y="22" width="2.3" height="2.3" fill="#3464f6"/><rect x="24.2" y="24.2" width="2.3" height="2.3" fill="#1c38ec"/><rect x="24.2" y="26.4" width="2.3" height="2.3" fill="#1028e8"/><rect x="24.2" y="28.6" width="2.3" height="2.3" fill="#0c18d8"/><rect x="24.2" y="30.8" width="2.3" height="2.3" fill="#1028e8"/><rect x="24.2" y="33" width="2.3" height="2.3" fill="#1028e8"/><rect x="26.4" y="0" width="2.3" height="2.3" fill="#1028e8"/><rect x="26.4" y="2.2" width="2.3" height="2.3" fill="#1028e8"/><rect x="26.4" y="4.4" width="2.3" height="2.3" fill="#4a80ff"/><rect x="26.4" y="6.6" width="2.3" height="2.3" fill="#66a4ff"/><rect x="26.4" y="8.8" width="2.3" height="2.3" fill="#1028e8"/><rect x="26.4" y="11" width="2.3" height="2.3" fill="#3464f6"/><rect x="26.4" y="13.2" width="2.3" height="2.3" fill="#0c18d8"/><rect x="26.4" y="15.4" width="2.3" height="2.3" fill="#1028e8"/><rect x="26.4" y="17.6" width="2.3" height="2.3" fill="#0c18d8"/><rect x="26.4" y="19.8" width="2.3" height="2.3" fill="#66a4ff"/><rect x="26.4" y="22" width="2.3" height="2.3" fill="#1028e8"/><rect x="26.4" y="24.2" width="2.3" height="2.3" fill="#3464f6"/><rect x="26.4" y="26.4" width="2.3" height="2.3" fill="#0c18d8"/><rect x="26.4" y="28.6" width="2.3" height="2.3" fill="#0c18d8"/><rect x="26.4" y="30.8" width="2.3" height="2.3" fill="#0c18d8"/><rect x="26.4" y="33" width="2.3" height="2.3" fill="#1c38ec"/><rect x="28.6" y="0" width="2.3" height="2.3" fill="#66a4ff"/><rect x="28.6" y="2.2" width="2.3" height="2.3" fill="#2a50f0"/><rect x="28.6" y="4.4" width="2.3" height="2.3" fill="#0c18d8"/><rect x="28.6" y="6.6" width="2.3" height="2.3" fill="#2a50f0"/><rect x="28.6" y="8.8" width="2.3" height="2.3" fill="#66a4ff"/><rect x="28.6" y="11" width="2.3" height="2.3" fill="#1028e8"/><rect x="28.6" y="13.2" width="2.3" height="2.3" fill="#1028e8"/><rect x="28.6" y="15.4" width="2.3" height="2.3" fill="#0c18d8"/><rect x="28.6" y="17.6" width="2.3" height="2.3" fill="#66a4ff"/><rect x="28.6" y="19.8" width="2.3" height="2.3" fill="#1028e8"/><rect x="28.6" y="22" width="2.3" height="2.3" fill="#1028e8"/><rect x="28.6" y="24.2" width="2.3" height="2.3" fill="#1028e8"/><rect x="28.6" y="26.4" width="2.3" height="2.3" fill="#3464f6"/><rect x="28.6" y="28.6" width="2.3" height="2.3" fill="#2a50f0"/><rect x="28.6" y="30.8" width="2.3" height="2.3" fill="#4a80ff"/><rect x="28.6" y="33" width="2.3" height="2.3" fill="#0c18d8"/><rect x="30.8" y="0" width="2.3" height="2.3" fill="#0c18d8"/><rect x="30.8" y="2.2" width="2.3" height="2.3" fill="#66a4ff"/><rect x="30.8" y="4.4" width="2.3" height="2.3" fill="#1028e8"/><rect x="30.8" y="6.6" width="2.3" height="2.3" fill="#0c18d8"/><rect x="30.8" y="8.8" width="2.3" height="2.3" fill="#0c18d8"/><rect x="30.8" y="11" width="2.3" height="2.3" fill="#1028e8"/><rect x="30.8" y="13.2" width="2.3" height="2.3" fill="#1028e8"/><rect x="30.8" y="15.4" width="2.3" height="2.3" fill="#2a50f0"/><rect x="30.8" y="17.6" width="2.3" height="2.3" fill="#1c38ec"/><rect x="30.8" y="19.8" width="2.3" height="2.3" fill="#4a80ff"/><rect x="30.8" y="22" width="2.3" height="2.3" fill="#0c18d8"/><rect x="30.8" y="24.2" width="2.3" height="2.3" fill="#0c18d8"/><rect x="30.8" y="26.4" width="2.3" height="2.3" fill="#3464f6"/><rect x="30.8" y="28.6" width="2.3" height="2.3" fill="#1028e8"/><rect x="30.8" y="30.8" width="2.3" height="2.3" fill="#1c38ec"/><rect x="30.8" y="33" width="2.3" height="2.3" fill="#66a4ff"/><rect x="33" y="0" width="2.3" height="2.3" fill="#66a4ff"/><rect x="33" y="2.2" width="2.3" height="2.3" fill="#2a50f0"/><rect x="33" y="4.4" width="2.3" height="2.3" fill="#0c18d8"/><rect x="33" y="6.6" width="2.3" height="2.3" fill="#2a50f0"/><rect x="33" y="8.8" width="2.3" height="2.3" fill="#4a80ff"/><rect x="33" y="11" width="2.3" height="2.3" fill="#66a4ff"/><rect x="33" y="13.2" width="2.3" height="2.3" fill="#0c18d8"/><rect x="33" y="15.4" width="2.3" height="2.3" fill="#4a80ff"/><rect x="33" y="17.6" width="2.3" height="2.3" fill="#1028e8"/><rect x="33" y="19.8" width="2.3" height="2.3" fill="#3464f6"/><rect x="33" y="22" width="2.3" height="2.3" fill="#1028e8"/><rect x="33" y="24.2" width="2.3" height="2.3" fill="#1028e8"/><rect x="33" y="26.4" width="2.3" height="2.3" fill="#0c18d8"/><rect x="33" y="28.6" width="2.3" height="2.3" fill="#66a4ff"/><rect x="33" y="30.8" width="2.3" height="2.3" fill="#0c18d8"/><rect x="33" y="33" width="2.3" height="2.3" fill="#0c18d8"/></pattern></defs><path d="M314,214.6 315.5,211.7 316.9,209.8 319.1,210.9 321.3,208.7 324.3,206.5 327.2,205.1 330.2,202.9 333.1,199.9 335.3,197.7 337.5,195.5 339,193.3 341.2,191.1 344.1,192.6 347,194 349.2,197 351.4,198.4 354.4,197 356.6,194 359.5,191.1 362.5,188.9 364.7,186.7 365.4,183.8 363.9,180.8 361.7,179.4 359.5,177.9 358,179.4 355.8,181.6 353.6,183.8 352.9,182.3 355.1,180.1 358,177.9 361,176.4 363.9,175 365.4,173.5 368.3,172 372,171.3 374.2,169.8 377.1,169.1 380.1,168.4 382.3,167.6 383.7,165.4 383,162.5 380.8,160.3 379.3,161 377.9,161.7 379.3,159.5 382.3,158.1 384.5,158.4 408.3,172 408,175 408.7,177.9 407.2,179.4 405,180.8 404.7,184.5 405.4,188.2 407.2,190 409.4,188.2 412.4,186 414.6,184.5 416,181.6 418.2,179.4 430.7,187.4 430,189.6 428.5,191.1 429.3,194 430,197 428.5,199.2 425.6,200.6 422.6,202.1 421.9,205.1 422.6,208.7 424.1,211.7 426.3,213.9 427,216.1 424.1,216.4 421.2,217.2 419.7,219 421.9,221.6 422.6,224.1 419.7,226.3 417.5,228.5 418.2,230.7 416.8,232.9 414.6,234.4 412.4,235.9 415.3,238.8 418.2,241.4 414.6,241 412.4,243.2 410.9,245.4 411.6,248.4 410.9,251.3 411.6,254.2 409.4,255.7 407.2,257.2 404.3,257.9 402.8,260.1 403.6,263 401.4,264.5 398.4,265.2 396.2,266.7 394,267.4 391.8,266.7 391.1,268.9 388.9,271.1 361,252 363.2,250.6 366.1,249.8 368.3,248.4 370.5,246.9 369.8,244.7 367.6,245.4 366.1,244 367.6,242.5 369.1,241 368.3,238.8 366.9,236.6 367.6,234.4 369.8,232.9 372,234.4 374.2,232.2 375.7,230.7 377.9,231.5 380.1,230.7 382.3,229.3 384.5,230 386.7,231.5 388.9,232.9 390.3,230.7 391.1,227.8 391.8,224.9 392.5,221.9 393.3,219 392.5,216.1 390.3,215.3 388.1,214.6 386.7,216.1 385.2,214.6 383,213.9 382.3,211.7 380.1,210.2 377.9,209.8 375.7,210.2 374.2,211.7 375.7,213.1 377.9,214.6 378.6,216.8 375.7,218.3 373.5,219 372,218.3 371.3,220.5 368.3,221.2 365.4,222.7 362.5,224.1 359.5,226.3 357.3,228.5 355.1,230.7 353.6,233.7 352.2,235.2 350.7,237.4 349.2,238.8 347,239.6 344.8,241 321.3,225.6 324.3,222.7 327.2,220.5 328,217.5 330.2,215.3 330.9,213.1 328.7,212.4 326.5,213.9 324.3,214.6 321.3,215.3 318.4,216.1 315.5,216.8ZM338.2,222.7 340.4,221.2 342.6,220.5 344.1,218.3 346.3,216.8 349.2,216.1 351.4,216.8 350,219 347.8,221.2 345.6,223.4 343.4,224.9 340.4,225.2 338.6,224.5ZM397.7,216.1 399.9,214.6 401.4,216.1 402.1,219 404.3,220.5 405.8,222.7 405,224.9 402.8,224.1 400.6,222.7 398.4,221.9 397.3,219ZM411.6,213.1 413.8,211.7 416.8,212.4 419.7,213.1 422.6,213.9 424.1,215.3 421.9,216.1 419,216.1 416.8,217.5 414.6,218.3 412.4,217.5ZM402.8,230 405,228.5 408,229.3 408.7,231.5 406.5,232.9 403.6,232.6ZM413.8,200.6 414.9,199.5 416.4,199.9 417.1,201.4 416.4,202.9 414.9,203 413.8,202.1ZM391.1,195.5 393.3,195.5 393.3,200.6 391.1,200.6Z" fill="url(#pb_blue)" fill-rule="evenodd"/><path d="M408.3,172L408,175L408.7,177.9L407.2,179.4L405,180.8L404.7,184.5L405.4,188.2L407.2,190L409.4,188.2L412.4,186L414.6,184.5L416,181.6L418.2,179.4M430.7,187.4L430,189.6L428.5,191.1L429.3,194L430,197L428.5,199.2L425.6,200.6L422.6,202.1L421.9,205.1L422.6,208.7L424.1,211.7L426.3,213.9L427,216.1L424.1,216.4L421.2,217.2L419.7,219L421.9,221.6L422.6,224.1L419.7,226.3L417.5,228.5L418.2,230.7L416.8,232.9L414.6,234.4L412.4,235.9L415.3,238.8L418.2,241.4L414.6,241L412.4,243.2L410.9,245.4L411.6,248.4L410.9,251.3L411.6,254.2L409.4,255.7L407.2,257.2L404.3,257.9L402.8,260.1L403.6,263L401.4,264.5L398.4,265.2L396.2,266.7L394,267.4L391.8,266.7L391.1,268.9L388.9,271.1M361,252L363.2,250.6L366.1,249.8L368.3,248.4L370.5,246.9L369.8,244.7L367.6,245.4L366.1,244L367.6,242.5L369.1,241L368.3,238.8L366.9,236.6L367.6,234.4L369.8,232.9L372,234.4L374.2,232.2L375.7,230.7L377.9,231.5L380.1,230.7L382.3,229.3L384.5,230L386.7,231.5L388.9,232.9L390.3,230.7L391.1,227.8L391.8,224.9L392.5,221.9L393.3,219L392.5,216.1L390.3,215.3L388.1,214.6L386.7,216.1L385.2,214.6L383,213.9L382.3,211.7L380.1,210.2L377.9,209.8L375.7,210.2L374.2,211.7L375.7,213.1L377.9,214.6L378.6,216.8L375.7,218.3L373.5,219L372,218.3L371.3,220.5L368.3,221.2L365.4,222.7L362.5,224.1L359.5,226.3L357.3,228.5L355.1,230.7L353.6,233.7L352.2,235.2L350.7,237.4L349.2,238.8L347,239.6L344.8,241M321.3,225.6L324.3,222.7L327.2,220.5L328,217.5L330.2,215.3L330.9,213.1L328.7,212.4L326.5,213.9L324.3,214.6L321.3,215.3L318.4,216.1L315.5,216.8L314,214.6L315.5,211.7L316.9,209.8L319.1,210.9L321.3,208.7L324.3,206.5L327.2,205.1L330.2,202.9L333.1,199.9L335.3,197.7L337.5,195.5L339,193.3L341.2,191.1L344.1,192.6L347,194L349.2,197L351.4,198.4L354.4,197L356.6,194L359.5,191.1L362.5,188.9L364.7,186.7L365.4,183.8L363.9,180.8L361.7,179.4L359.5,177.9L358,179.4L355.8,181.6L353.6,183.8L352.9,182.3L355.1,180.1L358,177.9L361,176.4L363.9,175L365.4,173.5L368.3,172L372,171.3L374.2,169.8L377.1,169.1L380.1,168.4L382.3,167.6L383.7,165.4L383,162.5L380.8,160.3L379.3,161L377.9,161.7L379.3,159.5L382.3,158.1L384.5,158.4M338.2,222.7L340.4,221.2L342.6,220.5L344.1,218.3L346.3,216.8L349.2,216.1L351.4,216.8L350,219L347.8,221.2L345.6,223.4L343.4,224.9L340.4,225.2L338.6,224.5ZM397.7,216.1L399.9,214.6L401.4,216.1L402.1,219L404.3,220.5L405.8,222.7L405,224.9L402.8,224.1L400.6,222.7L398.4,221.9L397.3,219ZM411.6,213.1L413.8,211.7L416.8,212.4L419.7,213.1L422.6,213.9L424.1,215.3L421.9,216.1L419,216.1L416.8,217.5L414.6,218.3L412.4,217.5ZM402.8,230L405,228.5L408,229.3L408.7,231.5L406.5,232.9L403.6,232.6ZM413.8,200.6L414.9,199.5L416.4,199.9L417.1,201.4L416.4,202.9L414.9,203L413.8,202.1ZM391.1,195.5L393.3,195.5L393.3,200.6L391.1,200.6Z" fill="none" stroke="#000" stroke-width="1.1" stroke-linejoin="round"/><rect x="385.6" y="195.2" width="2.1" height="2.1" fill="#fff" stroke="#000" stroke-width="1"/><rect x="382.3" y="192.9" width="1.5" height="1.5" fill="#fff" stroke="#000" stroke-width="1"/><rect x="394.6" y="182.9" width="1.8" height="1.8" fill="#fff" stroke="#000" stroke-width="1"/><rect x="401.9" y="180.7" width="1.8" height="1.8" fill="#fff" stroke="#000" stroke-width="1"/><rect x="405" y="212.4" width="1.5" height="1.5" fill="#fff" stroke="#000" stroke-width="1"/><rect x="409.4" y="210.2" width="1.5" height="1.5" fill="#fff" stroke="#000" stroke-width="1"/><polygon points="323.5,209.5 326.5,207.3 330.2,205.1 333.8,201.4 337.5,198.4 341.2,197.7 344.1,199.9 346.3,202.9 349.2,204.3 352.2,202.9 350.7,205.8 347.8,208 344.8,208.7 341.9,207.3 339,208.7 336,208 333.1,208.7 330.2,208 327.2,209.5 324.3,210.6" fill="#ffdc00"/><polygon points="350.7,202.9 353.6,199.9 356.6,197 359.5,194 362.5,193.3 365.4,191.1 368.3,189.6 371.3,188.2 374.2,188.9 375.7,191.1 376,194 374.9,197.7 373.5,201.4 372,204.3 369.8,205.8 367.6,208 368.3,210.9 367.6,213.9 366.1,216.1 363.9,217.5 361,217.5 358,216.1 356.6,213.9 354.4,211.7 353.6,208.7 354.4,206.5 352.2,205.8" fill="#ffdc00"/><polygon points="349.2,222.7 352.2,221.2 355.1,221.9 355.8,224.9 353.6,227.1 350.7,226.3" fill="#ffdc00"/><polygon points="382.3,205.8 384.5,204.3 387.4,205.1 390.3,206.5 393.3,207.3 396.2,205.8 399.2,202.9 401.4,200.6 403.6,198.4 406.5,197.7 412.4,197 413.1,198.4 408.7,199.9 405.8,201.4 403.6,204.3 400.6,207.3 397.7,209.5 394,210.2 390.3,210.9 388.9,213.1 386.7,210.9 383.7,209.5 381.9,208" fill="#ffdc00"/><polygon points="381.5,183 384.5,182.3 387.4,183.8 390.3,184.5 389.6,186 385.9,185.2 383,184.9" fill="#ffdc00"/><polygon points="377.9,234.4 381.5,233.7 385.2,235.2 387.4,238.1 390.3,236.6 394,234.4 396.2,232.9 397.7,235.2 397,238.1 399.9,240.3 402.1,243.2 405,244 408,245.4 408.7,248.4 407.2,251.3 405,254.2 402.8,256.4 400.6,259.4 399.2,262.3 396.2,263.8 393.3,263 390.3,264.5 388.9,267.4 386.7,268.9 384.5,266.7 382.3,264.5 379.3,262.3 375.7,260.1 372.7,257.9 371.3,256.4 373.5,255 375.7,252.8 377.9,250.6 378.6,247.6 377.1,244.7 377.9,241.8 379.3,238.8 378.6,236.6" fill="#ffdc00"/><polygon points="337.5,213.9 340.4,213.9 340.4,216.8 337.5,216.8" fill="#ffdc00"/><polygon points="341.2,232.9 343.4,232.6 343,235.9 341.3,236" fill="#ffdc00"/><polygon points="345.6,226.3 347,226.3 347,228.5 345.6,228.5" fill="#ffdc00"/><polygon points="394,226.3 397,226.3 397,228.5 394,228.5" fill="#ffdc00"/><polygon points="403.6,172 405,171.3 405,173.5 403.9,173.9" fill="#ffdc00"/><polygon points="339,201.4 342.6,200.6 344.8,203.6 341.9,206.5 339,205.1" fill="#ff9600"/><polygon points="356.6,198.4 361,194.8 365.4,194 367.6,197 363.9,199.9 360.2,202.9 357.3,201.4" fill="#ff9600"/><polygon points="356.6,208.7 361,210.9 363.9,214.6 361,216.1 357.3,213.1" fill="#ff9600"/><polygon points="392.5,238.1 396.2,236.6 397.7,241 395.5,245.4 391.8,244.7 390.3,241" fill="#ff9600"/><polygon points="383,251.3 387.4,252 390.3,255 388.9,257.9 384.5,257.2 381.5,254.2" fill="#ff9600"/><polygon points="399.9,246.9 404.3,247.6 405,251.3 401.4,252.8 399.2,250.6" fill="#ff9600"/><polygon points="385.9,260.1 388.9,260.8 388.1,264.5 385.9,263.8" fill="#ff9600"/><polygon points="385.9,238.1 389.6,238.8 388.9,241.8 386.7,241" fill="#1028e8"/><polygon points="362.5,252.8 364.6,250 367.5,248.3 370.7,249.3 371.3,246 369.6,242.9 366.8,241.5 364.2,242.9 362.5,245 360,246 358.3,248.6 360.4,251.4" fill="#fff" stroke="#000" stroke-width="1.1"/><ellipse cx="301.1" cy="172.3" rx="1.7" ry="3.7" fill="#2c54f4" stroke="#000" stroke-width="1.1" transform="rotate(35 301.1 172.3)"/><ellipse cx="305.4" cy="179.4" rx="1.8" ry="2.1" fill="#2c54f4" stroke="#000" stroke-width="1.1" transform="rotate(0 305.4 179.4)"/><ellipse cx="307.2" cy="186.2" rx="8.5" ry="2" fill="#2c54f4" stroke="#000" stroke-width="1.1" transform="rotate(-32 307.2 186.2)"/><ellipse cx="303.9" cy="199.2" rx="8.2" ry="2.3" fill="#2c54f4" stroke="#000" stroke-width="1.1" transform="rotate(-18 303.9 199.2)"/><ellipse cx="320.2" cy="160.8" rx="3.4" ry="1.4" fill="#fff" stroke="#000" stroke-width="1.1" transform="rotate(-30 320.2 160.8)"/><ellipse cx="334.3" cy="165.6" rx="2.5" ry="3.4" fill="#2c54f4" stroke="#000" stroke-width="1.1" transform="rotate(20 334.3 165.6)"/><ellipse cx="339.9" cy="162.5" rx="3.1" ry="1.3" fill="#2c54f4" stroke="#000" stroke-width="1.1" transform="rotate(-40 339.9 162.5)"/><ellipse cx="326.5" cy="172.3" rx="1.4" ry="1.3" fill="#2c54f4" stroke="#000" stroke-width="1.1" transform="rotate(0 326.5 172.3)"/><ellipse cx="315.9" cy="175.5" rx="4" ry="1.3" fill="#fff" stroke="#000" stroke-width="1.1" transform="rotate(-25 315.9 175.5)"/><ellipse cx="357.6" cy="179.7" rx="4" ry="1.8" fill="#fff" stroke="#000" stroke-width="1.1" transform="rotate(-30 357.6 179.7)"/><ellipse cx="287" cy="202" rx="1" ry="2.8" fill="#fff" stroke="#000" stroke-width="1.1" transform="rotate(10 287 202)"/><ellipse cx="306.8" cy="212.6" rx="3.7" ry="1.6" fill="#fff" stroke="#000" stroke-width="1.1" transform="rotate(-40 306.8 212.6)"/><ellipse cx="311.7" cy="182.9" rx="2.8" ry="1.3" fill="#2c54f4" stroke="#000" stroke-width="1.1" transform="rotate(-30 311.7 182.9)"/><ellipse cx="415.9" cy="267.2" rx="2.3" ry="4.5" fill="#2c54f4" stroke="#000" stroke-width="1.1" transform="rotate(25 415.9 267.2)"/><circle cx="431" cy="266.6" r="1.3" fill="#000"/><ellipse cx="424.2" cy="291.6" rx="2.3" ry="1.4" fill="#2c54f4" stroke="#000" stroke-width="1.1" transform="rotate(-20 424.2 291.6)"/><circle cx="444.4" cy="295.4" r="1.3" fill="#000"/><circle cx="432" cy="278.5" r="0.7" fill="#000"/><circle cx="483.2" cy="245" r="1" fill="#000"/><ellipse cx="352.9" cy="243.6" rx="1.7" ry="1.3" fill="#2c54f4" stroke="#000" stroke-width="1.1" transform="rotate(-30 352.9 243.6)"/><ellipse cx="358.6" cy="246.9" rx="2.1" ry="1.6" fill="#2c54f4" stroke="#000" stroke-width="1.1" transform="rotate(-20 358.6 246.9)"/><circle cx="299" cy="159.6" r="0.9" fill="#000"/><circle cx="307.5" cy="160.4" r="0.9" fill="#000"/><circle cx="331.5" cy="157.5" r="0.9" fill="#000"/><circle cx="310.3" cy="168.1" r="0.9" fill="#000"/><circle cx="314.5" cy="166.7" r="0.9" fill="#000"/><circle cx="335.7" cy="170.9" r="0.9" fill="#000"/><circle cx="342.8" cy="169.5" r="0.9" fill="#000"/><circle cx="347" cy="174.5" r="0.9" fill="#000"/><circle cx="294.8" cy="182.2" r="0.9" fill="#000"/><circle cx="285.6" cy="182.9" r="0.9" fill="#000"/><circle cx="281.4" cy="190.7" r="0.9" fill="#000"/><circle cx="290.5" cy="194.2" r="0.9" fill="#000"/><circle cx="320.2" cy="191.4" r="0.9" fill="#000"/><circle cx="323.7" cy="185.8" r="0.9" fill="#000"/><circle cx="329.4" cy="187.9" r="0.9" fill="#000"/><circle cx="334.3" cy="191.4" r="0.9" fill="#000"/><circle cx="341.4" cy="184.3" r="0.9" fill="#000"/><circle cx="347" cy="183.6" r="0.9" fill="#000"/><circle cx="350.5" cy="192.1" r="0.9" fill="#000"/><circle cx="291.9" cy="192.1" r="0.9" fill="#000"/><circle cx="373.8" cy="163.9" r="0.9" fill="#000"/><circle cx="366.8" cy="167.4" r="0.9" fill="#000"/><circle cx="428.2" cy="279.6" r="0.9" fill="#000"/><line x1="78.4" y1="40.7" x2="78.4" y2="548.9" stroke="#000" stroke-width="1.2" stroke-dasharray="2.8 5.4" fill="none"/><line x1="157.1" y1="40.7" x2="157.1" y2="548.9" stroke="#000" stroke-width="1.2" stroke-dasharray="2.8 5.4" fill="none"/><line x1="235.9" y1="40.7" x2="235.9" y2="548.9" stroke="#000" stroke-width="1.2" stroke-dasharray="2.8 5.4" fill="none"/><line x1="314.6" y1="40.7" x2="314.6" y2="548.9" stroke="#000" stroke-width="1.2" stroke-dasharray="2.8 5.4" fill="none"/><line x1="393.3" y1="40.7" x2="393.3" y2="548.9" stroke="#000" stroke-width="1.2" stroke-dasharray="2.8 5.4" fill="none"/><line x1="472.1" y1="40.7" x2="472.1" y2="548.9" stroke="#000" stroke-width="1.2" stroke-dasharray="2.8 5.4" fill="none"/><line x1="13.2" y1="113" x2="486.3" y2="113" stroke="#000" stroke-width="1.2" stroke-dasharray="2.8 5.4" fill="none"/><line x1="13.2" y1="197.7" x2="486.3" y2="197.7" stroke="#000" stroke-width="1.2" stroke-dasharray="2.8 5.4" fill="none"/><line x1="13.2" y1="282.3" x2="486.3" y2="282.3" stroke="#000" stroke-width="1.2" stroke-dasharray="2.8 5.4" fill="none"/><line x1="13.2" y1="367" x2="486.3" y2="367" stroke="#000" stroke-width="1.2" stroke-dasharray="2.8 5.4" fill="none"/><line x1="13.2" y1="451.7" x2="486.3" y2="451.7" stroke="#000" stroke-width="1.2" stroke-dasharray="2.8 5.4" fill="none"/><line x1="13.2" y1="536.4" x2="486.3" y2="536.4" stroke="#000" stroke-width="1.2" stroke-dasharray="2.8 5.4" fill="none"/><text x="78.4" y="303.2" font-size="11.8" text-anchor="middle" font-family="Liberation Sans, sans-serif">146</text><text x="157.1" y="303.2" font-size="11.8" text-anchor="middle" font-family="Liberation Sans, sans-serif">148</text><text x="235.9" y="303.2" font-size="11.8" text-anchor="middle" font-family="Liberation Sans, sans-serif">150</text><text x="314.6" y="303.2" font-size="11.8" text-anchor="middle" font-family="Liberation Sans, sans-serif">152</text><text x="393.3" y="303.2" font-size="11.8" text-anchor="middle" font-family="Liberation Sans, sans-serif">154</text><text x="472.1" y="303.2" font-size="11.8" text-anchor="middle" font-family="Liberation Sans, sans-serif">156</text><text x="255.8" y="112.4" font-size="11.8" text-anchor="middle" font-family="Liberation Sans, sans-serif">20</text><text x="255.8" y="197.1" font-size="11.8" text-anchor="middle" font-family="Liberation Sans, sans-serif">18</text><text x="255.8" y="281.7" font-size="11.8" text-anchor="middle" font-family="Liberation Sans, sans-serif">16</text><text x="255.8" y="366.4" font-size="11.8" text-anchor="middle" font-family="Liberation Sans, sans-serif">14</text><text x="255.8" y="451.1" font-size="11.8" text-anchor="middle" font-family="Liberation Sans, sans-serif">12</text><text x="255.8" y="535.8" font-size="11.8" text-anchor="middle" font-family="Liberation Sans, sans-serif">10</text><polyline points="13,40.7 84,81.2 154.7,123.2 225,165.5 295,208.7 390,270.5 481.4,333.5" stroke="#000" stroke-width="1.05" stroke-dasharray="12.1 11.6" fill="none"/><polyline points="197.6,40.7 256,76 314.8,111.9 393.8,162.1 440,193 485.6,224.2" stroke="#000" stroke-width="1.05" stroke-dasharray="12.1 11.6" fill="none"/><path d="M243.6 294.4H256.4M250 288V300.8" stroke="#000" stroke-width="4.2" fill="none"/><text x="37" y="65.6" font-size="25" font-family="Liberation Sans, sans-serif">PR max reflectivity projection (dBZ)</text><text x="439.6" y="523.6" font-size="28" font-family="Liberation Sans, sans-serif">(b)</text><rect x="495" y="540" width="9" height="8.8" fill="#ffffff"/><rect x="495" y="531.6" width="9" height="8.8" fill="#f7f7f7"/><rect x="495" y="523.1" width="9" height="8.8" fill="#f0f0f0"/><rect x="495" y="514.6" width="9" height="8.8" fill="#e8e8e8"/><rect x="495" y="506.2" width="9" height="8.8" fill="#e1e1e1"/><rect x="495" y="497.7" width="9" height="8.8" fill="#d9d9d9"/><rect x="495" y="489.2" width="9" height="8.8" fill="#d2d2d2"/><rect x="495" y="480.8" width="9" height="8.8" fill="#cacaca"/><rect x="495" y="472.3" width="9" height="8.8" fill="#c3c3c3"/><rect x="495" y="463.9" width="9" height="8.8" fill="#bbbbbb"/><rect x="495" y="455.4" width="9" height="8.8" fill="#b4b4b4"/><rect x="495" y="446.9" width="9" height="8.8" fill="#acacac"/><rect x="495" y="438.5" width="9" height="8.8" fill="#a5a5a5"/><rect x="495" y="430" width="9" height="8.8" fill="#9d9d9d"/><rect x="495" y="421.5" width="9" height="8.8" fill="#969696"/><rect x="495" y="413.1" width="9" height="8.8" fill="#86e286"/><rect x="495" y="404.6" width="9" height="8.8" fill="#7ed87e"/><rect x="495" y="396.1" width="9" height="8.8" fill="#76ce76"/><rect x="495" y="387.7" width="9" height="8.8" fill="#6ec46e"/><rect x="495" y="379.2" width="9" height="8.8" fill="#66ba66"/><rect x="495" y="370.7" width="9" height="8.8" fill="#ccd4ff"/><rect x="495" y="362.3" width="9" height="8.8" fill="#b8ccff"/><rect x="495" y="353.8" width="9" height="8.8" fill="#a2c4ff"/><rect x="495" y="345.3" width="9" height="8.8" fill="#84baff"/><rect x="495" y="336.9" width="9" height="8.8" fill="#66b2ff"/><rect x="495" y="328.4" width="9" height="8.8" fill="#50a8ff"/><rect x="495" y="319.9" width="9" height="8.8" fill="#4488ff"/><rect x="495" y="311.5" width="9" height="8.8" fill="#4068ff"/><rect x="495" y="303" width="9" height="8.8" fill="#3a4aff"/><rect x="495" y="294.6" width="9" height="8.8" fill="#3030ff"/><rect x="495" y="286.1" width="9" height="8.8" fill="#0000ff"/><rect x="495" y="277.6" width="9" height="8.8" fill="#0000f0"/><rect x="495" y="269.2" width="9" height="8.8" fill="#0000e0"/><rect x="495" y="260.7" width="9" height="8.8" fill="#0000d0"/><rect x="495" y="252.2" width="9" height="8.8" fill="#0000c0"/><rect x="495" y="243.8" width="9" height="8.8" fill="#ffff00"/><rect x="495" y="235.3" width="9" height="8.8" fill="#fff000"/><rect x="495" y="226.8" width="9" height="8.8" fill="#ffe400"/><rect x="495" y="218.4" width="9" height="8.8" fill="#ffd800"/><rect x="495" y="209.9" width="9" height="8.8" fill="#ffcc00"/><rect x="495" y="201.4" width="9" height="8.8" fill="#ff9000"/><rect x="495" y="193" width="9" height="8.8" fill="#ff8a00"/><rect x="495" y="184.5" width="9" height="8.8" fill="#ff8400"/><rect x="495" y="176" width="9" height="8.8" fill="#ff7e00"/><rect x="495" y="167.6" width="9" height="8.8" fill="#ff7800"/><rect x="495" y="159.1" width="9" height="8.8" fill="#ff4600"/><rect x="495" y="150.6" width="9" height="8.8" fill="#ff3a00"/><rect x="495" y="142.2" width="9" height="8.8" fill="#ff3000"/><rect x="495" y="133.7" width="9" height="8.8" fill="#ff2600"/><rect x="495" y="125.2" width="9" height="8.8" fill="#ff1a08"/><rect x="495" y="116.8" width="9" height="8.8" fill="#cc0000"/><rect x="495" y="108.3" width="9" height="8.8" fill="#c00000"/><rect x="495" y="99.9" width="9" height="8.8" fill="#b40400"/><rect x="495" y="91.4" width="9" height="8.8" fill="#a80800"/><rect x="495" y="82.9" width="9" height="8.8" fill="#9c0c04"/><rect x="495" y="74.5" width="9" height="8.8" fill="#661004"/><rect x="495" y="66" width="9" height="8.8" fill="#621208"/><rect x="495" y="57.5" width="9" height="8.8" fill="#5e1410"/><rect x="495" y="49.1" width="9" height="8.8" fill="#5c1814"/><rect x="495" y="40.6" width="9" height="8.8" fill="#5a1c1c"/><line x1="503.5" y1="91.4" x2="506.3" y2="91.4" stroke="#000" stroke-width="0.9"/><text x="524" y="99.3" font-size="19.1" text-anchor="middle" font-family="Liberation Sans, sans-serif">54</text><line x1="503.5" y1="142.2" x2="506.3" y2="142.2" stroke="#000" stroke-width="0.9"/><text x="524" y="150.1" font-size="19.1" text-anchor="middle" font-family="Liberation Sans, sans-serif">48</text><line x1="503.5" y1="193" x2="506.3" y2="193" stroke="#000" stroke-width="0.9"/><text x="524" y="200.9" font-size="19.1" text-anchor="middle" font-family="Liberation Sans, sans-serif">42</text><line x1="503.5" y1="243.8" x2="506.3" y2="243.8" stroke="#000" stroke-width="0.9"/><text x="524" y="251.7" font-size="19.1" text-anchor="middle" font-family="Liberation Sans, sans-serif">36</text><line x1="503.5" y1="294.6" x2="506.3" y2="294.6" stroke="#000" stroke-width="0.9"/><text x="524" y="302.4" font-size="19.1" text-anchor="middle" font-family="Liberation Sans, sans-serif">30</text><line x1="503.5" y1="345.3" x2="506.3" y2="345.3" stroke="#000" stroke-width="0.9"/><text x="524" y="353.2" font-size="19.1" text-anchor="middle" font-family="Liberation Sans, sans-serif">24</text><line x1="503.5" y1="396.1" x2="506.3" y2="396.1" stroke="#000" stroke-width="0.9"/><text x="524" y="404" font-size="19.1" text-anchor="middle" font-family="Liberation Sans, sans-serif">18</text><line x1="503.5" y1="446.9" x2="506.3" y2="446.9" stroke="#000" stroke-width="0.9"/><text x="524" y="454.8" font-size="19.1" text-anchor="middle" font-family="Liberation Sans, sans-serif">12</text><line x1="503.5" y1="497.7" x2="506.3" y2="497.7" stroke="#000" stroke-width="0.9"/><text x="524" y="505.6" font-size="19.1" text-anchor="middle" font-family="Liberation Sans, sans-serif">6</text><line x1="503.5" y1="548.5" x2="506.3" y2="548.5" stroke="#000" stroke-width="0.9"/><text x="524" y="556.4" font-size="19.1" text-anchor="middle" font-family="Liberation Sans, sans-serif">0</text></g>
<g transform="translate(1181.3 0)"><path d="M314,214.6 315.5,211.7 316.9,209.8 319.1,210.9 321.3,208.7 324.3,206.5 327.2,205.1 330.2,202.9 333.1,199.9 335.3,197.7 337.5,195.5 339,193.3 341.2,191.1 344.1,192.6 347,194 349.2,197 351.4,198.4 354.4,197 356.6,194 359.5,191.1 362.5,188.9 364.7,186.7 365.4,183.8 363.9,180.8 361.7,179.4 359.5,177.9 358,179.4 355.8,181.6 353.6,183.8 352.9,182.3 355.1,180.1 358,177.9 361,176.4 363.9,175 365.4,173.5 368.3,172 372,171.3 374.2,169.8 377.1,169.1 380.1,168.4 382.3,167.6 383.7,165.4 383,162.5 380.8,160.3 379.3,161 377.9,161.7 379.3,159.5 382.3,158.1 384.5,158.4 408.3,172 408,175 408.7,177.9 407.2,179.4 405,180.8 404.7,184.5 405.4,188.2 407.2,190 409.4,188.2 412.4,186 414.6,184.5 416,181.6 418.2,179.4 430.7,187.4 430,189.6 428.5,191.1 429.3,194 430,197 428.5,199.2 425.6,200.6 422.6,202.1 421.9,205.1 422.6,208.7 424.1,211.7 426.3,213.9 427,216.1 424.1,216.4 421.2,217.2 419.7,219 421.9,221.6 422.6,224.1 419.7,226.3 417.5,228.5 418.2,230.7 416.8,232.9 414.6,234.4 412.4,235.9 415.3,238.8 418.2,241.4 414.6,241 412.4,243.2 410.9,245.4 411.6,248.4 410.9,251.3 411.6,254.2 409.4,255.7 407.2,257.2 404.3,257.9 402.8,260.1 403.6,263 401.4,264.5 398.4,265.2 396.2,266.7 394,267.4 391.8,266.7 391.1,268.9 388.9,271.1 361,252 363.2,250.6 366.1,249.8 368.3,248.4 370.5,246.9 369.8,244.7 367.6,245.4 366.1,244 367.6,242.5 369.1,241 368.3,238.8 366.9,236.6 367.6,234.4 369.8,232.9 372,234.4 374.2,232.2 375.7,230.7 377.9,231.5 380.1,230.7 382.3,229.3 384.5,230 386.7,231.5 388.9,232.9 390.3,230.7 391.1,227.8 391.8,224.9 392.5,221.9 393.3,219 392.5,216.1 390.3,215.3 388.1,214.6 386.7,216.1 385.2,214.6 383,213.9 382.3,211.7 380.1,210.2 377.9,209.8 375.7,210.2 374.2,211.7 375.7,213.1 377.9,214.6 378.6,216.8 375.7,218.3 373.5,219 372,218.3 371.3,220.5 368.3,221.2 365.4,222.7 362.5,224.1 359.5,226.3 357.3,228.5 355.1,230.7 353.6,233.7 352.2,235.2 350.7,237.4 349.2,238.8 347,239.6 344.8,241 321.3,225.6 324.3,222.7 327.2,220.5 328,217.5 330.2,215.3 330.9,213.1 328.7,212.4 326.5,213.9 324.3,214.6 321.3,215.3 318.4,216.1 315.5,216.8ZM338.2,222.7 340.4,221.2 342.6,220.5 344.1,218.3 346.3,216.8 349.2,216.1 351.4,216.8 350,219 347.8,221.2 345.6,223.4 343.4,224.9 340.4,225.2 338.6,224.5ZM397.7,216.1 399.9,214.6 401.4,216.1 402.1,219 404.3,220.5 405.8,222.7 405,224.9 402.8,224.1 400.6,222.7 398.4,221.9 397.3,219ZM411.6,213.1 413.8,211.7 416.8,212.4 419.7,213.1 422.6,213.9 424.1,215.3 421.9,216.1 419,216.1 416.8,217.5 414.6,218.3 412.4,217.5ZM402.8,230 405,228.5 408,229.3 408.7,231.5 406.5,232.9 403.6,232.6ZM413.8,200.6 414.9,199.5 416.4,199.9 417.1,201.4 416.4,202.9 414.9,203 413.8,202.1ZM391.1,195.5 393.3,195.5 393.3,200.6 391.1,200.6Z" fill="#84de84" fill-rule="evenodd"/><path d="M408.3,172L408,175L408.7,177.9L407.2,179.4L405,180.8L404.7,184.5L405.4,188.2L407.2,190L409.4,188.2L412.4,186L414.6,184.5L416,181.6L418.2,179.4M430.7,187.4L430,189.6L428.5,191.1L429.3,194L430,197L428.5,199.2L425.6,200.6L422.6,202.1L421.9,205.1L422.6,208.7L424.1,211.7L426.3,213.9L427,216.1L424.1,216.4L421.2,217.2L419.7,219L421.9,221.6L422.6,224.1L419.7,226.3L417.5,228.5L418.2,230.7L416.8,232.9L414.6,234.4L412.4,235.9L415.3,238.8L418.2,241.4L414.6,241L412.4,243.2L410.9,245.4L411.6,248.4L410.9,251.3L411.6,254.2L409.4,255.7L407.2,257.2L404.3,257.9L402.8,260.1L403.6,263L401.4,264.5L398.4,265.2L396.2,266.7L394,267.4L391.8,266.7L391.1,268.9L388.9,271.1M361,252L363.2,250.6L366.1,249.8L368.3,248.4L370.5,246.9L369.8,244.7L367.6,245.4L366.1,244L367.6,242.5L369.1,241L368.3,238.8L366.9,236.6L367.6,234.4L369.8,232.9L372,234.4L374.2,232.2L375.7,230.7L377.9,231.5L380.1,230.7L382.3,229.3L384.5,230L386.7,231.5L388.9,232.9L390.3,230.7L391.1,227.8L391.8,224.9L392.5,221.9L393.3,219L392.5,216.1L390.3,215.3L388.1,214.6L386.7,216.1L385.2,214.6L383,213.9L382.3,211.7L380.1,210.2L377.9,209.8L375.7,210.2L374.2,211.7L375.7,213.1L377.9,214.6L378.6,216.8L375.7,218.3L373.5,219L372,218.3L371.3,220.5L368.3,221.2L365.4,222.7L362.5,224.1L359.5,226.3L357.3,228.5L355.1,230.7L353.6,233.7L352.2,235.2L350.7,237.4L349.2,238.8L347,239.6L344.8,241M321.3,225.6L324.3,222.7L327.2,220.5L328,217.5L330.2,215.3L330.9,213.1L328.7,212.4L326.5,213.9L324.3,214.6L321.3,215.3L318.4,216.1L315.5,216.8L314,214.6L315.5,211.7L316.9,209.8L319.1,210.9L321.3,208.7L324.3,206.5L327.2,205.1L330.2,202.9L333.1,199.9L335.3,197.7L337.5,195.5L339,193.3L341.2,191.1L344.1,192.6L347,194L349.2,197L351.4,198.4L354.4,197L356.6,194L359.5,191.1L362.5,188.9L364.7,186.7L365.4,183.8L363.9,180.8L361.7,179.4L359.5,177.9L358,179.4L355.8,181.6L353.6,183.8L352.9,182.3L355.1,180.1L358,177.9L361,176.4L363.9,175L365.4,173.5L368.3,172L372,171.3L374.2,169.8L377.1,169.1L380.1,168.4L382.3,167.6L383.7,165.4L383,162.5L380.8,160.3L379.3,161L377.9,161.7L379.3,159.5L382.3,158.1L384.5,158.4M338.2,222.7L340.4,221.2L342.6,220.5L344.1,218.3L346.3,216.8L349.2,216.1L351.4,216.8L350,219L347.8,221.2L345.6,223.4L343.4,224.9L340.4,225.2L338.6,224.5ZM397.7,216.1L399.9,214.6L401.4,216.1L402.1,219L404.3,220.5L405.8,222.7L405,224.9L402.8,224.1L400.6,222.7L398.4,221.9L397.3,219ZM411.6,213.1L413.8,211.7L416.8,212.4L419.7,213.1L422.6,213.9L424.1,215.3L421.9,216.1L419,216.1L416.8,217.5L414.6,218.3L412.4,217.5ZM402.8,230L405,228.5L408,229.3L408.7,231.5L406.5,232.9L403.6,232.6ZM413.8,200.6L414.9,199.5L416.4,199.9L417.1,201.4L416.4,202.9L414.9,203L413.8,202.1ZM391.1,195.5L393.3,195.5L393.3,200.6L391.1,200.6Z" fill="none" stroke="#000" stroke-width="1.1" stroke-linejoin="round"/><rect x="385.6" y="195.2" width="2.1" height="2.1" fill="#fff" stroke="#000" stroke-width="1"/><rect x="382.3" y="192.9" width="1.5" height="1.5" fill="#fff" stroke="#000" stroke-width="1"/><rect x="394.6" y="182.9" width="1.8" height="1.8" fill="#fff" stroke="#000" stroke-width="1"/><rect x="401.9" y="180.7" width="1.8" height="1.8" fill="#fff" stroke="#000" stroke-width="1"/><rect x="405" y="212.4" width="1.5" height="1.5" fill="#fff" stroke="#000" stroke-width="1"/><rect x="409.4" y="210.2" width="1.5" height="1.5" fill="#fff" stroke="#000" stroke-width="1"/><polygon points="362.5,252.8 364.6,250 367.5,248.3 370.7,249.3 371.3,246 369.6,242.9 366.8,241.5 364.2,242.9 362.5,245 360,246 358.3,248.6 360.4,251.4" fill="#fff" stroke="#000" stroke-width="1.1"/><ellipse cx="301.1" cy="172.3" rx="1.7" ry="3.7" fill="#84de84" stroke="#000" stroke-width="1.1" transform="rotate(35 301.1 172.3)"/><ellipse cx="305.4" cy="179.4" rx="1.8" ry="2.1" fill="#84de84" stroke="#000" stroke-width="1.1" transform="rotate(0 305.4 179.4)"/><ellipse cx="307.2" cy="186.2" rx="8.5" ry="2" fill="#84de84" stroke="#000" stroke-width="1.1" transform="rotate(-32 307.2 186.2)"/><ellipse cx="303.9" cy="199.2" rx="8.2" ry="2.3" fill="#84de84" stroke="#000" stroke-width="1.1" transform="rotate(-18 303.9 199.2)"/><ellipse cx="320.2" cy="160.8" rx="3.4" ry="1.4" fill="#fff" stroke="#000" stroke-width="1.1" transform="rotate(-30 320.2 160.8)"/><ellipse cx="334.3" cy="165.6" rx="2.5" ry="3.4" fill="#84de84" stroke="#000" stroke-width="1.1" transform="rotate(20 334.3 165.6)"/><ellipse cx="339.9" cy="162.5" rx="3.1" ry="1.3" fill="#84de84" stroke="#000" stroke-width="1.1" transform="rotate(-40 339.9 162.5)"/><ellipse cx="326.5" cy="172.3" rx="1.4" ry="1.3" fill="#84de84" stroke="#000" stroke-width="1.1" transform="rotate(0 326.5 172.3)"/><ellipse cx="315.9" cy="175.5" rx="4" ry="1.3" fill="#fff" stroke="#000" stroke-width="1.1" transform="rotate(-25 315.9 175.5)"/><ellipse cx="357.6" cy="179.7" rx="4" ry="1.8" fill="#fff" stroke="#000" stroke-width="1.1" transform="rotate(-30 357.6 179.7)"/><ellipse cx="287" cy="202" rx="1" ry="2.8" fill="#fff" stroke="#000" stroke-width="1.1" transform="rotate(10 287 202)"/><ellipse cx="306.8" cy="212.6" rx="3.7" ry="1.6" fill="#fff" stroke="#000" stroke-width="1.1" transform="rotate(-40 306.8 212.6)"/><ellipse cx="311.7" cy="182.9" rx="2.8" ry="1.3" fill="#84de84" stroke="#000" stroke-width="1.1" transform="rotate(-30 311.7 182.9)"/><ellipse cx="415.9" cy="267.2" rx="2.3" ry="4.5" fill="#84de84" stroke="#000" stroke-width="1.1" transform="rotate(25 415.9 267.2)"/><circle cx="431" cy="266.6" r="1.3" fill="#000"/><ellipse cx="424.2" cy="291.6" rx="2.3" ry="1.4" fill="#84de84" stroke="#000" stroke-width="1.1" transform="rotate(-20 424.2 291.6)"/><circle cx="444.4" cy="295.4" r="1.3" fill="#000"/><circle cx="432" cy="278.5" r="0.7" fill="#000"/><circle cx="483.2" cy="245" r="1" fill="#000"/><ellipse cx="352.9" cy="243.6" rx="1.7" ry="1.3" fill="#84de84" stroke="#000" stroke-width="1.1" transform="rotate(-30 352.9 243.6)"/><ellipse cx="358.6" cy="246.9" rx="2.1" ry="1.6" fill="#84de84" stroke="#000" stroke-width="1.1" transform="rotate(-20 358.6 246.9)"/><circle cx="299" cy="159.6" r="0.9" fill="#000"/><circle cx="307.5" cy="160.4" r="0.9" fill="#000"/><circle cx="331.5" cy="157.5" r="0.9" fill="#000"/><circle cx="310.3" cy="168.1" r="0.9" fill="#000"/><circle cx="314.5" cy="166.7" r="0.9" fill="#000"/><circle cx="335.7" cy="170.9" r="0.9" fill="#000"/><circle cx="342.8" cy="169.5" r="0.9" fill="#000"/><circle cx="347" cy="174.5" r="0.9" fill="#000"/><circle cx="294.8" cy="182.2" r="0.9" fill="#000"/><circle cx="285.6" cy="182.9" r="0.9" fill="#000"/><circle cx="281.4" cy="190.7" r="0.9" fill="#000"/><circle cx="290.5" cy="194.2" r="0.9" fill="#000"/><circle cx="320.2" cy="191.4" r="0.9" fill="#000"/><circle cx="323.7" cy="185.8" r="0.9" fill="#000"/><circle cx="329.4" cy="187.9" r="0.9" fill="#000"/><circle cx="334.3" cy="191.4" r="0.9" fill="#000"/><circle cx="341.4" cy="184.3" r="0.9" fill="#000"/><circle cx="347" cy="183.6" r="0.9" fill="#000"/><circle cx="350.5" cy="192.1" r="0.9" fill="#000"/><circle cx="291.9" cy="192.1" r="0.9" fill="#000"/><circle cx="373.8" cy="163.9" r="0.9" fill="#000"/><circle cx="366.8" cy="167.4" r="0.9" fill="#000"/><circle cx="428.2" cy="279.6" r="0.9" fill="#000"/><polygon points="395,216.1 399.2,213.3 403.5,214.7 404.9,220.3 402.1,226 397.8,227.4 395,223.2" fill="#fff" stroke="#000" stroke-width="1.1" stroke-linejoin="round"/><polygon points="406.3,209.1 411.9,204.8 417.6,203.4 420.4,199.2 423.2,200.6 421.8,206.2 417.6,210.5 413.3,214.7 409.1,216.1 406.3,213.3" fill="#fff" stroke="#000" stroke-width="1.1" stroke-linejoin="round"/><polygon points="407.7,218.2 413.3,216.8 419,218.2 417.6,223.2 411.9,226 407.7,223.2" fill="#fff" stroke="#000" stroke-width="1.1" stroke-linejoin="round"/><polygon points="382.3,194.9 385.1,192.8 387.9,195.6 387.2,199.2 383.7,198.9" fill="#fff" stroke="#000" stroke-width="1.1" stroke-linejoin="round"/><polygon points="389.4,197.1 392.9,196.1 394.3,199.9 392.9,202.7 390.1,201.3" fill="#fff" stroke="#000" stroke-width="1.1" stroke-linejoin="round"/><polygon points="395.7,180.1 398.1,179.4 398.7,183.6 397.1,185.8 395.6,184.3" fill="#fff" stroke="#000" stroke-width="1.1" stroke-linejoin="round"/><polygon points="342.8,212.6 347,210.5 350.5,211.9 348.4,216.1 344.2,216.8" fill="#fff" stroke="#000" stroke-width="1.1" stroke-linejoin="round"/><rect x="354.4" y="201.4" width="2.2" height="2.2" fill="#c0d0ff"/><rect x="356.6" y="202.9" width="2.2" height="2.2" fill="#c0d0ff"/><rect x="358" y="200.6" width="2.2" height="2.2" fill="#c0d0ff"/><rect x="361" y="198.4" width="2.2" height="2.2" fill="#c0d0ff"/><rect x="365.4" y="197" width="2.2" height="2.2" fill="#c0d0ff"/><rect x="368.3" y="196.2" width="2.2" height="2.2" fill="#c0d0ff"/><rect x="350.7" y="205.8" width="2.2" height="2.2" fill="#c0d0ff"/><rect x="381.5" y="184.5" width="2.2" height="2.2" fill="#c0d0ff"/><rect x="383.7" y="185.2" width="2.2" height="2.2" fill="#c0d0ff"/><rect x="385.9" y="184.9" width="2.2" height="2.2" fill="#c0d0ff"/><rect x="357.3" y="221.9" width="2.2" height="2.2" fill="#c0d0ff"/><rect x="390.3" y="171.3" width="2.2" height="2.2" fill="#c0d0ff"/><rect x="371.6" y="248.8" width="1.9" height="1.9" fill="#a0c0ff"/><rect x="372.4" y="252" width="1.9" height="1.9" fill="#c0d0ff"/><rect x="373.3" y="255.3" width="1.9" height="1.9" fill="#a0c0ff"/><rect x="374.6" y="260.1" width="1.9" height="1.9" fill="#c0d0ff"/><rect x="375.1" y="261.7" width="1.9" height="1.9" fill="#c0d0ff"/><rect x="373.2" y="249.5" width="1.9" height="1.9" fill="#a0c0ff"/><rect x="373.6" y="251.2" width="1.9" height="1.9" fill="#c0d0ff"/><rect x="374" y="252.8" width="1.9" height="1.9" fill="#4070ff"/><rect x="374.9" y="256" width="1.9" height="1.9" fill="#c0d0ff"/><rect x="375.4" y="257.6" width="1.9" height="1.9" fill="#c0d0ff"/><rect x="376.3" y="260.8" width="1.9" height="1.9" fill="#c0d0ff"/><rect x="374.8" y="250.3" width="1.9" height="1.9" fill="#4070ff"/><rect x="375.2" y="251.9" width="1.9" height="1.9" fill="#a0c0ff"/><rect x="376.1" y="255.1" width="1.9" height="1.9" fill="#4070ff"/><rect x="377.9" y="261.6" width="1.9" height="1.9" fill="#4070ff"/><rect x="378.7" y="264.8" width="1.9" height="1.9" fill="#a0c0ff"/><rect x="376.4" y="251" width="1.9" height="1.9" fill="#c0d0ff"/><rect x="376.8" y="252.6" width="1.9" height="1.9" fill="#c0d0ff"/><rect x="377.7" y="255.9" width="1.9" height="1.9" fill="#c0d0ff"/><rect x="378.2" y="257.5" width="1.9" height="1.9" fill="#c0d0ff"/><rect x="378.6" y="259.1" width="1.9" height="1.9" fill="#c0d0ff"/><rect x="375.8" y="243.7" width="1.9" height="1.9" fill="#c0d0ff"/><rect x="378" y="251.7" width="1.9" height="1.9" fill="#1030e8"/><rect x="379.3" y="256.6" width="1.9" height="1.9" fill="#a0c0ff"/><rect x="380.2" y="259.8" width="1.9" height="1.9" fill="#4070ff"/><rect x="377.9" y="246" width="1.9" height="1.9" fill="#c0d0ff"/><rect x="379.2" y="250.9" width="1.9" height="1.9" fill="#c0d0ff"/><rect x="381.4" y="258.9" width="1.9" height="1.9" fill="#c0d0ff"/><rect x="381.8" y="260.5" width="1.9" height="1.9" fill="#c0d0ff"/><rect x="383.2" y="265.4" width="1.9" height="1.9" fill="#4070ff"/><rect x="378.6" y="243.5" width="1.9" height="1.9" fill="#a0c0ff"/><rect x="379" y="245.1" width="1.9" height="1.9" fill="#a0c0ff"/><rect x="379.5" y="246.7" width="1.9" height="1.9" fill="#c0d0ff"/><rect x="380.4" y="250" width="1.9" height="1.9" fill="#1030e8"/><rect x="381.2" y="253.2" width="1.9" height="1.9" fill="#ff8c00"/><rect x="381.7" y="254.8" width="1.9" height="1.9" fill="#1030e8"/><rect x="383.4" y="261.3" width="1.9" height="1.9" fill="#4070ff"/><rect x="383.9" y="262.9" width="1.9" height="1.9" fill="#4070ff"/><rect x="380.2" y="244.3" width="1.9" height="1.9" fill="#a0c0ff"/><rect x="382" y="250.7" width="1.9" height="1.9" fill="#ff3000"/><rect x="382.4" y="252.3" width="1.9" height="1.9" fill="#ffd000"/><rect x="382.9" y="253.9" width="1.9" height="1.9" fill="#1030e8"/><rect x="383.7" y="257.2" width="1.9" height="1.9" fill="#1030e8"/><rect x="384.6" y="260.4" width="1.9" height="1.9" fill="#4070ff"/><rect x="385.1" y="262" width="1.9" height="1.9" fill="#c0d0ff"/><rect x="382.7" y="248.2" width="1.9" height="1.9" fill="#c0d0ff"/><rect x="383.2" y="249.8" width="1.9" height="1.9" fill="#ff8c00"/><rect x="383.6" y="251.4" width="1.9" height="1.9" fill="#1030e8"/><rect x="384.5" y="254.7" width="1.9" height="1.9" fill="#ff8c00"/><rect x="384.9" y="256.3" width="1.9" height="1.9" fill="#ffd000"/><rect x="385.4" y="257.9" width="1.9" height="1.9" fill="#1030e8"/><rect x="385.8" y="259.5" width="1.9" height="1.9" fill="#a0c0ff"/><rect x="386.2" y="261.1" width="1.9" height="1.9" fill="#c0d0ff"/><rect x="383" y="244.1" width="1.9" height="1.9" fill="#c0d0ff"/><rect x="383.4" y="245.7" width="1.9" height="1.9" fill="#1030e8"/><rect x="383.9" y="247.3" width="1.9" height="1.9" fill="#4070ff"/><rect x="384.3" y="249" width="1.9" height="1.9" fill="#ff8c00"/><rect x="384.8" y="250.6" width="1.9" height="1.9" fill="#ff3000"/><rect x="385.2" y="252.2" width="1.9" height="1.9" fill="#1030e8"/><rect x="385.6" y="253.8" width="1.9" height="1.9" fill="#ff8c00"/><rect x="386.1" y="255.4" width="1.9" height="1.9" fill="#ff8c00"/><rect x="386.5" y="257" width="1.9" height="1.9" fill="#ff3000"/><rect x="387" y="258.6" width="1.9" height="1.9" fill="#ffd000"/><rect x="387.4" y="260.3" width="1.9" height="1.9" fill="#a0c0ff"/><rect x="387.9" y="261.9" width="1.9" height="1.9" fill="#1030e8"/><rect x="388.7" y="265.1" width="1.9" height="1.9" fill="#a0c0ff"/><rect x="384.6" y="244.8" width="1.9" height="1.9" fill="#c0d0ff"/><rect x="385.5" y="248.1" width="1.9" height="1.9" fill="#ffd000"/><rect x="386.4" y="251.3" width="1.9" height="1.9" fill="#4070ff"/><rect x="386.8" y="252.9" width="1.9" height="1.9" fill="#ffd000"/><rect x="387.3" y="254.5" width="1.9" height="1.9" fill="#ff8c00"/><rect x="387.7" y="256.1" width="1.9" height="1.9" fill="#c0d0ff"/><rect x="388.1" y="257.8" width="1.9" height="1.9" fill="#4070ff"/><rect x="389.5" y="262.6" width="1.9" height="1.9" fill="#c0d0ff"/><rect x="389.9" y="264.2" width="1.9" height="1.9" fill="#4070ff"/><rect x="385.8" y="244" width="1.9" height="1.9" fill="#c0d0ff"/><rect x="386.2" y="245.6" width="1.9" height="1.9" fill="#1030e8"/><rect x="386.7" y="247.2" width="1.9" height="1.9" fill="#c0d0ff"/><rect x="387.1" y="248.8" width="1.9" height="1.9" fill="#c0d0ff"/><rect x="387.6" y="250.4" width="1.9" height="1.9" fill="#ff8c00"/><rect x="388" y="252" width="1.9" height="1.9" fill="#1030e8"/><rect x="388.4" y="253.6" width="1.9" height="1.9" fill="#1030e8"/><rect x="388.9" y="255.3" width="1.9" height="1.9" fill="#ff4000"/><rect x="389.3" y="256.9" width="1.9" height="1.9" fill="#1030e8"/><rect x="389.8" y="258.5" width="1.9" height="1.9" fill="#1030e8"/><rect x="390.2" y="260.1" width="1.9" height="1.9" fill="#c0d0ff"/><rect x="390.6" y="261.7" width="1.9" height="1.9" fill="#1030e8"/><rect x="391.1" y="263.3" width="1.9" height="1.9" fill="#c0d0ff"/><rect x="386.1" y="239.8" width="1.9" height="1.9" fill="#4070ff"/><rect x="387" y="243.1" width="1.9" height="1.9" fill="#1030e8"/><rect x="387.9" y="246.3" width="1.9" height="1.9" fill="#1030e8"/><rect x="388.7" y="249.5" width="1.9" height="1.9" fill="#c0d0ff"/><rect x="389.2" y="251.2" width="1.9" height="1.9" fill="#ffe000"/><rect x="389.6" y="252.8" width="1.9" height="1.9" fill="#ff8c00"/><rect x="390.1" y="254.4" width="1.9" height="1.9" fill="#ffd000"/><rect x="390.5" y="256" width="1.9" height="1.9" fill="#ff3000"/><rect x="390.9" y="257.6" width="1.9" height="1.9" fill="#ffd000"/><rect x="391.4" y="259.2" width="1.9" height="1.9" fill="#ff8c00"/><rect x="392.3" y="262.5" width="1.9" height="1.9" fill="#a0c0ff"/><rect x="387.3" y="239" width="1.9" height="1.9" fill="#a0c0ff"/><rect x="388.1" y="242.2" width="1.9" height="1.9" fill="#1030e8"/><rect x="389.5" y="247" width="1.9" height="1.9" fill="#c00000"/><rect x="389.9" y="248.7" width="1.9" height="1.9" fill="#1030e8"/><rect x="390.3" y="250.3" width="1.9" height="1.9" fill="#a0c0ff"/><rect x="390.8" y="251.9" width="1.9" height="1.9" fill="#ff3000"/><rect x="391.2" y="253.5" width="1.9" height="1.9" fill="#ff4000"/><rect x="391.7" y="255.1" width="1.9" height="1.9" fill="#c0d0ff"/><rect x="392.1" y="256.7" width="1.9" height="1.9" fill="#4070ff"/><rect x="392.5" y="258.3" width="1.9" height="1.9" fill="#c0d0ff"/><rect x="393.4" y="261.6" width="1.9" height="1.9" fill="#c0d0ff"/><rect x="393.9" y="263.2" width="1.9" height="1.9" fill="#c0d0ff"/><rect x="394.3" y="264.8" width="1.9" height="1.9" fill="#c0d0ff"/><rect x="388.9" y="239.7" width="1.9" height="1.9" fill="#c0d0ff"/><rect x="389.8" y="242.9" width="1.9" height="1.9" fill="#c0d0ff"/><rect x="391.1" y="247.8" width="1.9" height="1.9" fill="#ff3000"/><rect x="391.5" y="249.4" width="1.9" height="1.9" fill="#ffe000"/><rect x="392" y="251" width="1.9" height="1.9" fill="#ffe000"/><rect x="392.4" y="252.6" width="1.9" height="1.9" fill="#ff8c00"/><rect x="392.8" y="254.2" width="1.9" height="1.9" fill="#1030e8"/><rect x="393.3" y="255.9" width="1.9" height="1.9" fill="#ff8c00"/><rect x="393.7" y="257.5" width="1.9" height="1.9" fill="#ff8c00"/><rect x="394.2" y="259.1" width="1.9" height="1.9" fill="#1030e8"/><rect x="394.6" y="260.7" width="1.9" height="1.9" fill="#a0c0ff"/><rect x="395" y="262.3" width="1.9" height="1.9" fill="#a0c0ff"/><rect x="390.1" y="238.8" width="1.9" height="1.9" fill="#a0c0ff"/><rect x="390.9" y="242.1" width="1.9" height="1.9" fill="#c0d0ff"/><rect x="391.4" y="243.7" width="1.9" height="1.9" fill="#1030e8"/><rect x="392.3" y="246.9" width="1.9" height="1.9" fill="#4070ff"/><rect x="392.7" y="248.5" width="1.9" height="1.9" fill="#ff8c00"/><rect x="393.1" y="250.1" width="1.9" height="1.9" fill="#1030e8"/><rect x="394" y="253.4" width="1.9" height="1.9" fill="#c00000"/><rect x="394.5" y="255" width="1.9" height="1.9" fill="#c00000"/><rect x="394.9" y="256.6" width="1.9" height="1.9" fill="#1030e8"/><rect x="395.3" y="258.2" width="1.9" height="1.9" fill="#4070ff"/><rect x="391.7" y="239.6" width="1.9" height="1.9" fill="#c0d0ff"/><rect x="392.5" y="242.8" width="1.9" height="1.9" fill="#c0d0ff"/><rect x="393" y="244.4" width="1.9" height="1.9" fill="#a0c0ff"/><rect x="393.4" y="246" width="1.9" height="1.9" fill="#1030e8"/><rect x="393.9" y="247.6" width="1.9" height="1.9" fill="#c0d0ff"/><rect x="394.3" y="249.2" width="1.9" height="1.9" fill="#ffd000"/><rect x="394.8" y="250.9" width="1.9" height="1.9" fill="#ff3000"/><rect x="395.2" y="252.5" width="1.9" height="1.9" fill="#ff4000"/><rect x="395.6" y="254.1" width="1.9" height="1.9" fill="#ff8c00"/><rect x="396.1" y="255.7" width="1.9" height="1.9" fill="#c0d0ff"/><rect x="396.5" y="257.3" width="1.9" height="1.9" fill="#1030e8"/><rect x="397" y="258.9" width="1.9" height="1.9" fill="#a0c0ff"/><rect x="398.7" y="265.4" width="1.9" height="1.9" fill="#4070ff"/><rect x="394.6" y="245.1" width="1.9" height="1.9" fill="#c0d0ff"/><rect x="395.5" y="248.4" width="1.9" height="1.9" fill="#ff4000"/><rect x="396.4" y="251.6" width="1.9" height="1.9" fill="#c00000"/><rect x="396.8" y="253.2" width="1.9" height="1.9" fill="#ff4000"/><rect x="397.2" y="254.8" width="1.9" height="1.9" fill="#ff3000"/><rect x="397.7" y="256.4" width="1.9" height="1.9" fill="#1030e8"/><rect x="398.1" y="258.1" width="1.9" height="1.9" fill="#1030e8"/><rect x="399.9" y="264.5" width="1.9" height="1.9" fill="#a0c0ff"/><rect x="395.8" y="244.3" width="1.9" height="1.9" fill="#1030e8"/><rect x="396.2" y="245.9" width="1.9" height="1.9" fill="#4070ff"/><rect x="396.7" y="247.5" width="1.9" height="1.9" fill="#a0c0ff"/><rect x="397.1" y="249.1" width="1.9" height="1.9" fill="#c0d0ff"/><rect x="397.5" y="250.7" width="1.9" height="1.9" fill="#1030e8"/><rect x="398" y="252.3" width="1.9" height="1.9" fill="#1030e8"/><rect x="398.4" y="253.9" width="1.9" height="1.9" fill="#4070ff"/><rect x="399.3" y="257.2" width="1.9" height="1.9" fill="#c0d0ff"/><rect x="399.7" y="258.8" width="1.9" height="1.9" fill="#c0d0ff"/><rect x="396.1" y="240.1" width="1.9" height="1.9" fill="#c0d0ff"/><rect x="397" y="243.4" width="1.9" height="1.9" fill="#4070ff"/><rect x="397.8" y="246.6" width="1.9" height="1.9" fill="#1030e8"/><rect x="398.3" y="248.2" width="1.9" height="1.9" fill="#4070ff"/><rect x="398.7" y="249.8" width="1.9" height="1.9" fill="#c0d0ff"/><rect x="399.2" y="251.4" width="1.9" height="1.9" fill="#a0c0ff"/><rect x="400" y="254.7" width="1.9" height="1.9" fill="#4070ff"/><rect x="400.9" y="257.9" width="1.9" height="1.9" fill="#1030e8"/><rect x="401.4" y="259.5" width="1.9" height="1.9" fill="#c0d0ff"/><rect x="401.8" y="261.1" width="1.9" height="1.9" fill="#c0d0ff"/><rect x="399" y="245.7" width="1.9" height="1.9" fill="#c0d0ff"/><rect x="399.4" y="247.3" width="1.9" height="1.9" fill="#c0d0ff"/><rect x="399.9" y="249" width="1.9" height="1.9" fill="#c0d0ff"/><rect x="400.8" y="252.2" width="1.9" height="1.9" fill="#a0c0ff"/><rect x="401.2" y="253.8" width="1.9" height="1.9" fill="#1030e8"/><rect x="402.1" y="257" width="1.9" height="1.9" fill="#1030e8"/><rect x="402.5" y="258.6" width="1.9" height="1.9" fill="#c0d0ff"/><rect x="399.3" y="241.6" width="1.9" height="1.9" fill="#a0c0ff"/><rect x="401.9" y="251.3" width="1.9" height="1.9" fill="#1030e8"/><rect x="402.4" y="252.9" width="1.9" height="1.9" fill="#a0c0ff"/><rect x="403.7" y="257.8" width="1.9" height="1.9" fill="#c0d0ff"/><rect x="400.5" y="240.7" width="1.9" height="1.9" fill="#c0d0ff"/><rect x="402.7" y="248.8" width="1.9" height="1.9" fill="#4070ff"/><rect x="403.6" y="252" width="1.9" height="1.9" fill="#1030e8"/><rect x="404.4" y="255.3" width="1.9" height="1.9" fill="#a0c0ff"/><rect x="404.9" y="256.9" width="1.9" height="1.9" fill="#a0c0ff"/><rect x="402.5" y="243.1" width="1.9" height="1.9" fill="#c0d0ff"/><rect x="406.1" y="256" width="1.9" height="1.9" fill="#4070ff"/><rect x="406.5" y="257.6" width="1.9" height="1.9" fill="#a0c0ff"/><rect x="405" y="247" width="1.9" height="1.9" fill="#a0c0ff"/><rect x="406.3" y="251.9" width="1.9" height="1.9" fill="#a0c0ff"/><line x1="78.4" y1="40.7" x2="78.4" y2="548.9" stroke="#000" stroke-width="1.2" stroke-dasharray="2.8 5.4" fill="none"/><line x1="157.1" y1="40.7" x2="157.1" y2="548.9" stroke="#000" stroke-width="1.2" stroke-dasharray="2.8 5.4" fill="none"/><line x1="235.9" y1="40.7" x2="235.9" y2="548.9" stroke="#000" stroke-width="1.2" stroke-dasharray="2.8 5.4" fill="none"/><line x1="314.6" y1="40.7" x2="314.6" y2="548.9" stroke="#000" stroke-width="1.2" stroke-dasharray="2.8 5.4" fill="none"/><line x1="393.3" y1="40.7" x2="393.3" y2="548.9" stroke="#000" stroke-width="1.2" stroke-dasharray="2.8 5.4" fill="none"/><line x1="472.1" y1="40.7" x2="472.1" y2="548.9" stroke="#000" stroke-width="1.2" stroke-dasharray="2.8 5.4" fill="none"/><line x1="13.2" y1="113" x2="486.3" y2="113" stroke="#000" stroke-width="1.2" stroke-dasharray="2.8 5.4" fill="none"/><line x1="13.2" y1="197.7" x2="486.3" y2="197.7" stroke="#000" stroke-width="1.2" stroke-dasharray="2.8 5.4" fill="none"/><line x1="13.2" y1="282.3" x2="486.3" y2="282.3" stroke="#000" stroke-width="1.2" stroke-dasharray="2.8 5.4" fill="none"/><line x1="13.2" y1="367" x2="486.3" y2="367" stroke="#000" stroke-width="1.2" stroke-dasharray="2.8 5.4" fill="none"/><line x1="13.2" y1="451.7" x2="486.3" y2="451.7" stroke="#000" stroke-width="1.2" stroke-dasharray="2.8 5.4" fill="none"/><line x1="13.2" y1="536.4" x2="486.3" y2="536.4" stroke="#000" stroke-width="1.2" stroke-dasharray="2.8 5.4" fill="none"/><text x="78.4" y="303.2" font-size="11.8" text-anchor="middle" font-family="Liberation Sans, sans-serif">146</text><text x="157.1" y="303.2" font-size="11.8" text-anchor="middle" font-family="Liberation Sans, sans-serif">148</text><text x="235.9" y="303.2" font-size="11.8" text-anchor="middle" font-family="Liberation Sans, sans-serif">150</text><text x="314.6" y="303.2" font-size="11.8" text-anchor="middle" font-family="Liberation Sans, sans-serif">152</text><text x="393.3" y="303.2" font-size="11.8" text-anchor="middle" font-family="Liberation Sans, sans-serif">154</text><text x="472.1" y="303.2" font-size="11.8" text-anchor="middle" font-family="Liberation Sans, sans-serif">156</text><text x="255.8" y="112.4" font-size="11.8" text-anchor="middle" font-family="Liberation Sans, sans-serif">20</text><text x="255.8" y="197.1" font-size="11.8" text-anchor="middle" font-family="Liberation Sans, sans-serif">18</text><text x="255.8" y="281.7" font-size="11.8" text-anchor="middle" font-family="Liberation Sans, sans-serif">16</text><text x="255.8" y="366.4" font-size="11.8" text-anchor="middle" font-family="Liberation Sans, sans-serif">14</text><text x="255.8" y="451.1" font-size="11.8" text-anchor="middle" font-family="Liberation Sans, sans-serif">12</text><text x="255.8" y="535.8" font-size="11.8" text-anchor="middle" font-family="Liberation Sans, sans-serif">10</text><polyline points="13,40.7 84,81.2 154.7,123.2 225,165.5 295,208.7 390,270.5 481.4,333.5" stroke="#000" stroke-width="1.05" stroke-dasharray="12.1 11.6" fill="none"/><polyline points="197.6,40.7 256,76 314.8,111.9 393.8,162.1 440,193 485.6,224.2" stroke="#000" stroke-width="1.05" stroke-dasharray="12.1 11.6" fill="none"/><path d="M243.6 294.4H256.4M250 288V300.8" stroke="#000" stroke-width="4.2" fill="none"/><text x="37" y="65.6" font-size="25" font-family="Liberation Sans, sans-serif">2A25 near surface rainrate (mm/hr)</text><text x="439.6" y="523.6" font-size="28" font-family="Liberation Sans, sans-serif">(c)</text><rect x="495" y="531.6" width="9" height="8.8" fill="#86e286"/><rect x="495" y="523.1" width="9" height="8.8" fill="#86e286"/><rect x="495" y="514.6" width="9" height="8.8" fill="#7ed87e"/><rect x="495" y="506.2" width="9" height="8.8" fill="#76ce76"/><rect x="495" y="497.7" width="9" height="8.8" fill="#76ce76"/><rect x="495" y="489.2" width="9" height="8.8" fill="#6ec46e"/><rect x="495" y="480.8" width="9" height="8.8" fill="#66ba66"/><rect x="495" y="472.3" width="9" height="8.8" fill="#ccd4ff"/><rect x="495" y="463.9" width="9" height="8.8" fill="#ccd4ff"/><rect x="495" y="455.4" width="9" height="8.8" fill="#b8ccff"/><rect x="495" y="446.9" width="9" height="8.8" fill="#a2c4ff"/><rect x="495" y="438.5" width="9" height="8.8" fill="#84baff"/><rect x="495" y="430" width="9" height="8.8" fill="#84baff"/><rect x="495" y="421.5" width="9" height="8.8" fill="#66b2ff"/><rect x="495" y="413.1" width="9" height="8.8" fill="#50a8ff"/><rect x="495" y="404.6" width="9" height="8.8" fill="#4488ff"/><rect x="495" y="396.1" width="9" height="8.8" fill="#4488ff"/><rect x="495" y="387.7" width="9" height="8.8" fill="#4068ff"/><rect x="495" y="379.2" width="9" height="8.8" fill="#3a4aff"/><rect x="495" y="370.7" width="9" height="8.8" fill="#3030ff"/><rect x="495" y="362.3" width="9" height="8.8" fill="#3030ff"/><rect x="495" y="353.8" width="9" height="8.8" fill="#0000ff"/><rect x="495" y="345.3" width="9" height="8.8" fill="#0000f0"/><rect x="495" y="336.9" width="9" height="8.8" fill="#0000e0"/><rect x="495" y="328.4" width="9" height="8.8" fill="#0000e0"/><rect x="495" y="319.9" width="9" height="8.8" fill="#0000d0"/><rect x="495" y="311.5" width="9" height="8.8" fill="#0000c0"/><rect x="495" y="303" width="9" height="8.8" fill="#ffff00"/><rect x="495" y="294.6" width="9" height="8.8" fill="#ffff00"/><rect x="495" y="286.1" width="9" height="8.8" fill="#fff000"/><rect x="495" y="277.6" width="9" height="8.8" fill="#ffe400"/><rect x="495" y="269.2" width="9" height="8.8" fill="#ffe400"/><rect x="495" y="260.7" width="9" height="8.8" fill="#ffd800"/><rect x="495" y="252.2" width="9" height="8.8" fill="#ffcc00"/><rect x="495" y="243.8" width="9" height="8.8" fill="#ff9000"/><rect x="495" y="235.3" width="9" height="8.8" fill="#ff9000"/><rect x="495" y="226.8" width="9" height="8.8" fill="#ff8a00"/><rect x="495" y="218.4" width="9" height="8.8" fill="#ff8400"/><rect x="495" y="209.9" width="9" height="8.8" fill="#ff7e00"/><rect x="495" y="201.4" width="9" height="8.8" fill="#ff7800"/><rect x="495" y="193" width="9" height="8.8" fill="#ff4600"/><rect x="495" y="184.5" width="9" height="8.8" fill="#ff4600"/><rect x="495" y="176" width="9" height="8.8" fill="#ff3a00"/><rect x="495" y="167.6" width="9" height="8.8" fill="#ff3000"/><rect x="495" y="159.1" width="9" height="8.8" fill="#ff3000"/><rect x="495" y="150.6" width="9" height="8.8" fill="#ff2600"/><rect x="495" y="142.2" width="9" height="8.8" fill="#ff1a08"/><rect x="495" y="133.7" width="9" height="8.8" fill="#cc0000"/><rect x="495" y="125.2" width="9" height="8.8" fill="#cc0000"/><rect x="495" y="116.8" width="9" height="8.8" fill="#c00000"/><rect x="495" y="108.3" width="9" height="8.8" fill="#b40400"/><rect x="495" y="99.9" width="9" height="8.8" fill="#b40400"/><rect x="495" y="91.4" width="9" height="8.8" fill="#a80800"/><rect x="495" y="82.9" width="9" height="8.8" fill="#9c0c04"/><rect x="495" y="74.5" width="9" height="8.8" fill="#661004"/><rect x="495" y="66" width="9" height="8.8" fill="#621208"/><rect x="495" y="57.5" width="9" height="8.8" fill="#5e1410"/><rect x="495" y="49.1" width="9" height="8.8" fill="#5c1814"/><rect x="495" y="40.6" width="9" height="8.8" fill="#5a1c1c"/><line x1="503.5" y1="91.4" x2="506.3" y2="91.4" stroke="#000" stroke-width="0.9"/><text x="524" y="99.3" font-size="19.1" text-anchor="middle" font-family="Liberation Sans, sans-serif">54</text><line x1="503.5" y1="142.2" x2="506.3" y2="142.2" stroke="#000" stroke-width="0.9"/><text x="524" y="150.1" font-size="19.1" text-anchor="middle" font-family="Liberation Sans, sans-serif">48</text><line x1="503.5" y1="193" x2="506.3" y2="193" stroke="#000" stroke-width="0.9"/><text x="524" y="200.9" font-size="19.1" text-anchor="middle" font-family="Liberation Sans, sans-serif">42</text><line x1="503.5" y1="243.8" x2="506.3" y2="243.8" stroke="#000" stroke-width="0.9"/><text x="524" y="251.7" font-size="19.1" text-anchor="middle" font-family="Liberation Sans, sans-serif">36</text><line x1="503.5" y1="294.6" x2="506.3" y2="294.6" stroke="#000" stroke-width="0.9"/><text x="524" y="302.4" font-size="19.1" text-anchor="middle" font-family="Liberation Sans, sans-serif">30</text><line x1="503.5" y1="345.3" x2="506.3" y2="345.3" stroke="#000" stroke-width="0.9"/><text x="524" y="353.2" font-size="19.1" text-anchor="middle" font-family="Liberation Sans, sans-serif">24</text><line x1="503.5" y1="396.1" x2="506.3" y2="396.1" stroke="#000" stroke-width="0.9"/><text x="524" y="404" font-size="19.1" text-anchor="middle" font-family="Liberation Sans, sans-serif">18</text><line x1="503.5" y1="446.9" x2="506.3" y2="446.9" stroke="#000" stroke-width="0.9"/><text x="524" y="454.8" font-size="19.1" text-anchor="middle" font-family="Liberation Sans, sans-serif">12</text><line x1="503.5" y1="497.7" x2="506.3" y2="497.7" stroke="#000" stroke-width="0.9"/><text x="524" y="505.6" font-size="19.1" text-anchor="middle" font-family="Liberation Sans, sans-serif">6</text><line x1="503.5" y1="548.5" x2="506.3" y2="548.5" stroke="#000" stroke-width="0.9"/><text x="524" y="556.4" font-size="19.1" text-anchor="middle" font-family="Liberation Sans, sans-serif">0</text></g>
<g transform="translate(0 590.6)"><defs><clipPath id="tmiclip"><polygon points="13,40.4 427,40.4 486.4,78.3 486.4,476.6 393.5,414.6 314.3,362.1 235.6,309.6 200,286.7 140,249.8 78.4,213.6 13,175.5"/></clipPath><filter id="blur9" x="-30%" y="-30%" width="160%" height="160%"><feGaussianBlur stdDeviation="7"/></filter><filter id="blur20" x="-50%" y="-50%" width="200%" height="200%"><feGaussianBlur stdDeviation="16"/></filter></defs><polygon points="13,40.4 427,40.4 486.4,78.3 486.4,476.6 393.5,414.6 314.3,362.1 235.6,309.6 200,286.7 140,249.8 78.4,213.6 13,175.5" fill="#e8e8e8"/><g clip-path="url(#tmiclip)"><ellipse cx="330" cy="215" rx="150" ry="80" fill="#d8d8d8" filter="url(#blur20)" transform="rotate(-25 330 215)"/><ellipse cx="404" cy="172" rx="12" ry="36" fill="#9c9c9c" filter="url(#blur9)" transform="rotate(-48 404 172)"/><g filter="url(#blur9)"><polygon points="271.9,224.3 276.1,223.2 280.3,224 283.2,221.5 284.9,219.5 287.4,220.1 287.1,222.2 283.9,224 282.5,226.4 281.8,229.9 282.5,233.5 286,235.6 289.5,237 290.9,239.8 292.3,243.4 293.8,245.5 291.6,249 289.5,252.5 288.1,256.8 287.4,261 288.8,265.2 290.9,268.8 291.6,272.3 289.5,273 286.7,274.4 285.3,277.2 284.6,280.8 283.9,285 283.2,289.2 284.6,293.5 286.7,297 286,300.5 283.9,303.3 283.2,306.9 281.1,306.2 278.9,304.1 278.2,300.5 276.8,297.7 274.7,294.9 272.6,292.1 270.5,291.4 269.1,294.2 266.9,297 264.8,298.4 263.4,300.5 260.6,303.3 257.8,304.8 254.2,304.1 252.1,302.6 249.3,301.2 247.2,299.1 246.5,296.3 244.3,294.2 241.5,292.8 238.7,291.4 235.9,289.9 232.3,289.2 229.5,287.8 227,285.7 225.3,282.9 222.5,280.8 221.1,277.2 220.4,273.7 219.4,269.5 219.2,265.2 220.4,261.7 221.8,258.9 223.2,256.1 224.6,253.2 228.1,253.2 229.5,256.8 230.9,259.6 232.3,261.7 235.2,262.4 238.7,261.7 241.5,259.6 245.1,257.5 248.6,255.6 252.1,253.9 255.6,251.8 259.2,249.4 262,246.9 264.1,244.1 264.8,240.5 264.5,237 265.5,233.5 267.6,229.9 269.8,227.1" fill="#8a8a8a" stroke="#8a8a8a" stroke-width="4" stroke-linejoin="round"/><polygon points="320.6,206.2 324.1,205.9 326.2,203.8 329,200.3 331.9,196.1 334.7,193.2 338.2,192.5 341,193.9 343.2,196.8 345.3,198.9 348.1,197.8 350.9,196.1 353.5,193.9 354.5,191.1 357.3,189 360.8,187.3 364.3,185.5 366.5,183.4 368.6,181.9 370.7,183.4 372.1,180.5 372.8,175.6 374.9,173.5 377.7,172.8 379.9,170 382,167.1 383.7,165 384.5,167.1 384.8,171.4 385.5,175.6 386.9,179.1 389,181.9 390.5,184.8 389,187.3 385.5,188.3 382,188.3 379.2,189.3 377.7,191.8 378.5,194.7 380.6,196.1 384.1,196.8 387.6,196.1 391.2,195.4 394.7,195.4 398.2,194.4 401.7,193 405.3,191.1 408.1,189.7 410.9,188.3 414.4,187.3 417,188.3 417.6,191.1 415.9,193.9 413,194.7 410.2,195.4 407.4,196.8 404.6,198.6 401.7,199.6 398.9,200.3 396.1,201.7 394,203.8 393.3,205.2 390.5,204.5 387.6,203.1 384.1,201.7 380.6,201 377,201.4 373.5,202.4 370,203.4 366.5,204.5 362.9,205.7 360.1,207.1 358.7,208.8 361.5,210.9 364.3,212.3 365,214.4 362.9,215.8 359.4,216.1 356.6,215.5 354.5,213.7 353.7,211.6 355.2,209.5 353.7,207.4 350.9,207.1 346.7,207.4 342.5,207.1 338.2,206.7 334,207.4 329.8,208.1 325.5,208.1 322.7,207.4" fill="#8a8a8a" stroke="#8a8a8a" stroke-width="4" stroke-linejoin="round"/><polygon points="365.7,254.6 369.3,254.2 372.1,252.5 373.5,249.7 374.2,246.2 376.3,243.4 378.5,240.5 379.2,237 381.3,234.2 385.5,233.1 390.5,233.5 395.4,234.5 399.6,236.3 403.2,239.1 404.6,243.4 404.9,247.6 403.9,251.8 401.7,255.4 398.9,258.9 395.4,261.3 391.2,262.7 386.2,262.7 382,261.7 377.7,259.6 374.2,257.9 371.4,256.5 368.6,256.1 366.5,256.8 364.8,255.6" fill="#8a8a8a" stroke="#8a8a8a" stroke-width="4" stroke-linejoin="round"/><polygon points="317,252.5 318.5,249 321.3,246.2 325.5,244.8 329.8,245.5 334,247.6 338.2,249 336.8,251.1 333.3,252.5 329,254.2 324.1,255.1 319.9,254.6" fill="#8a8a8a" stroke="#8a8a8a" stroke-width="4" stroke-linejoin="round"/><polygon points="322.7,259.9 325.5,259.6 329,260.7 331.9,262.4 333.7,265 333.3,266.4 330.5,265.7 326.9,264.1 324.1,262.1" fill="#8a8a8a" stroke="#8a8a8a" stroke-width="4" stroke-linejoin="round"/><polygon points="247.9,306.2 250.7,305.5 253.5,306.9 255.2,309.7 254.2,312.9 252.1,314.6 249.3,313.5 247.6,310.7 247.2,308.3" fill="#8a8a8a" stroke="#8a8a8a" stroke-width="4" stroke-linejoin="round"/></g></g><polygon points="271.9,224.3 276.1,223.2 280.3,224 283.2,221.5 284.9,219.5 287.4,220.1 287.1,222.2 283.9,224 282.5,226.4 281.8,229.9 282.5,233.5 286,235.6 289.5,237 290.9,239.8 292.3,243.4 293.8,245.5 291.6,249 289.5,252.5 288.1,256.8 287.4,261 288.8,265.2 290.9,268.8 291.6,272.3 289.5,273 286.7,274.4 285.3,277.2 284.6,280.8 283.9,285 283.2,289.2 284.6,293.5 286.7,297 286,300.5 283.9,303.3 283.2,306.9 281.1,306.2 278.9,304.1 278.2,300.5 276.8,297.7 274.7,294.9 272.6,292.1 270.5,291.4 269.1,294.2 266.9,297 264.8,298.4 263.4,300.5 260.6,303.3 257.8,304.8 254.2,304.1 252.1,302.6 249.3,301.2 247.2,299.1 246.5,296.3 244.3,294.2 241.5,292.8 238.7,291.4 235.9,289.9 232.3,289.2 229.5,287.8 227,285.7 225.3,282.9 222.5,280.8 221.1,277.2 220.4,273.7 219.4,269.5 219.2,265.2 220.4,261.7 221.8,258.9 223.2,256.1 224.6,253.2 228.1,253.2 229.5,256.8 230.9,259.6 232.3,261.7 235.2,262.4 238.7,261.7 241.5,259.6 245.1,257.5 248.6,255.6 252.1,253.9 255.6,251.8 259.2,249.4 262,246.9 264.1,244.1 264.8,240.5 264.5,237 265.5,233.5 267.6,229.9 269.8,227.1" fill="#74cc74" stroke="#000" stroke-width="1.1" stroke-linejoin="round"/><polygon points="247.9,306.2 250.7,305.5 253.5,306.9 255.2,309.7 254.2,312.9 252.1,314.6 249.3,313.5 247.6,310.7 247.2,308.3" fill="#74cc74" stroke="#000" stroke-width="1.1" stroke-linejoin="round"/><polygon points="287.4,287.1 290.2,286.4 294.5,285.7 295.9,287.8 295.2,291.4 293,293.2 289.9,292.1 288.1,289.9" fill="#74cc74" stroke="#000" stroke-width="1.1" stroke-linejoin="round"/><polygon points="320.6,206.2 324.1,205.9 326.2,203.8 329,200.3 331.9,196.1 334.7,193.2 338.2,192.5 341,193.9 343.2,196.8 345.3,198.9 348.1,197.8 350.9,196.1 353.5,193.9 354.5,191.1 357.3,189 360.8,187.3 364.3,185.5 366.5,183.4 368.6,181.9 370.7,183.4 372.1,180.5 372.8,175.6 374.9,173.5 377.7,172.8 379.9,170 382,167.1 383.7,165 384.5,167.1 384.8,171.4 385.5,175.6 386.9,179.1 389,181.9 390.5,184.8 389,187.3 385.5,188.3 382,188.3 379.2,189.3 377.7,191.8 378.5,194.7 380.6,196.1 384.1,196.8 387.6,196.1 391.2,195.4 394.7,195.4 398.2,194.4 401.7,193 405.3,191.1 408.1,189.7 410.9,188.3 414.4,187.3 417,188.3 417.6,191.1 415.9,193.9 413,194.7 410.2,195.4 407.4,196.8 404.6,198.6 401.7,199.6 398.9,200.3 396.1,201.7 394,203.8 393.3,205.2 390.5,204.5 387.6,203.1 384.1,201.7 380.6,201 377,201.4 373.5,202.4 370,203.4 366.5,204.5 362.9,205.7 360.1,207.1 358.7,208.8 361.5,210.9 364.3,212.3 365,214.4 362.9,215.8 359.4,216.1 356.6,215.5 354.5,213.7 353.7,211.6 355.2,209.5 353.7,207.4 350.9,207.1 346.7,207.4 342.5,207.1 338.2,206.7 334,207.4 329.8,208.1 325.5,208.1 322.7,207.4" fill="#74cc74" stroke="#000" stroke-width="1.1" stroke-linejoin="round"/><polygon points="365.7,254.6 369.3,254.2 372.1,252.5 373.5,249.7 374.2,246.2 376.3,243.4 378.5,240.5 379.2,237 381.3,234.2 385.5,233.1 390.5,233.5 395.4,234.5 399.6,236.3 403.2,239.1 404.6,243.4 404.9,247.6 403.9,251.8 401.7,255.4 398.9,258.9 395.4,261.3 391.2,262.7 386.2,262.7 382,261.7 377.7,259.6 374.2,257.9 371.4,256.5 368.6,256.1 366.5,256.8 364.8,255.6" fill="#74cc74" stroke="#000" stroke-width="1.1" stroke-linejoin="round"/><polygon points="317,252.5 318.5,249 321.3,246.2 325.5,244.8 329.8,245.5 334,247.6 338.2,249 336.8,251.1 333.3,252.5 329,254.2 324.1,255.1 319.9,254.6" fill="#a8c4ff" stroke="#000" stroke-width="1.1" stroke-linejoin="round"/><polygon points="322.7,259.9 325.5,259.6 329,260.7 331.9,262.4 333.7,265 333.3,266.4 330.5,265.7 326.9,264.1 324.1,262.1" fill="#5aa0f0" stroke="#000" stroke-width="1.1" stroke-linejoin="round"/><polygon points="228.1,275.1 236.6,270.9 245.1,265.2 252.1,259.6 260.6,254.6 266.2,249.7 269.1,244.8 274.7,243.4 280.3,245.5 287.4,246.9 288.8,251.1 286,256.8 287.4,262.4 287.4,266.6 281.8,270.9 280.3,275.1 280.3,280.8 281.8,286.4 283.2,292.1 280.3,296.3 274.7,290.6 269.1,289.2 264.8,293.5 260.6,299.1 256.3,301.9 252.1,299.1 249.3,294.9 246.5,289.2 243.6,283.6 238,280.8 232.3,278.6" fill="#c4d0ff"/><polygon points="235.2,273.7 243.6,268.8 250.7,263.8 257.8,258.9 263.4,255.4 269.1,251.1 276.1,249.7 283.2,251.1 286,253.9 283.2,258.2 284.6,262.4 281.8,266.6 278.9,270.2 276.1,273.7 274.7,279.4 276.1,285 274.7,289.2 269.1,287.8 264.8,292.1 260.6,295.6 256.3,293.5 252.1,287.8 249.3,282.2 245.1,278.6 239.4,277.2" fill="#8cbcff"/><polygon points="242.2,275.1 249.3,269.5 256.3,263.8 262,259.6 269.1,253.9 276.1,251.1 281.8,252.5 280.3,256.8 276.1,259.6 274.7,263.8 277.5,268.1 276.1,272.3 271.9,275.1 269.1,279.4 270.5,285 269.1,289.2 264.8,292.1 260.6,294.9 256.3,293.5 252.1,287.8 249.3,282.2 245.1,278.6" fill="#4a86ff"/><polygon points="257.8,262.4 263.4,259.6 269.1,261 273.3,265.2 274.7,269.5 270.5,273 266.2,273.7 263.4,270.9 259.9,267.4" fill="#0428e6"/><polygon points="245.1,273.7 252.1,272.3 257.8,275.1 262,279.4 264.8,283.6 263.4,287.8 259.2,286.4 253.5,282.2 247.9,278.6" fill="#0428e6"/><polygon points="262,263.1 266.2,262.4 268.3,264.5 264.8,265.5" fill="#ff9000"/><polygon points="245.1,276.5 250.7,275.8 256.3,278.6 260.6,282.2 263.4,286.4 262,289.2 259.2,291.4 260.6,294.9 259.2,299.1 256.3,300.5 253.5,297.7 252.1,293.5 249.3,289.2 247.2,285 245.8,280.8" fill="#ffe000"/><polygon points="250.7,278.6 256.3,280.8 259.9,285 257.8,289.2 254.9,287.8 252.1,283.6" fill="#ff8800"/><polygon points="253.5,293.5 257.8,292.8 259.2,297.7 256.3,299.8 254.2,297.7" fill="#ff2800"/><polygon points="266.9,232.1 271.9,231.4 274.7,234.2 273.3,238.4 269.1,238.4" fill="#b4ccff"/><polygon points="249,308.3 251,307.3 253.2,309 253.5,311.5 251.5,312.9 249.6,311.5" fill="#9cc4ff"/><polygon points="357.3,191.1 361.5,189 366.5,189.7 372.1,192.5 372.8,196.1 367.9,196.8 362.9,195.4 358.7,193.9" fill="#9cc4ff"/><polygon points="329,201.7 331.9,198.2 334.7,198.9 334,203.1 331.2,205.9 328.3,205.2" fill="#c8d4ff"/><polygon points="348.8,198.2 352.3,196.8 354.5,198.9 352.3,201 349.5,200.6" fill="#c8d4ff"/><polygon points="376.3,246.9 379.9,238.4 387.6,236.3 396.1,238.4 401.7,244.1 402.5,251.1 397.5,255.4 390.5,257.5 383.4,256.8 378.5,252.5" fill="#c0d0ff"/><polygon points="379.2,248.3 383.4,241.2 390.5,238.4 396.8,241.2 398.9,246.9 396.1,252.5 390.5,254.6 384.1,253.9" fill="#80b8ff"/><polygon points="376.3,248.3 379.9,246.9 384.1,249.7 387.6,252.5 384.8,254.6 379.9,252.5" fill="#3c70ff"/><polygon points="319.2,251.8 321.3,247.6 325.5,246.2 330.5,246.9 332.6,249 329,251.8 324.1,253.7" fill="#3c60ff"/><circle cx="350.9" cy="222.9" r="0.8" fill="#111"/><circle cx="330.5" cy="231.1" r="0.5" fill="#111"/><circle cx="418.7" cy="181.9" r="1.1" fill="#111"/><circle cx="283.5" cy="239.5" r="0.8" fill="#111"/><circle cx="281.8" cy="319.2" r="0.8" fill="#111"/><line x1="78.4" y1="40.7" x2="78.4" y2="548.9" stroke="#000" stroke-width="1.2" stroke-dasharray="2.8 5.4" fill="none"/><line x1="157.1" y1="40.7" x2="157.1" y2="548.9" stroke="#000" stroke-width="1.2" stroke-dasharray="2.8 5.4" fill="none"/><line x1="235.9" y1="40.7" x2="235.9" y2="548.9" stroke="#000" stroke-width="1.2" stroke-dasharray="2.8 5.4" fill="none"/><line x1="314.6" y1="40.7" x2="314.6" y2="548.9" stroke="#000" stroke-width="1.2" stroke-dasharray="2.8 5.4" fill="none"/><line x1="393.3" y1="40.7" x2="393.3" y2="548.9" stroke="#000" stroke-width="1.2" stroke-dasharray="2.8 5.4" fill="none"/><line x1="472.1" y1="40.7" x2="472.1" y2="548.9" stroke="#000" stroke-width="1.2" stroke-dasharray="2.8 5.4" fill="none"/><line x1="13.2" y1="113" x2="486.3" y2="113" stroke="#000" stroke-width="1.2" stroke-dasharray="2.8 5.4" fill="none"/><line x1="13.2" y1="197.7" x2="486.3" y2="197.7" stroke="#000" stroke-width="1.2" stroke-dasharray="2.8 5.4" fill="none"/><line x1="13.2" y1="282.3" x2="486.3" y2="282.3" stroke="#000" stroke-width="1.2" stroke-dasharray="2.8 5.4" fill="none"/><line x1="13.2" y1="367" x2="486.3" y2="367" stroke="#000" stroke-width="1.2" stroke-dasharray="2.8 5.4" fill="none"/><line x1="13.2" y1="451.7" x2="486.3" y2="451.7" stroke="#000" stroke-width="1.2" stroke-dasharray="2.8 5.4" fill="none"/><line x1="13.2" y1="536.4" x2="486.3" y2="536.4" stroke="#000" stroke-width="1.2" stroke-dasharray="2.8 5.4" fill="none"/><text x="78.4" y="303.2" font-size="11.8" text-anchor="middle" font-family="Liberation Sans, sans-serif">146</text><text x="157.1" y="303.2" font-size="11.8" text-anchor="middle" font-family="Liberation Sans, sans-serif">148</text><text x="235.9" y="303.2" font-size="11.8" text-anchor="middle" font-family="Liberation Sans, sans-serif">150</text><text x="314.6" y="303.2" font-size="11.8" text-anchor="middle" font-family="Liberation Sans, sans-serif">152</text><text x="393.3" y="303.2" font-size="11.8" text-anchor="middle" font-family="Liberation Sans, sans-serif">154</text><text x="472.1" y="303.2" font-size="11.8" text-anchor="middle" font-family="Liberation Sans, sans-serif">156</text><text x="255.8" y="112.4" font-size="11.8" text-anchor="middle" font-family="Liberation Sans, sans-serif">20</text><text x="255.8" y="197.1" font-size="11.8" text-anchor="middle" font-family="Liberation Sans, sans-serif">18</text><text x="255.8" y="281.7" font-size="11.8" text-anchor="middle" font-family="Liberation Sans, sans-serif">16</text><text x="255.8" y="366.4" font-size="11.8" text-anchor="middle" font-family="Liberation Sans, sans-serif">14</text><text x="255.8" y="451.1" font-size="11.8" text-anchor="middle" font-family="Liberation Sans, sans-serif">12</text><text x="255.8" y="535.8" font-size="11.8" text-anchor="middle" font-family="Liberation Sans, sans-serif">10</text><polyline points="13,40.7 84,81.2 154.7,123.2 225,165.5 295,208.7 390,270.5 481.4,333.5" stroke="#000" stroke-width="1.05" stroke-dasharray="12.1 11.6" fill="none"/><polyline points="197.6,40.7 256,76 314.8,111.9 393.8,162.1 440,193 485.6,224.2" stroke="#000" stroke-width="1.05" stroke-dasharray="12.1 11.6" fill="none"/><path d="M243.6 294.4H256.4M250 288V300.8" stroke="#000" stroke-width="4.2" fill="none"/><text x="44" y="65.6" font-size="25" font-family="Liberation Sans, sans-serif">85GHz PCT (K)</text><text x="439.6" y="523.6" font-size="28" font-family="Liberation Sans, sans-serif">(d)</text><rect x="495" y="540" width="9" height="8.8" fill="#ffffff"/><rect x="495" y="531.6" width="9" height="8.8" fill="#f7f7f7"/><rect x="495" y="523.1" width="9" height="8.8" fill="#f0f0f0"/><rect x="495" y="514.6" width="9" height="8.8" fill="#e8e8e8"/><rect x="495" y="506.2" width="9" height="8.8" fill="#e1e1e1"/><rect x="495" y="497.7" width="9" height="8.8" fill="#d9d9d9"/><rect x="495" y="489.2" width="9" height="8.8" fill="#d2d2d2"/><rect x="495" y="480.8" width="9" height="8.8" fill="#cacaca"/><rect x="495" y="472.3" width="9" height="8.8" fill="#c3c3c3"/><rect x="495" y="463.9" width="9" height="8.8" fill="#bbbbbb"/><rect x="495" y="455.4" width="9" height="8.8" fill="#b4b4b4"/><rect x="495" y="446.9" width="9" height="8.8" fill="#acacac"/><rect x="495" y="438.5" width="9" height="8.8" fill="#a5a5a5"/><rect x="495" y="430" width="9" height="8.8" fill="#9d9d9d"/><rect x="495" y="421.5" width="9" height="8.8" fill="#969696"/><rect x="495" y="413.1" width="9" height="8.8" fill="#86e286"/><rect x="495" y="404.6" width="9" height="8.8" fill="#7ed87e"/><rect x="495" y="396.1" width="9" height="8.8" fill="#76ce76"/><rect x="495" y="387.7" width="9" height="8.8" fill="#6ec46e"/><rect x="495" y="379.2" width="9" height="8.8" fill="#66ba66"/><rect x="495" y="370.7" width="9" height="8.8" fill="#ccd4ff"/><rect x="495" y="362.3" width="9" height="8.8" fill="#b8ccff"/><rect x="495" y="353.8" width="9" height="8.8" fill="#a2c4ff"/><rect x="495" y="345.3" width="9" height="8.8" fill="#84baff"/><rect x="495" y="336.9" width="9" height="8.8" fill="#66b2ff"/><rect x="495" y="328.4" width="9" height="8.8" fill="#50a8ff"/><rect x="495" y="319.9" width="9" height="8.8" fill="#4488ff"/><rect x="495" y="311.5" width="9" height="8.8" fill="#4068ff"/><rect x="495" y="303" width="9" height="8.8" fill="#3a4aff"/><rect x="495" y="294.6" width="9" height="8.8" fill="#3030ff"/><rect x="495" y="286.1" width="9" height="8.8" fill="#0000ff"/><rect x="495" y="277.6" width="9" height="8.8" fill="#0000f0"/><rect x="495" y="269.2" width="9" height="8.8" fill="#0000e0"/><rect x="495" y="260.7" width="9" height="8.8" fill="#0000d0"/><rect x="495" y="252.2" width="9" height="8.8" fill="#0000c0"/><rect x="495" y="243.8" width="9" height="8.8" fill="#ffff00"/><rect x="495" y="235.3" width="9" height="8.8" fill="#fff000"/><rect x="495" y="226.8" width="9" height="8.8" fill="#ffe400"/><rect x="495" y="218.4" width="9" height="8.8" fill="#ffd800"/><rect x="495" y="209.9" width="9" height="8.8" fill="#ffcc00"/><rect x="495" y="201.4" width="9" height="8.8" fill="#ff9000"/><rect x="495" y="193" width="9" height="8.8" fill="#ff8a00"/><rect x="495" y="184.5" width="9" height="8.8" fill="#ff8400"/><rect x="495" y="176" width="9" height="8.8" fill="#ff7e00"/><rect x="495" y="167.6" width="9" height="8.8" fill="#ff7800"/><rect x="495" y="159.1" width="9" height="8.8" fill="#ff4600"/><rect x="495" y="150.6" width="9" height="8.8" fill="#ff3a00"/><rect x="495" y="142.2" width="9" height="8.8" fill="#ff3000"/><rect x="495" y="133.7" width="9" height="8.8" fill="#ff2600"/><rect x="495" y="125.2" width="9" height="8.8" fill="#ff1a08"/><rect x="495" y="116.8" width="9" height="8.8" fill="#cc0000"/><rect x="495" y="108.3" width="9" height="8.8" fill="#c00000"/><rect x="495" y="99.9" width="9" height="8.8" fill="#b40400"/><rect x="495" y="91.4" width="9" height="8.8" fill="#a80800"/><rect x="495" y="82.9" width="9" height="8.8" fill="#9c0c04"/><rect x="495" y="74.5" width="9" height="8.8" fill="#661004"/><rect x="495" y="66" width="9" height="8.8" fill="#621208"/><rect x="495" y="57.5" width="9" height="8.8" fill="#5e1410"/><rect x="495" y="49.1" width="9" height="8.8" fill="#5c1814"/><rect x="495" y="40.6" width="9" height="8.8" fill="#5a1c1c"/><line x1="503.5" y1="91.4" x2="506.3" y2="91.4" stroke="#000" stroke-width="0.9"/><text x="524" y="99.3" font-size="19.1" text-anchor="middle" font-family="Liberation Sans, sans-serif">111</text><line x1="503.5" y1="142.2" x2="506.3" y2="142.2" stroke="#000" stroke-width="0.9"/><text x="524" y="150.1" font-size="19.1" text-anchor="middle" font-family="Liberation Sans, sans-serif">132</text><line x1="503.5" y1="193" x2="506.3" y2="193" stroke="#000" stroke-width="0.9"/><text x="524" y="200.9" font-size="19.1" text-anchor="middle" font-family="Liberation Sans, sans-serif">153</text><line x1="503.5" y1="243.8" x2="506.3" y2="243.8" stroke="#000" stroke-width="0.9"/><text x="524" y="251.7" font-size="19.1" text-anchor="middle" font-family="Liberation Sans, sans-serif">174</text><line x1="503.5" y1="294.6" x2="506.3" y2="294.6" stroke="#000" stroke-width="0.9"/><text x="524" y="302.4" font-size="19.1" text-anchor="middle" font-family="Liberation Sans, sans-serif">195</text><line x1="503.5" y1="345.3" x2="506.3" y2="345.3" stroke="#000" stroke-width="0.9"/><text x="524" y="353.2" font-size="19.1" text-anchor="middle" font-family="Liberation Sans, sans-serif">216</text><line x1="503.5" y1="396.1" x2="506.3" y2="396.1" stroke="#000" stroke-width="0.9"/><text x="524" y="404" font-size="19.1" text-anchor="middle" font-family="Liberation Sans, sans-serif">237</text><line x1="503.5" y1="446.9" x2="506.3" y2="446.9" stroke="#000" stroke-width="0.9"/><text x="524" y="454.8" font-size="19.1" text-anchor="middle" font-family="Liberation Sans, sans-serif">258</text><line x1="503.5" y1="497.7" x2="506.3" y2="497.7" stroke="#000" stroke-width="0.9"/><text x="524" y="505.6" font-size="19.1" text-anchor="middle" font-family="Liberation Sans, sans-serif">279</text><line x1="503.5" y1="548.5" x2="506.3" y2="548.5" stroke="#000" stroke-width="0.9"/><text x="524" y="556.4" font-size="19.1" text-anchor="middle" font-family="Liberation Sans, sans-serif">300</text></g>
<g transform="translate(590.4 590.6)"><defs><pattern id="pe_lav" width="60" height="60" patternUnits="userSpaceOnUse" patternTransform="rotate(-32)"><rect width="60" height="60" fill="#c8d3ff"/><rect x="0" y="0" width="5" height="5" fill="#bccfff"/><rect x="0" y="10" width="5" height="5" fill="#a8c8ff"/><rect x="0" y="25" width="5" height="5" fill="#c4d2ff"/><rect x="0" y="35" width="5" height="5" fill="#bccfff"/><rect x="0" y="40" width="5" height="5" fill="#c4d2ff"/><rect x="0" y="50" width="5" height="5" fill="#c4d2ff"/><rect x="5" y="10" width="5" height="5" fill="#a8c8ff"/><rect x="5" y="15" width="5" height="5" fill="#a8c8ff"/><rect x="5" y="35" width="5" height="5" fill="#c4d2ff"/><rect x="5" y="40" width="5" height="5" fill="#a8c8ff"/><rect x="5" y="50" width="5" height="5" fill="#c4d2ff"/><rect x="10" y="5" width="5" height="5" fill="#c4d2ff"/><rect x="10" y="15" width="5" height="5" fill="#c4d2ff"/><rect x="10" y="20" width="5" height="5" fill="#c4d2ff"/><rect x="10" y="25" width="5" height="5" fill="#a8c8ff"/><rect x="10" y="45" width="5" height="5" fill="#c4d2ff"/><rect x="10" y="55" width="5" height="5" fill="#bccfff"/><rect x="15" y="0" width="5" height="5" fill="#a8c8ff"/><rect x="15" y="10" width="5" height="5" fill="#c4d2ff"/><rect x="15" y="20" width="5" height="5" fill="#c4d2ff"/><rect x="15" y="25" width="5" height="5" fill="#bccfff"/><rect x="15" y="30" width="5" height="5" fill="#c4d2ff"/><rect x="15" y="45" width="5" height="5" fill="#c4d2ff"/><rect x="15" y="50" width="5" height="5" fill="#c4d2ff"/><rect x="20" y="0" width="5" height="5" fill="#bccfff"/><rect x="20" y="10" width="5" height="5" fill="#c4d2ff"/><rect x="20" y="20" width="5" height="5" fill="#c4d2ff"/><rect x="20" y="30" width="5" height="5" fill="#c4d2ff"/><rect x="20" y="40" width="5" height="5" fill="#a8c8ff"/><rect x="20" y="45" width="5" height="5" fill="#c4d2ff"/><rect x="20" y="50" width="5" height="5" fill="#a8c8ff"/><rect x="20" y="55" width="5" height="5" fill="#bccfff"/><rect x="25" y="0" width="5" height="5" fill="#a8c8ff"/><rect x="25" y="5" width="5" height="5" fill="#c4d2ff"/><rect x="25" y="10" width="5" height="5" fill="#a8c8ff"/><rect x="25" y="15" width="5" height="5" fill="#bccfff"/><rect x="25" y="20" width="5" height="5" fill="#bccfff"/><rect x="25" y="45" width="5" height="5" fill="#c4d2ff"/><rect x="25" y="50" width="5" height="5" fill="#bccfff"/><rect x="25" y="55" width="5" height="5" fill="#c4d2ff"/><rect x="30" y="0" width="5" height="5" fill="#a8c8ff"/><rect x="30" y="5" width="5" height="5" fill="#bccfff"/><rect x="30" y="10" width="5" height="5" fill="#a8c8ff"/><rect x="30" y="15" width="5" height="5" fill="#bccfff"/><rect x="30" y="20" width="5" height="5" fill="#c4d2ff"/><rect x="30" y="35" width="5" height="5" fill="#c4d2ff"/><rect x="30" y="40" width="5" height="5" fill="#a8c8ff"/><rect x="30" y="50" width="5" height="5" fill="#bccfff"/><rect x="35" y="0" width="5" height="5" fill="#a8c8ff"/><rect x="35" y="5" width="5" height="5" fill="#a8c8ff"/><rect x="35" y="20" width="5" height="5" fill="#c4d2ff"/><rect x="35" y="25" width="5" height="5" fill="#c4d2ff"/><rect x="35" y="30" width="5" height="5" fill="#bccfff"/><rect x="35" y="35" width="5" height="5" fill="#bccfff"/><rect x="35" y="40" width="5" height="5" fill="#bccfff"/><rect x="35" y="45" width="5" height="5" fill="#c4d2ff"/><rect x="35" y="50" width="5" height="5" fill="#a8c8ff"/><rect x="35" y="55" width="5" height="5" fill="#c4d2ff"/><rect x="40" y="0" width="5" height="5" fill="#a8c8ff"/><rect x="40" y="15" width="5" height="5" fill="#bccfff"/><rect x="40" y="20" width="5" height="5" fill="#a8c8ff"/><rect x="40" y="35" width="5" height="5" fill="#bccfff"/><rect x="40" y="40" width="5" height="5" fill="#c4d2ff"/><rect x="40" y="45" width="5" height="5" fill="#a8c8ff"/><rect x="40" y="50" width="5" height="5" fill="#bccfff"/><rect x="40" y="55" width="5" height="5" fill="#a8c8ff"/><rect x="45" y="0" width="5" height="5" fill="#bccfff"/><rect x="45" y="10" width="5" height="5" fill="#a8c8ff"/><rect x="45" y="15" width="5" height="5" fill="#bccfff"/><rect x="45" y="25" width="5" height="5" fill="#c4d2ff"/><rect x="45" y="35" width="5" height="5" fill="#a8c8ff"/><rect x="45" y="50" width="5" height="5" fill="#bccfff"/><rect x="50" y="5" width="5" height="5" fill="#a8c8ff"/><rect x="50" y="10" width="5" height="5" fill="#a8c8ff"/><rect x="50" y="15" width="5" height="5" fill="#a8c8ff"/><rect x="50" y="30" width="5" height="5" fill="#a8c8ff"/><rect x="50" y="35" width="5" height="5" fill="#a8c8ff"/><rect x="50" y="40" width="5" height="5" fill="#c4d2ff"/><rect x="50" y="45" width="5" height="5" fill="#bccfff"/><rect x="50" y="55" width="5" height="5" fill="#a8c8ff"/><rect x="55" y="0" width="5" height="5" fill="#c4d2ff"/><rect x="55" y="5" width="5" height="5" fill="#bccfff"/><rect x="55" y="10" width="5" height="5" fill="#a8c8ff"/><rect x="55" y="15" width="5" height="5" fill="#bccfff"/><rect x="55" y="20" width="5" height="5" fill="#a8c8ff"/></pattern><pattern id="pe_lb" width="60" height="60" patternUnits="userSpaceOnUse" patternTransform="rotate(-32)"><rect width="60" height="60" fill="#a4c8ff"/><rect x="0" y="5" width="5" height="5" fill="#b8ceff"/><rect x="0" y="10" width="5" height="5" fill="#7cb6ff"/><rect x="0" y="20" width="5" height="5" fill="#90c0ff"/><rect x="0" y="25" width="5" height="5" fill="#90c0ff"/><rect x="0" y="40" width="5" height="5" fill="#b8ceff"/><rect x="0" y="45" width="5" height="5" fill="#7cb6ff"/><rect x="0" y="50" width="5" height="5" fill="#90c0ff"/><rect x="0" y="55" width="5" height="5" fill="#7cb6ff"/><rect x="5" y="0" width="5" height="5" fill="#7cb6ff"/><rect x="5" y="5" width="5" height="5" fill="#90c0ff"/><rect x="5" y="15" width="5" height="5" fill="#7cb6ff"/><rect x="5" y="20" width="5" height="5" fill="#7cb6ff"/><rect x="5" y="30" width="5" height="5" fill="#b8ceff"/><rect x="5" y="35" width="5" height="5" fill="#7cb6ff"/><rect x="5" y="40" width="5" height="5" fill="#b8ceff"/><rect x="5" y="45" width="5" height="5" fill="#b8ceff"/><rect x="5" y="50" width="5" height="5" fill="#b8ceff"/><rect x="5" y="55" width="5" height="5" fill="#b8ceff"/><rect x="10" y="5" width="5" height="5" fill="#b8ceff"/><rect x="10" y="10" width="5" height="5" fill="#b8ceff"/><rect x="10" y="35" width="5" height="5" fill="#b8ceff"/><rect x="10" y="50" width="5" height="5" fill="#90c0ff"/><rect x="10" y="55" width="5" height="5" fill="#7cb6ff"/><rect x="15" y="15" width="5" height="5" fill="#7cb6ff"/><rect x="15" y="25" width="5" height="5" fill="#7cb6ff"/><rect x="15" y="35" width="5" height="5" fill="#90c0ff"/><rect x="15" y="40" width="5" height="5" fill="#7cb6ff"/><rect x="20" y="0" width="5" height="5" fill="#7cb6ff"/><rect x="20" y="5" width="5" height="5" fill="#b8ceff"/><rect x="20" y="15" width="5" height="5" fill="#90c0ff"/><rect x="20" y="20" width="5" height="5" fill="#90c0ff"/><rect x="20" y="25" width="5" height="5" fill="#7cb6ff"/><rect x="20" y="30" width="5" height="5" fill="#90c0ff"/><rect x="20" y="35" width="5" height="5" fill="#b8ceff"/><rect x="20" y="50" width="5" height="5" fill="#b8ceff"/><rect x="20" y="55" width="5" height="5" fill="#b8ceff"/><rect x="25" y="0" width="5" height="5" fill="#b8ceff"/><rect x="25" y="5" width="5" height="5" fill="#b8ceff"/><rect x="25" y="10" width="5" height="5" fill="#90c0ff"/><rect x="25" y="30" width="5" height="5" fill="#90c0ff"/><rect x="25" y="35" width="5" height="5" fill="#90c0ff"/><rect x="25" y="40" width="5" height="5" fill="#b8ceff"/><rect x="25" y="50" width="5" height="5" fill="#7cb6ff"/><rect x="30" y="5" width="5" height="5" fill="#7cb6ff"/><rect x="30" y="10" width="5" height="5" fill="#90c0ff"/><rect x="30" y="20" width="5" height="5" fill="#7cb6ff"/><rect x="30" y="30" width="5" height="5" fill="#7cb6ff"/><rect x="30" y="35" width="5" height="5" fill="#90c0ff"/><rect x="30" y="45" width="5" height="5" fill="#90c0ff"/><rect x="30" y="50" width="5" height="5" fill="#7cb6ff"/><rect x="30" y="55" width="5" height="5" fill="#90c0ff"/><rect x="35" y="5" width="5" height="5" fill="#90c0ff"/><rect x="35" y="15" width="5" height="5" fill="#7cb6ff"/><rect x="35" y="20" width="5" height="5" fill="#7cb6ff"/><rect x="35" y="25" width="5" height="5" fill="#7cb6ff"/><rect x="35" y="30" width="5" height="5" fill="#90c0ff"/><rect x="35" y="40" width="5" height="5" fill="#7cb6ff"/><rect x="35" y="55" width="5" height="5" fill="#b8ceff"/><rect x="40" y="10" width="5" height="5" fill="#7cb6ff"/><rect x="40" y="15" width="5" height="5" fill="#b8ceff"/><rect x="40" y="20" width="5" height="5" fill="#90c0ff"/><rect x="40" y="35" width="5" height="5" fill="#90c0ff"/><rect x="40" y="40" width="5" height="5" fill="#b8ceff"/><rect x="40" y="45" width="5" height="5" fill="#90c0ff"/><rect x="40" y="55" width="5" height="5" fill="#7cb6ff"/><rect x="45" y="0" width="5" height="5" fill="#90c0ff"/><rect x="45" y="5" width="5" height="5" fill="#b8ceff"/><rect x="45" y="10" width="5" height="5" fill="#90c0ff"/><rect x="45" y="15" width="5" height="5" fill="#90c0ff"/><rect x="45" y="40" width="5" height="5" fill="#b8ceff"/><rect x="45" y="50" width="5" height="5" fill="#90c0ff"/><rect x="50" y="0" width="5" height="5" fill="#b8ceff"/><rect x="50" y="5" width="5" height="5" fill="#7cb6ff"/><rect x="50" y="10" width="5" height="5" fill="#7cb6ff"/><rect x="50" y="20" width="5" height="5" fill="#b8ceff"/><rect x="50" y="25" width="5" height="5" fill="#90c0ff"/><rect x="50" y="40" width="5" height="5" fill="#b8ceff"/><rect x="50" y="50" width="5" height="5" fill="#b8ceff"/><rect x="55" y="0" width="5" height="5" fill="#b8ceff"/><rect x="55" y="5" width="5" height="5" fill="#90c0ff"/><rect x="55" y="15" width="5" height="5" fill="#b8ceff"/><rect x="55" y="20" width="5" height="5" fill="#b8ceff"/><rect x="55" y="25" width="5" height="5" fill="#b8ceff"/></pattern><pattern id="pe_g30" width="60" height="60" patternUnits="userSpaceOnUse" patternTransform="rotate(-32)"><rect x="0" y="35" width="5.2" height="5.2" fill="#6ec46e"/><rect x="0" y="45" width="5.2" height="5.2" fill="#6ec46e"/><rect x="5" y="0" width="5.2" height="5.2" fill="#6ec46e"/><rect x="5" y="10" width="5.2" height="5.2" fill="#6ec46e"/><rect x="5" y="20" width="5.2" height="5.2" fill="#6ec46e"/><rect x="5" y="30" width="5.2" height="5.2" fill="#6ec46e"/><rect x="5" y="35" width="5.2" height="5.2" fill="#6ec46e"/><rect x="10" y="5" width="5.2" height="5.2" fill="#6ec46e"/><rect x="10" y="45" width="5.2" height="5.2" fill="#6ec46e"/><rect x="10" y="50" width="5.2" height="5.2" fill="#6ec46e"/><rect x="15" y="20" width="5.2" height="5.2" fill="#6ec46e"/><rect x="15" y="25" width="5.2" height="5.2" fill="#6ec46e"/><rect x="15" y="35" width="5.2" height="5.2" fill="#6ec46e"/><rect x="15" y="40" width="5.2" height="5.2" fill="#6ec46e"/><rect x="20" y="10" width="5.2" height="5.2" fill="#6ec46e"/><rect x="20" y="15" width="5.2" height="5.2" fill="#6ec46e"/><rect x="20" y="20" width="5.2" height="5.2" fill="#6ec46e"/><rect x="20" y="25" width="5.2" height="5.2" fill="#6ec46e"/><rect x="20" y="35" width="5.2" height="5.2" fill="#6ec46e"/><rect x="20" y="45" width="5.2" height="5.2" fill="#6ec46e"/><rect x="25" y="5" width="5.2" height="5.2" fill="#6ec46e"/><rect x="25" y="10" width="5.2" height="5.2" fill="#6ec46e"/><rect x="25" y="30" width="5.2" height="5.2" fill="#6ec46e"/><rect x="30" y="0" width="5.2" height="5.2" fill="#6ec46e"/><rect x="30" y="35" width="5.2" height="5.2" fill="#6ec46e"/><rect x="30" y="45" width="5.2" height="5.2" fill="#6ec46e"/><rect x="35" y="10" width="5.2" height="5.2" fill="#6ec46e"/><rect x="35" y="15" width="5.2" height="5.2" fill="#6ec46e"/><rect x="35" y="30" width="5.2" height="5.2" fill="#6ec46e"/><rect x="35" y="40" width="5.2" height="5.2" fill="#6ec46e"/><rect x="35" y="50" width="5.2" height="5.2" fill="#6ec46e"/><rect x="40" y="20" width="5.2" height="5.2" fill="#6ec46e"/><rect x="40" y="55" width="5.2" height="5.2" fill="#6ec46e"/><rect x="45" y="5" width="5.2" height="5.2" fill="#6ec46e"/><rect x="45" y="15" width="5.2" height="5.2" fill="#6ec46e"/><rect x="45" y="25" width="5.2" height="5.2" fill="#6ec46e"/><rect x="45" y="30" width="5.2" height="5.2" fill="#6ec46e"/><rect x="45" y="40" width="5.2" height="5.2" fill="#6ec46e"/><rect x="50" y="35" width="5.2" height="5.2" fill="#6ec46e"/><rect x="50" y="45" width="5.2" height="5.2" fill="#6ec46e"/><rect x="50" y="55" width="5.2" height="5.2" fill="#6ec46e"/><rect x="55" y="0" width="5.2" height="5.2" fill="#6ec46e"/><rect x="55" y="5" width="5.2" height="5.2" fill="#6ec46e"/><rect x="55" y="10" width="5.2" height="5.2" fill="#6ec46e"/><rect x="55" y="20" width="5.2" height="5.2" fill="#6ec46e"/><rect x="55" y="25" width="5.2" height="5.2" fill="#6ec46e"/><rect x="55" y="30" width="5.2" height="5.2" fill="#6ec46e"/><rect x="55" y="35" width="5.2" height="5.2" fill="#6ec46e"/></pattern><pattern id="pe_g55" width="60" height="60" patternUnits="userSpaceOnUse" patternTransform="rotate(-32)"><rect x="0" y="0" width="5.2" height="5.2" fill="#6ec46e"/><rect x="0" y="20" width="5.2" height="5.2" fill="#6ec46e"/><rect x="0" y="25" width="5.2" height="5.2" fill="#6ec46e"/><rect x="0" y="40" width="5.2" height="5.2" fill="#6ec46e"/><rect x="0" y="45" width="5.2" height="5.2" fill="#6ec46e"/><rect x="0" y="50" width="5.2" height="5.2" fill="#6ec46e"/><rect x="5" y="0" width="5.2" height="5.2" fill="#6ec46e"/><rect x="5" y="15" width="5.2" height="5.2" fill="#6ec46e"/><rect x="5" y="20" width="5.2" height="5.2" fill="#6ec46e"/><rect x="5" y="25" width="5.2" height="5.2" fill="#6ec46e"/><rect x="5" y="35" width="5.2" height="5.2" fill="#6ec46e"/><rect x="5" y="40" width="5.2" height="5.2" fill="#6ec46e"/><rect x="5" y="45" width="5.2" height="5.2" fill="#6ec46e"/><rect x="10" y="5" width="5.2" height="5.2" fill="#6ec46e"/><rect x="10" y="20" width="5.2" height="5.2" fill="#6ec46e"/><rect x="10" y="25" width="5.2" height="5.2" fill="#6ec46e"/><rect x="10" y="30" width="5.2" height="5.2" fill="#6ec46e"/><rect x="10" y="35" width="5.2" height="5.2" fill="#6ec46e"/><rect x="10" y="50" width="5.2" height="5.2" fill="#6ec46e"/><rect x="15" y="10" width="5.2" height="5.2" fill="#6ec46e"/><rect x="15" y="25" width="5.2" height="5.2" fill="#6ec46e"/><rect x="15" y="30" width="5.2" height="5.2" fill="#6ec46e"/><rect x="15" y="40" width="5.2" height="5.2" fill="#6ec46e"/><rect x="15" y="45" width="5.2" height="5.2" fill="#6ec46e"/><rect x="20" y="5" width="5.2" height="5.2" fill="#6ec46e"/><rect x="20" y="10" width="5.2" height="5.2" fill="#6ec46e"/><rect x="20" y="15" width="5.2" height="5.2" fill="#6ec46e"/><rect x="20" y="20" width="5.2" height="5.2" fill="#6ec46e"/><rect x="20" y="25" width="5.2" height="5.2" fill="#6ec46e"/><rect x="20" y="30" width="5.2" height="5.2" fill="#6ec46e"/><rect x="20" y="40" width="5.2" height="5.2" fill="#6ec46e"/><rect x="20" y="45" width="5.2" height="5.2" fill="#6ec46e"/><rect x="20" y="55" width="5.2" height="5.2" fill="#6ec46e"/><rect x="25" y="0" width="5.2" height="5.2" fill="#6ec46e"/><rect x="25" y="5" width="5.2" height="5.2" fill="#6ec46e"/><rect x="25" y="10" width="5.2" height="5.2" fill="#6ec46e"/><rect x="25" y="15" width="5.2" height="5.2" fill="#6ec46e"/><rect x="25" y="25" width="5.2" height="5.2" fill="#6ec46e"/><rect x="25" y="35" width="5.2" height="5.2" fill="#6ec46e"/><rect x="25" y="45" width="5.2" height="5.2" fill="#6ec46e"/><rect x="25" y="55" width="5.2" height="5.2" fill="#6ec46e"/><rect x="30" y="0" width="5.2" height="5.2" fill="#6ec46e"/><rect x="30" y="10" width="5.2" height="5.2" fill="#6ec46e"/><rect x="30" y="25" width="5.2" height="5.2" fill="#6ec46e"/><rect x="30" y="55" width="5.2" height="5.2" fill="#6ec46e"/><rect x="35" y="0" width="5.2" height="5.2" fill="#6ec46e"/><rect x="35" y="10" width="5.2" height="5.2" fill="#6ec46e"/><rect x="35" y="25" width="5.2" height="5.2" fill="#6ec46e"/><rect x="35" y="30" width="5.2" height="5.2" fill="#6ec46e"/><rect x="35" y="40" width="5.2" height="5.2" fill="#6ec46e"/><rect x="40" y="5" width="5.2" height="5.2" fill="#6ec46e"/><rect x="40" y="35" width="5.2" height="5.2" fill="#6ec46e"/><rect x="40" y="40" width="5.2" height="5.2" fill="#6ec46e"/><rect x="40" y="55" width="5.2" height="5.2" fill="#6ec46e"/><rect x="45" y="0" width="5.2" height="5.2" fill="#6ec46e"/><rect x="45" y="5" width="5.2" height="5.2" fill="#6ec46e"/><rect x="45" y="10" width="5.2" height="5.2" fill="#6ec46e"/><rect x="45" y="15" width="5.2" height="5.2" fill="#6ec46e"/><rect x="45" y="20" width="5.2" height="5.2" fill="#6ec46e"/><rect x="45" y="25" width="5.2" height="5.2" fill="#6ec46e"/><rect x="45" y="30" width="5.2" height="5.2" fill="#6ec46e"/><rect x="45" y="35" width="5.2" height="5.2" fill="#6ec46e"/><rect x="45" y="50" width="5.2" height="5.2" fill="#6ec46e"/><rect x="45" y="55" width="5.2" height="5.2" fill="#6ec46e"/><rect x="50" y="5" width="5.2" height="5.2" fill="#6ec46e"/><rect x="50" y="20" width="5.2" height="5.2" fill="#6ec46e"/><rect x="50" y="30" width="5.2" height="5.2" fill="#6ec46e"/><rect x="50" y="40" width="5.2" height="5.2" fill="#6ec46e"/><rect x="50" y="50" width="5.2" height="5.2" fill="#6ec46e"/><rect x="55" y="0" width="5.2" height="5.2" fill="#6ec46e"/><rect x="55" y="5" width="5.2" height="5.2" fill="#6ec46e"/><rect x="55" y="15" width="5.2" height="5.2" fill="#6ec46e"/><rect x="55" y="25" width="5.2" height="5.2" fill="#6ec46e"/><rect x="55" y="45" width="5.2" height="5.2" fill="#6ec46e"/><rect x="55" y="50" width="5.2" height="5.2" fill="#6ec46e"/><rect x="55" y="55" width="5.2" height="5.2" fill="#6ec46e"/></pattern><pattern id="pe_g12" width="60" height="60" patternUnits="userSpaceOnUse" patternTransform="rotate(-32)"><rect x="0" y="5" width="5.2" height="5.2" fill="#6ec46e"/><rect x="0" y="55" width="5.2" height="5.2" fill="#6ec46e"/><rect x="5" y="10" width="5.2" height="5.2" fill="#6ec46e"/><rect x="5" y="45" width="5.2" height="5.2" fill="#6ec46e"/><rect x="5" y="50" width="5.2" height="5.2" fill="#6ec46e"/><rect x="10" y="25" width="5.2" height="5.2" fill="#6ec46e"/><rect x="20" y="0" width="5.2" height="5.2" fill="#6ec46e"/><rect x="20" y="15" width="5.2" height="5.2" fill="#6ec46e"/><rect x="20" y="30" width="5.2" height="5.2" fill="#6ec46e"/><rect x="20" y="55" width="5.2" height="5.2" fill="#6ec46e"/><rect x="25" y="45" width="5.2" height="5.2" fill="#6ec46e"/><rect x="30" y="15" width="5.2" height="5.2" fill="#6ec46e"/><rect x="35" y="50" width="5.2" height="5.2" fill="#6ec46e"/><rect x="40" y="0" width="5.2" height="5.2" fill="#6ec46e"/><rect x="45" y="20" width="5.2" height="5.2" fill="#6ec46e"/><rect x="50" y="30" width="5.2" height="5.2" fill="#6ec46e"/><rect x="55" y="40" width="5.2" height="5.2" fill="#6ec46e"/></pattern><pattern id="pe_h" width="60" height="60" patternUnits="userSpaceOnUse" patternTransform="rotate(-32)"><rect x="5" y="5" width="5.2" height="5.2" fill="#ccd4ff"/><rect x="10" y="25" width="5.2" height="5.2" fill="#ccd4ff"/><rect x="20" y="30" width="5.2" height="5.2" fill="#ccd4ff"/></pattern><filter id="eb6" x="-30%" y="-30%" width="160%" height="160%"><feGaussianBlur stdDeviation="10"/></filter><linearGradient id="eg_br" x1="0" y1="0" x2="1" y2="0"><stop offset="0" stop-color="#6cc26c"/><stop offset="0.75" stop-color="#70c870"/><stop offset="1" stop-color="#84e084"/></linearGradient></defs><g clip-path="url(#tmiclip)"><polygon points="13,40.4 427,40.4 486.4,78.3 486.4,476.6 393.5,414.6 314.3,362.1 235.6,309.6 200,286.7 140,249.8 78.4,213.6 13,175.5" fill="url(#pe_lav)"/><g filter="url(#eb6)" opacity="0.9"><ellipse cx="310" cy="215" rx="190" ry="62" fill="#98c2ff" transform="rotate(-30 310 215)"/><ellipse cx="250" cy="285" rx="85" ry="45" fill="#84b8ff" transform="rotate(-28 250 285)"/><ellipse cx="380" cy="190" rx="70" ry="45" fill="#84b8ff" transform="rotate(-28 380 190)"/></g><polygon points="395.9,39.7 428.1,39.7 487.4,77.8 487.4,153.2 463.7,136.2 446.8,122.7 421.4,119.3 404.4,102.4 395.9,77" fill="url(#pe_lb)"/><polygon points="223.1,39.7 250.2,39.7 246.8,68.5 234.9,90.5 216.3,105.8 199.3,122.7 179,132.9 162.1,146.4 145.1,163.3 128.2,187.1 118,204 121.4,231.1 114.6,234.5 74,215 84.1,197.2 104.5,170.1 135,129.5 157,85.4 162.1,71 179,62.6 201,57.5 223.1,51.5" fill="url(#pe_g30)"/><polygon points="235,39.7 395.9,39.7 394.3,68.5 379,88.8 353.6,90.5 328.2,105.8 304.5,114.2 277.4,109.1 252,99 243.5,77" fill="url(#pe_g30)"/><polygon points="265.5,39.7 389.2,39.7 385.8,60 362.1,75.3 328.2,78.6 294.3,75.3 274,65.1" fill="url(#pe_g55)"/><polygon points="265.5,39.7 389.2,39.7 385.8,60 362.1,75.3 328.2,78.6 294.3,75.3 274,65.1" fill="url(#pe_g30)" transform="translate(3 2)"/><polygon points="487.4,115.9 487.4,204 446.8,197.2 421.4,187.1 412.9,170.1 429.8,153.2 455.2,136.2 473.9,122.7" fill="url(#pe_g30)"/><polygon points="297.7,283.2 314.6,273 338.3,269.6 362.1,262.8 389.2,254.4 395.9,269.6 379,279.8 362.1,283.2 351.9,291.6 350.2,312 350.2,334 345.1,349.2 338.3,364.5 328.2,369.5 260.4,322.1 280.8,312" fill="url(#pe_g55)"/><polygon points="9.6,39.7 236.6,39.7 223.1,51.5 201,57.5 179,62.6 162.1,71 157,85.4 151.9,102.4 145.1,115.9 135,129.5 124.8,143 111.2,156.6 104.5,170.1 94.3,183.7 84.1,197.2 77.4,210.8 74,215 9.6,175.2" fill="#6ec46e"/><polygon points="9.6,39.7 236.6,39.7 223.1,51.5 201,57.5 179,62.6 162.1,71 157,85.4 151.9,102.4 145.1,115.9 135,129.5 124.8,143 111.2,156.6 104.5,170.1 94.3,183.7 84.1,197.2 77.4,210.8 74,215 9.6,175.2" fill="url(#pe_h)"/><polygon points="487.4,183.7 472.2,187.1 446.8,197.2 429.8,204 421.4,214.2 414.6,229.4 409.5,246.4 401,258.2 389.2,268.4 392.6,275.2 392.6,269.6 379,279.8 362.1,283.2 351.9,291.6 350.2,312 350.2,334 345.1,349.2 338.3,364.5 328.2,369.5 487.4,477.1 487.4,269.6" fill="url(#eg_br)"/><polygon points="487.4,183.7 472.2,187.1 446.8,197.2 429.8,204 421.4,214.2 414.6,229.4 409.5,246.4 401,258.2 389.2,268.4 392.6,275.2 392.6,269.6 379,279.8 362.1,283.2 351.9,291.6 350.2,312 350.2,334 345.1,349.2 338.3,364.5 328.2,369.5 487.4,477.1 487.4,269.6" fill="url(#pe_h)"/><polygon points="209.6,268.4 219.8,254.8 236.7,246.4 252,237.9 260.4,224.3 270.6,215.9 285.8,219.3 297.7,232.8 299.4,248.1 294.3,261.6 297.7,271.8 307.9,285.3 304.5,298.9 290.9,305.6 280.8,312.4 268.9,319.2 257,320.9 243.5,315.8 209.6,293.8" fill="#6cb0ff"/><polygon points="314.6,204 328.2,192.1 345.1,187.1 358.7,182 370.5,170.1 380.7,156.6 392.6,153.2 395.9,163.3 392.6,176.9 404.4,183.7 416.3,178.6 423.1,183.7 419.7,195.5 409.5,205.7 395.9,212.5 382.4,207.4 370.5,212.5 358.7,224.3 345.1,234.5 331.6,234.5 324.8,227.7 331.6,217.6 328.2,210.8" fill="#4a84ff"/><polygon points="309.5,248.1 318,239.6 328.2,243 336.7,254.8 335,265 324.8,266.7 314.6,258.2" fill="#4a84ff"/><polygon points="358.7,237.9 370.5,227.7 387.5,224.3 404.4,231.1 412.9,244.7 407.8,258.2 395.9,266.7 382.4,270.1 368.8,263.3 358.7,253.1" fill="#4a84ff"/><polygon points="214.7,271.8 226.5,256.5 241.8,251.4 255.3,243 262.1,231.1 270.6,220.9 282.4,222.6 292.6,234.5 294.3,248.1 289.2,259.9 289.2,270.1 297.7,280.2 302.8,290.4 294.3,300.6 280.8,298.9 274,293.8 267.2,300.6 262.1,312.4 252,317.5 243.5,305.6 231.6,300.6 221.5,290.4 216.4,281.9" fill="#4a84ff"/><polygon points="326.5,197.2 335,192.1 345.1,195.5 355.3,202.3 362.1,210.8 355.3,215.9 345.1,212.5 335,205.7" fill="#0c22dc"/><polygon points="341.7,220.9 350.2,210.8 358.7,197.2 367.1,185.4 375.6,175.2 384.1,170.1 387.5,176.9 379,187.1 370.5,197.2 362.1,210.8 353.6,220.9 345.1,227.7" fill="#0c22dc"/><polygon points="392.6,200.6 401,193.8 409.5,187.1 418,183.7 416.3,192.1 407.8,200.6 397.6,207.4" fill="#0c22dc"/><polygon points="314.6,246.4 321.4,243 328.2,248.1 333.3,256.5 328.2,261.6 319.7,256.5" fill="#0c22dc"/><polygon points="367.1,234.5 379,229.4 392.6,231.1 404.4,237.9 406.1,248.1 399.3,258.2 387.5,263.3 375.6,259.9 365.5,251.4 362.1,243" fill="#0c22dc"/><polygon points="219.8,268.4 229.9,259.9 243.5,254.8 257,246.4 263.8,234.5 270.6,224.3 280.8,226 289.2,234.5 290.9,246.4 285.8,258.2 284.1,268.4 290.9,278.5 297.7,288.7 290.9,295.5 280.8,292.1 274,285.3 267.2,292.1 260.4,302.3 253.6,312.4 246.9,309 243.5,298.9 235,295.5 226.5,288.7 221.5,278.5" fill="#0c22dc"/><polygon points="379,246.4 387.5,239.6 394.3,243 402.7,245.5 397.6,253.1 389.2,249.7 384.1,254.8 379,251.4" fill="#ffec00"/><polygon points="243.5,275.2 253.6,265 263.8,254.8 268.9,243 268,236.2 273.1,235.3 276.5,243 277.4,251.4 282.4,254.8 277.4,263.3 274,271.8 268.9,278.5 265.5,285.3 262.1,293.8 258.7,300.6 253.6,300.6 250.3,292.1 246.9,283.6" fill="#fff000"/><polygon points="269.7,229.4 274.8,229.4 274.8,232.8 269.7,232.8" fill="#fff000"/><polygon points="228.2,279.4 231.6,280.2 236.7,284.5 233.3,285" fill="#fff000"/><polygon points="255.3,266.7 265.5,261.6 268.9,265 260.4,270.1" fill="#ff8c00"/><polygon points="252,283.6 260.4,280.2 263.8,287 260.4,295.5 255.3,297.2" fill="#ff8000"/><polygon points="254.5,287 260.4,285.3 261.3,292.1 257,294.6" fill="#ff3000"/><polygon points="475.6,262.5 480.6,262.5 487.4,268.4 487.4,273.5 480.6,270.9 477.3,266.7" fill="#a0a0a0"/></g><line x1="78.4" y1="40.7" x2="78.4" y2="548.9" stroke="#000" stroke-width="1.2" stroke-dasharray="2.8 5.4" fill="none"/><line x1="157.1" y1="40.7" x2="157.1" y2="548.9" stroke="#000" stroke-width="1.2" stroke-dasharray="2.8 5.4" fill="none"/><line x1="235.9" y1="40.7" x2="235.9" y2="548.9" stroke="#000" stroke-width="1.2" stroke-dasharray="2.8 5.4" fill="none"/><line x1="314.6" y1="40.7" x2="314.6" y2="548.9" stroke="#000" stroke-width="1.2" stroke-dasharray="2.8 5.4" fill="none"/><line x1="393.3" y1="40.7" x2="393.3" y2="548.9" stroke="#000" stroke-width="1.2" stroke-dasharray="2.8 5.4" fill="none"/><line x1="472.1" y1="40.7" x2="472.1" y2="548.9" stroke="#000" stroke-width="1.2" stroke-dasharray="2.8 5.4" fill="none"/><line x1="13.2" y1="113" x2="486.3" y2="113" stroke="#000" stroke-width="1.2" stroke-dasharray="2.8 5.4" fill="none"/><line x1="13.2" y1="197.7" x2="486.3" y2="197.7" stroke="#000" stroke-width="1.2" stroke-dasharray="2.8 5.4" fill="none"/><line x1="13.2" y1="282.3" x2="486.3" y2="282.3" stroke="#000" stroke-width="1.2" stroke-dasharray="2.8 5.4" fill="none"/><line x1="13.2" y1="367" x2="486.3" y2="367" stroke="#000" stroke-width="1.2" stroke-dasharray="2.8 5.4" fill="none"/><line x1="13.2" y1="451.7" x2="486.3" y2="451.7" stroke="#000" stroke-width="1.2" stroke-dasharray="2.8 5.4" fill="none"/><line x1="13.2" y1="536.4" x2="486.3" y2="536.4" stroke="#000" stroke-width="1.2" stroke-dasharray="2.8 5.4" fill="none"/><text x="78.4" y="303.2" font-size="11.8" text-anchor="middle" font-family="Liberation Sans, sans-serif">146</text><text x="157.1" y="303.2" font-size="11.8" text-anchor="middle" font-family="Liberation Sans, sans-serif">148</text><text x="235.9" y="303.2" font-size="11.8" text-anchor="middle" font-family="Liberation Sans, sans-serif">150</text><text x="314.6" y="303.2" font-size="11.8" text-anchor="middle" font-family="Liberation Sans, sans-serif">152</text><text x="393.3" y="303.2" font-size="11.8" text-anchor="middle" font-family="Liberation Sans, sans-serif">154</text><text x="472.1" y="303.2" font-size="11.8" text-anchor="middle" font-family="Liberation Sans, sans-serif">156</text><text x="255.8" y="112.4" font-size="11.8" text-anchor="middle" font-family="Liberation Sans, sans-serif">20</text><text x="255.8" y="197.1" font-size="11.8" text-anchor="middle" font-family="Liberation Sans, sans-serif">18</text><text x="255.8" y="281.7" font-size="11.8" text-anchor="middle" font-family="Liberation Sans, sans-serif">16</text><text x="255.8" y="366.4" font-size="11.8" text-anchor="middle" font-family="Liberation Sans, sans-serif">14</text><text x="255.8" y="451.1" font-size="11.8" text-anchor="middle" font-family="Liberation Sans, sans-serif">12</text><text x="255.8" y="535.8" font-size="11.8" text-anchor="middle" font-family="Liberation Sans, sans-serif">10</text><polyline points="13,40.7 84,81.2 154.7,123.2 225,165.5 295,208.7 390,270.5 481.4,333.5" stroke="#000" stroke-width="1.05" stroke-dasharray="12.1 11.6" fill="none"/><polyline points="197.6,40.7 256,76 314.8,111.9 393.8,162.1 440,193 485.6,224.2" stroke="#000" stroke-width="1.05" stroke-dasharray="12.1 11.6" fill="none"/><path d="M243.6 294.4H256.4M250 288V300.8" stroke="#000" stroke-width="4.2" fill="none"/><text x="44" y="65.6" font-size="25" font-family="Liberation Sans, sans-serif">37GHz PCT (K)</text><text x="439.6" y="523.6" font-size="28" font-family="Liberation Sans, sans-serif">(e)</text><rect x="495" y="540" width="9" height="8.8" fill="#ffffff"/><rect x="495" y="531.6" width="9" height="8.8" fill="#f7f7f7"/><rect x="495" y="523.1" width="9" height="8.8" fill="#f0f0f0"/><rect x="495" y="514.6" width="9" height="8.8" fill="#e8e8e8"/><rect x="495" y="506.2" width="9" height="8.8" fill="#e1e1e1"/><rect x="495" y="497.7" width="9" height="8.8" fill="#d9d9d9"/><rect x="495" y="489.2" width="9" height="8.8" fill="#d2d2d2"/><rect x="495" y="480.8" width="9" height="8.8" fill="#cacaca"/><rect x="495" y="472.3" width="9" height="8.8" fill="#c3c3c3"/><rect x="495" y="463.9" width="9" height="8.8" fill="#bbbbbb"/><rect x="495" y="455.4" width="9" height="8.8" fill="#b4b4b4"/><rect x="495" y="446.9" width="9" height="8.8" fill="#acacac"/><rect x="495" y="438.5" width="9" height="8.8" fill="#a5a5a5"/><rect x="495" y="430" width="9" height="8.8" fill="#9d9d9d"/><rect x="495" y="421.5" width="9" height="8.8" fill="#969696"/><rect x="495" y="413.1" width="9" height="8.8" fill="#86e286"/><rect x="495" y="404.6" width="9" height="8.8" fill="#7ed87e"/><rect x="495" y="396.1" width="9" height="8.8" fill="#76ce76"/><rect x="495" y="387.7" width="9" height="8.8" fill="#6ec46e"/><rect x="495" y="379.2" width="9" height="8.8" fill="#66ba66"/><rect x="495" y="370.7" width="9" height="8.8" fill="#ccd4ff"/><rect x="495" y="362.3" width="9" height="8.8" fill="#b8ccff"/><rect x="495" y="353.8" width="9" height="8.8" fill="#a2c4ff"/><rect x="495" y="345.3" width="9" height="8.8" fill="#84baff"/><rect x="495" y="336.9" width="9" height="8.8" fill="#66b2ff"/><rect x="495" y="328.4" width="9" height="8.8" fill="#50a8ff"/><rect x="495" y="319.9" width="9" height="8.8" fill="#4488ff"/><rect x="495" y="311.5" width="9" height="8.8" fill="#4068ff"/><rect x="495" y="303" width="9" height="8.8" fill="#3a4aff"/><rect x="495" y="294.6" width="9" height="8.8" fill="#3030ff"/><rect x="495" y="286.1" width="9" height="8.8" fill="#0000ff"/><rect x="495" y="277.6" width="9" height="8.8" fill="#0000f0"/><rect x="495" y="269.2" width="9" height="8.8" fill="#0000e0"/><rect x="495" y="260.7" width="9" height="8.8" fill="#0000d0"/><rect x="495" y="252.2" width="9" height="8.8" fill="#0000c0"/><rect x="495" y="243.8" width="9" height="8.8" fill="#ffff00"/><rect x="495" y="235.3" width="9" height="8.8" fill="#fff000"/><rect x="495" y="226.8" width="9" height="8.8" fill="#ffe400"/><rect x="495" y="218.4" width="9" height="8.8" fill="#ffd800"/><rect x="495" y="209.9" width="9" height="8.8" fill="#ffcc00"/><rect x="495" y="201.4" width="9" height="8.8" fill="#ff9000"/><rect x="495" y="193" width="9" height="8.8" fill="#ff8a00"/><rect x="495" y="184.5" width="9" height="8.8" fill="#ff8400"/><rect x="495" y="176" width="9" height="8.8" fill="#ff7e00"/><rect x="495" y="167.6" width="9" height="8.8" fill="#ff7800"/><rect x="495" y="159.1" width="9" height="8.8" fill="#ff4600"/><rect x="495" y="150.6" width="9" height="8.8" fill="#ff3a00"/><rect x="495" y="142.2" width="9" height="8.8" fill="#ff3000"/><rect x="495" y="133.7" width="9" height="8.8" fill="#ff2600"/><rect x="495" y="125.2" width="9" height="8.8" fill="#ff1a08"/><rect x="495" y="116.8" width="9" height="8.8" fill="#cc0000"/><rect x="495" y="108.3" width="9" height="8.8" fill="#c00000"/><rect x="495" y="99.9" width="9" height="8.8" fill="#b40400"/><rect x="495" y="91.4" width="9" height="8.8" fill="#a80800"/><rect x="495" y="82.9" width="9" height="8.8" fill="#9c0c04"/><rect x="495" y="74.5" width="9" height="8.8" fill="#661004"/><rect x="495" y="66" width="9" height="8.8" fill="#621208"/><rect x="495" y="57.5" width="9" height="8.8" fill="#5e1410"/><rect x="495" y="49.1" width="9" height="8.8" fill="#5c1814"/><rect x="495" y="40.6" width="9" height="8.8" fill="#5a1c1c"/><line x1="503.5" y1="91.4" x2="506.3" y2="91.4" stroke="#000" stroke-width="0.9"/><text x="524" y="99.3" font-size="19.1" text-anchor="middle" font-family="Liberation Sans, sans-serif">234</text><line x1="503.5" y1="142.2" x2="506.3" y2="142.2" stroke="#000" stroke-width="0.9"/><text x="524" y="150.1" font-size="19.1" text-anchor="middle" font-family="Liberation Sans, sans-serif">243</text><line x1="503.5" y1="193" x2="506.3" y2="193" stroke="#000" stroke-width="0.9"/><text x="524" y="200.9" font-size="19.1" text-anchor="middle" font-family="Liberation Sans, sans-serif">252</text><line x1="503.5" y1="243.8" x2="506.3" y2="243.8" stroke="#000" stroke-width="0.9"/><text x="524" y="251.7" font-size="19.1" text-anchor="middle" font-family="Liberation Sans, sans-serif">261</text><line x1="503.5" y1="294.6" x2="506.3" y2="294.6" stroke="#000" stroke-width="0.9"/><text x="524" y="302.4" font-size="19.1" text-anchor="middle" font-family="Liberation Sans, sans-serif">270</text><line x1="503.5" y1="345.3" x2="506.3" y2="345.3" stroke="#000" stroke-width="0.9"/><text x="524" y="353.2" font-size="19.1" text-anchor="middle" font-family="Liberation Sans, sans-serif">279</text><line x1="503.5" y1="396.1" x2="506.3" y2="396.1" stroke="#000" stroke-width="0.9"/><text x="524" y="404" font-size="19.1" text-anchor="middle" font-family="Liberation Sans, sans-serif">288</text><line x1="503.5" y1="446.9" x2="506.3" y2="446.9" stroke="#000" stroke-width="0.9"/><text x="524" y="454.8" font-size="19.1" text-anchor="middle" font-family="Liberation Sans, sans-serif">297</text><line x1="503.5" y1="497.7" x2="506.3" y2="497.7" stroke="#000" stroke-width="0.9"/><text x="524" y="505.6" font-size="19.1" text-anchor="middle" font-family="Liberation Sans, sans-serif">306</text><line x1="503.5" y1="548.5" x2="506.3" y2="548.5" stroke="#000" stroke-width="0.9"/><text x="524" y="556.4" font-size="19.1" text-anchor="middle" font-family="Liberation Sans, sans-serif">315</text></g>
<g transform="translate(1181.3 590.6)"><g clip-path="url(#tmiclip)"><path d="M316.1,93 321.2,88.8 324.6,83.7 333,80.3 341.5,78.6 351.7,77 360.1,71.9 370.3,68.5 378.8,66.8 387.2,67.6 395.7,66.8 405.9,61.7 414.3,60 417.7,56.6 414.3,53.2 407.6,52.4 397.4,54.1 385.5,53.2 375.4,54.9 365.2,54.1 361.8,51.5 368.6,49 382.2,47.3 395.7,45.6 409.3,43.9 421.1,42.2 427.9,41 486.7,79.2 486.7,105.8 483.8,109.1 482.1,115.9 485.5,121 483.8,126.1 477,129.5 468.6,131.2 460.1,134.5 453.3,136.2 448.2,139.6 443.1,137.9 439.8,132.9 441.4,127.8 448.2,124.4 451.6,119.3 448.2,114.2 441.4,110.8 436.4,107.4 431.3,104.1 427.9,109.1 426.2,115.9 422.8,121 419.4,126.9 414.3,129.5 409.3,126.1 404.2,125.2 400.8,129.5 395.7,135.4 388.9,136.2 383.9,134.5 383,130.3 387.2,126.9 383.9,122.7 377.1,119.3 368.6,118.5 360.1,119.3 351.7,117.6 344.9,115.9 339.8,117.6 334.7,119.3 331.3,124.4 326.3,129.5 322.9,132.9 327.9,139.6 334.7,136.2 339.8,143 344.9,148.1 348.3,154.9 351.7,161.7 356.7,165 360.1,160.8 365.2,161.7 368.6,156.6 373.7,153.2 378.8,153.2 383.9,149.8 388.9,147.3 395.7,146.4 404.2,145.6 412.7,144.7 421.1,146.4 417.7,149.8 411,153.2 407.6,156.6 412.7,160 419.4,163.3 426.2,165 427.9,168.4 424.5,171.8 422.8,178.6 424.5,185.4 421.1,190.5 419.4,197.2 414.3,202.3 412.7,207.4 416,212.5 417.7,217.6 414.3,222.6 411,227.7 407.6,234.5 405.9,239.6 409.3,244.7 412.7,249.7 416,254.8 417.7,258.2 412.7,261.6 409.3,265.8 402.5,266.7 395.7,268.4 390.6,271.8 392.3,276.8 387.2,280.2 380.5,281.9 375.4,278.5 368.6,276.8 361.8,278.5 356.7,281.9 351.7,280.3 348.3,285.4 343.2,288.8 339.8,292.2 343.2,299 348.3,301.5 353.4,302.4 351.7,305.8 344.9,305.8 338.1,304.1 333,305.8 327.9,307.4 322.9,305.8 326.3,299 324.6,293.9 329.6,288.8 336.4,287.1 341.5,283.7 343.2,278.6 339.8,273.6 334.7,271 327.9,271 322.9,275.3 316.1,277 307.6,278.6 300.8,283.7 304.2,288.8 307.6,293.9 311,300.7 312.7,307.4 314.4,314.2 316.1,321 314.4,326.1 309.3,326.9 305.9,331.2 307.6,337.9 309.3,344.7 311,352.3 305.9,352.3 302.5,346.4 299.1,339.6 297.5,332.9 295.8,326.9 290.7,322.7 287.3,327.8 283.1,331.2 283.9,337.9 277.1,334.5 272,329.5 267,326.1 261.9,321.8 255.1,321 248.3,317.6 239.9,312.5 233.1,307.4 228,302.4 222.9,299 221.2,290.5 216.1,283.7 214.4,275.3 217.8,271.9 224.6,268.5 233.1,265.9 235.5,265 242.3,263.3 247.4,259.9 250.8,256.5 255.9,253.1 259.3,248.1 261,241.3 262.7,234.5 264.3,227.7 266,220.9 271.1,219.3 276.2,217.6 272.8,214.2 269.4,210.8 267.7,205.7 262.7,209.1 255.9,215.9 250.8,217.6 252.5,210.8 257.6,207.4 254.2,204 249.1,205.7 244,209.1 240.6,204 237.2,200.6 240.6,195.5 244,189.6 249.1,185.4 254.2,182 259.3,183.7 264.3,180.3 271.1,178.6 277.9,175.2 284.7,171.8 289.8,168.4 288.1,161.7 284.7,156.6 276.2,155.7 267.7,156.6 269.4,153.2 274.5,149.8 279.6,144.7 284.7,141.3 293.1,137.9 299.9,136.2 305,131.2 306.7,122.7 313.5,121.8 327,121 333.8,117.6 340.6,114.2 347.4,110.8 352.4,105.8 353.3,101.5 349,99 342.3,98.1 335.5,99 330.4,101.5 325.3,102.4 321.9,97.3 318.6,93.9ZM299.1,144.7 304.2,141.3 311,137.9 317.8,136.2 321.2,139.6 317.8,144.7 316.1,148.1 307.6,148.1 302.5,147.3ZM285.6,183.7 289,180.3 294.1,182 295.8,186.2 291.5,188.8 287.3,187.1ZM314.4,178.6 319.5,175.2 326.3,176.9 327.9,181.1 322.9,183.7 316.9,182.8ZM339.8,171.8 343.2,169.3 347.4,171.8 348.3,176.1 344.9,177.7 341.5,175.2ZM344.9,183.7 348.3,182 352.5,185.4 350.8,188.8 346.6,187.9ZM283.9,205.7 290.7,202.3 295.8,199.8 300.8,200.6 302.5,205.7 300.8,209.1 305.9,212.5 311,214.2 312.7,217.6 307.6,220.9 300.8,220.1 294.1,217.6 290.7,212.5 287.3,209.1ZM348.3,227.7 351.7,222.6 356.7,217.6 361.8,214.2 368.6,211.6 375.4,212.5 382.2,215.9 385.5,220.9 383.9,226 377.1,224.3 370.3,223.5 365.2,227.7 361.8,232.8 356.7,237 352.5,236.2 350,232ZM307.6,196.4 311,194.7 314.4,198.1 311.9,199.8ZM263.6,187.1 268.7,183.7 273.7,187.1 278.8,192.1 280.5,197.2 275.4,195.5 270.4,193.8 266.1,191.3ZM405.9,85.4 409.3,80.3 414.3,77 422.8,77 431.3,78.6 436.4,82 444.8,85.4 441.4,88.8 433,88 426.2,90.5 417.7,90.5 411,91.4 407.6,88.8ZM295.8,323.5 298.3,321 303.4,321 305.9,323.5 303.4,326.4 298.3,326.4ZM236.5,303.2 239.9,300.7 245.8,301 248.3,304.1 244.9,307.1 239,306.6Z" fill="#84de84" fill-rule="evenodd" stroke="#000" stroke-width="1.4" stroke-linejoin="round"/></g><clipPath id="fmain"><path d="M316.1,93 321.2,88.8 324.6,83.7 333,80.3 341.5,78.6 351.7,77 360.1,71.9 370.3,68.5 378.8,66.8 387.2,67.6 395.7,66.8 405.9,61.7 414.3,60 417.7,56.6 414.3,53.2 407.6,52.4 397.4,54.1 385.5,53.2 375.4,54.9 365.2,54.1 361.8,51.5 368.6,49 382.2,47.3 395.7,45.6 409.3,43.9 421.1,42.2 427.9,41 486.7,79.2 486.7,105.8 483.8,109.1 482.1,115.9 485.5,121 483.8,126.1 477,129.5 468.6,131.2 460.1,134.5 453.3,136.2 448.2,139.6 443.1,137.9 439.8,132.9 441.4,127.8 448.2,124.4 451.6,119.3 448.2,114.2 441.4,110.8 436.4,107.4 431.3,104.1 427.9,109.1 426.2,115.9 422.8,121 419.4,126.9 414.3,129.5 409.3,126.1 404.2,125.2 400.8,129.5 395.7,135.4 388.9,136.2 383.9,134.5 383,130.3 387.2,126.9 383.9,122.7 377.1,119.3 368.6,118.5 360.1,119.3 351.7,117.6 344.9,115.9 339.8,117.6 334.7,119.3 331.3,124.4 326.3,129.5 322.9,132.9 327.9,139.6 334.7,136.2 339.8,143 344.9,148.1 348.3,154.9 351.7,161.7 356.7,165 360.1,160.8 365.2,161.7 368.6,156.6 373.7,153.2 378.8,153.2 383.9,149.8 388.9,147.3 395.7,146.4 404.2,145.6 412.7,144.7 421.1,146.4 417.7,149.8 411,153.2 407.6,156.6 412.7,160 419.4,163.3 426.2,165 427.9,168.4 424.5,171.8 422.8,178.6 424.5,185.4 421.1,190.5 419.4,197.2 414.3,202.3 412.7,207.4 416,212.5 417.7,217.6 414.3,222.6 411,227.7 407.6,234.5 405.9,239.6 409.3,244.7 412.7,249.7 416,254.8 417.7,258.2 412.7,261.6 409.3,265.8 402.5,266.7 395.7,268.4 390.6,271.8 392.3,276.8 387.2,280.2 380.5,281.9 375.4,278.5 368.6,276.8 361.8,278.5 356.7,281.9 351.7,280.3 348.3,285.4 343.2,288.8 339.8,292.2 343.2,299 348.3,301.5 353.4,302.4 351.7,305.8 344.9,305.8 338.1,304.1 333,305.8 327.9,307.4 322.9,305.8 326.3,299 324.6,293.9 329.6,288.8 336.4,287.1 341.5,283.7 343.2,278.6 339.8,273.6 334.7,271 327.9,271 322.9,275.3 316.1,277 307.6,278.6 300.8,283.7 304.2,288.8 307.6,293.9 311,300.7 312.7,307.4 314.4,314.2 316.1,321 314.4,326.1 309.3,326.9 305.9,331.2 307.6,337.9 309.3,344.7 311,352.3 305.9,352.3 302.5,346.4 299.1,339.6 297.5,332.9 295.8,326.9 290.7,322.7 287.3,327.8 283.1,331.2 283.9,337.9 277.1,334.5 272,329.5 267,326.1 261.9,321.8 255.1,321 248.3,317.6 239.9,312.5 233.1,307.4 228,302.4 222.9,299 221.2,290.5 216.1,283.7 214.4,275.3 217.8,271.9 224.6,268.5 233.1,265.9 235.5,265 242.3,263.3 247.4,259.9 250.8,256.5 255.9,253.1 259.3,248.1 261,241.3 262.7,234.5 264.3,227.7 266,220.9 271.1,219.3 276.2,217.6 272.8,214.2 269.4,210.8 267.7,205.7 262.7,209.1 255.9,215.9 250.8,217.6 252.5,210.8 257.6,207.4 254.2,204 249.1,205.7 244,209.1 240.6,204 237.2,200.6 240.6,195.5 244,189.6 249.1,185.4 254.2,182 259.3,183.7 264.3,180.3 271.1,178.6 277.9,175.2 284.7,171.8 289.8,168.4 288.1,161.7 284.7,156.6 276.2,155.7 267.7,156.6 269.4,153.2 274.5,149.8 279.6,144.7 284.7,141.3 293.1,137.9 299.9,136.2 305,131.2 306.7,122.7 313.5,121.8 327,121 333.8,117.6 340.6,114.2 347.4,110.8 352.4,105.8 353.3,101.5 349,99 342.3,98.1 335.5,99 330.4,101.5 325.3,102.4 321.9,97.3 318.6,93.9ZM299.1,144.7 304.2,141.3 311,137.9 317.8,136.2 321.2,139.6 317.8,144.7 316.1,148.1 307.6,148.1 302.5,147.3ZM285.6,183.7 289,180.3 294.1,182 295.8,186.2 291.5,188.8 287.3,187.1ZM314.4,178.6 319.5,175.2 326.3,176.9 327.9,181.1 322.9,183.7 316.9,182.8ZM339.8,171.8 343.2,169.3 347.4,171.8 348.3,176.1 344.9,177.7 341.5,175.2ZM344.9,183.7 348.3,182 352.5,185.4 350.8,188.8 346.6,187.9ZM283.9,205.7 290.7,202.3 295.8,199.8 300.8,200.6 302.5,205.7 300.8,209.1 305.9,212.5 311,214.2 312.7,217.6 307.6,220.9 300.8,220.1 294.1,217.6 290.7,212.5 287.3,209.1ZM348.3,227.7 351.7,222.6 356.7,217.6 361.8,214.2 368.6,211.6 375.4,212.5 382.2,215.9 385.5,220.9 383.9,226 377.1,224.3 370.3,223.5 365.2,227.7 361.8,232.8 356.7,237 352.5,236.2 350,232ZM307.6,196.4 311,194.7 314.4,198.1 311.9,199.8ZM263.6,187.1 268.7,183.7 273.7,187.1 278.8,192.1 280.5,197.2 275.4,195.5 270.4,193.8 266.1,191.3ZM405.9,85.4 409.3,80.3 414.3,77 422.8,77 431.3,78.6 436.4,82 444.8,85.4 441.4,88.8 433,88 426.2,90.5 417.7,90.5 411,91.4 407.6,88.8ZM295.8,323.5 298.3,321 303.4,321 305.9,323.5 303.4,326.4 298.3,326.4ZM236.5,303.2 239.9,300.7 245.8,301 248.3,304.1 244.9,307.1 239,306.6Z" clip-rule="evenodd"/></clipPath><g clip-path="url(#fmain)"><polygon points="317.8,220.9 334.7,204 351.7,187.1 368.6,173.5 385.5,163.3 394,170.1 377.1,183.7 360.1,197.2 343.2,212.5 327.9,227.7" fill="#78d078"/><polygon points="233.1,280.3 243.2,260 258.5,246.5 275.4,241.4 287.3,251.5 290.7,265.1 300.8,278.6 307.6,292.2 300.8,299 287.3,302.4 277.1,309.1 267,302.4 255.1,299 243.2,292.2" fill="#c0d0ff"/><polygon points="304.2,253.2 314.4,244.8 327.9,243.1 341.5,249.8 346.6,260 338.1,270.2 324.6,271 314.4,268.5 307.6,261.7" fill="#b4ccff"/><polygon points="361.8,244.8 372,241.4 382.2,238 392.3,239.7 402.5,241.4 399.1,249.8 392.3,256.6 385.5,261.7 375.4,258.3 368.6,251.5" fill="#a8c8ff"/><polygon points="351.7,197.2 358.4,187.1 365.2,182 370.3,187.1 368.6,195.5 361.8,202.3 355.1,204" fill="#c4d2ff"/><polygon points="265.3,231.1 273.7,227.7 280.5,231.1 283.9,237.9 275.4,239.6 267,237.9" fill="#b4ccff"/><polygon points="236.5,278.6 246.6,265.1 258.5,254.9 270.4,256.6 280.5,265.1 283.9,275.3 294.1,285.4 300.8,292.2 294.1,295.6 283.9,290.5 275.4,288.8 267,292.2 258.5,293.9 250,292.2 241.6,287.1" fill="#5a94ff"/><polygon points="307.6,253.2 314.4,249.8 321.2,248.2 327.9,251.5 324.6,256.6 317.8,258.3 321.2,263.4 331.3,261.7 339.8,260 334.7,266.8 324.6,266.8 316.1,265.1 311,258.3" fill="#3c68ff"/><polygon points="250,273.6 256.8,265.1 265.3,261.7 272,266.8 275.4,273.6 270.4,278.6 265.3,283.7 258.5,288.8 253.4,285.4 248.3,280.3" fill="#0c1cd0"/></g><polygon points="147.5,160 154.2,154.9 161,151.5 167.8,146.4 174.6,143 181.3,139.6 189.8,136.2 194.9,132.9 201.7,134.5 208.4,131.2 215.2,129.5 223.7,124.4 228.8,126.9 225.4,132.9 220.3,141.3 216.9,148.1 211.8,151.5 208.4,148.1 213.5,139.6 216.9,134.5 210.1,136.2 205.1,141.3 198.3,144.7 191.5,143 184.7,146.4 177.9,151.5 172.9,156.6 167.8,161.7 166.1,166.7 162.7,171.8 157.6,173.5 150.8,175.2 148.3,170.1 149.1,165" fill="#84de84" stroke="#000" stroke-width="1.1" stroke-linejoin="round"/><polygon points="157.6,175.2 164.4,176.9 162.7,183.7 167.8,188.8 166.1,195.5 161,197.2 164.4,204 166.1,210.8 159.3,212.5 157.6,205.7 155.9,198.9 161,192.1 159.3,185.4" fill="#84de84" stroke="#000" stroke-width="1.1" stroke-linejoin="round"/><polygon points="113.6,219.3 117,214.2 120.4,210.8 118.7,204 117,197.2 118.7,192.1 122,193 122,200.6 123.7,207.4 127.1,212.5 123.7,217.6 120.4,222.6 116.1,223.5" fill="#84de84" stroke="#000" stroke-width="1.1" stroke-linejoin="round"/><polygon points="144.1,251.4 150.8,246.4 155.9,241.3 161,244.7 166.1,241.3 171.2,237.9 167.8,232.8 166.1,227.7 171.2,226 174.6,231.1 181.3,229.4 184.7,224.3 189.8,226 188.1,231.1 181.3,234.5 176.3,237.9 174.6,244.7 171.2,251.4 169.5,258.2 166.1,262.5 162.7,259.9 164.4,253.1 159.3,249.7 154.2,253.1 149.1,254.8" fill="#84de84" stroke="#000" stroke-width="1.1" stroke-linejoin="round"/><polygon points="242.3,149.8 247.4,143.9 250.8,148.1 252.5,153.2 259.3,154.9 261,160 254.2,161.7 249.1,158.3 245.7,153.2" fill="#84de84" stroke="#000" stroke-width="1.1" stroke-linejoin="round"/><polygon points="210.1,90.5 214.4,82.9 220.3,83.7 216.9,91.4" fill="#84de84" stroke="#000" stroke-width="1.1" stroke-linejoin="round"/><polygon points="286.4,111.7 288.1,107.4 294,107.4 292.3,111.7" fill="#84de84" stroke="#000" stroke-width="1.1" stroke-linejoin="round"/><polygon points="301.6,93.9 303.3,91.4 307.5,91.9 306.4,94.7" fill="#84de84" stroke="#000" stroke-width="1.1" stroke-linejoin="round"/><polygon points="201.7,210.8 206.7,206.5 212.7,208.2 211.8,214.2 205.1,215.9" fill="#84de84" stroke="#000" stroke-width="1.1" stroke-linejoin="round"/><polygon points="222,218.4 227.1,215 231.3,216.7 225.4,219.6" fill="#84de84" stroke="#000" stroke-width="1.1" stroke-linejoin="round"/><polygon points="204.2,229.4 215.2,224.3 216.9,226 209.3,230.3 208.4,232.8 205.1,232.5" fill="#84de84" stroke="#000" stroke-width="1.1" stroke-linejoin="round"/><polygon points="193.2,218.4 196.6,216.7 200,218.4 197.4,220.9" fill="#84de84" stroke="#000" stroke-width="1.1" stroke-linejoin="round"/><polygon points="151.7,132.9 155.1,129.5 157.6,131.2 154.2,134.5" fill="#84de84" stroke="#000" stroke-width="1.1" stroke-linejoin="round"/><polygon points="228.8,170.1 231.3,166.7 233.9,168.4 231.3,171.8" fill="#84de84" stroke="#000" stroke-width="1.1" stroke-linejoin="round"/><polygon points="257.6,133.7 261,132 264.3,135.4 260.1,136.2" fill="#84de84" stroke="#000" stroke-width="1.1" stroke-linejoin="round"/><polygon points="327.9,319.3 333,314.2 339.8,313.4 344.9,317.6 343.2,322.7 346.6,327.8 343.2,331.2 341.5,337.9 343.2,344.7 338.1,345.6 334.7,339.6 333,332.9 329.6,327.8" fill="#84de84" stroke="#000" stroke-width="1.1" stroke-linejoin="round"/><polygon points="316.1,332.9 319.5,332 321.2,335.4 317.8,336.6" fill="#84de84" stroke="#000" stroke-width="1.1" stroke-linejoin="round"/><polygon points="324.6,340.5 327.9,339.6 328.3,342.7 325.4,343" fill="#84de84" stroke="#000" stroke-width="1.1" stroke-linejoin="round"/><polygon points="410.1,293 413.5,290.2 417.7,293 414.3,295.9" fill="#84de84" stroke="#000" stroke-width="1.1" stroke-linejoin="round"/><polygon points="395.7,290.5 399.9,288 400.8,289.1 397.1,291.9" fill="#84de84" stroke="#000" stroke-width="1.1" stroke-linejoin="round"/><polygon points="444.8,403.2 448.2,402.3 449.9,406.5 445.7,407.7" fill="#84de84" stroke="#000" stroke-width="1.1" stroke-linejoin="round"/><ellipse cx="239.5" cy="265.9" rx="4.2" ry="7.1" fill="#fff" stroke="#000" stroke-width="1.1" transform="rotate(-20 239.5 265.9)"/><ellipse cx="373.7" cy="276.1" rx="4.2" ry="7.1" fill="#fff" stroke="#000" stroke-width="1.1" transform="rotate(10 373.7 276.1)"/><ellipse cx="195.7" cy="134.5" rx="4.7" ry="7.1" fill="#fff" stroke="#000" stroke-width="1.1" transform="rotate(25 195.7 134.5)"/><ellipse cx="159.3" cy="164.2" rx="5.1" ry="4.2" fill="#fff" stroke="#000" stroke-width="1.1" transform="rotate(0 159.3 164.2)"/><ellipse cx="446.5" cy="81.2" rx="5.1" ry="1.9" fill="#fff" stroke="#000" stroke-width="1.1" transform="rotate(40 446.5 81.2)"/><ellipse cx="434.7" cy="76.1" rx="3.4" ry="1.4" fill="#fff" stroke="#000" stroke-width="1.1" transform="rotate(40 434.7 76.1)"/><ellipse cx="434.7" cy="105.8" rx="3.4" ry="1.4" fill="#fff" stroke="#000" stroke-width="1.1" transform="rotate(40 434.7 105.8)"/><ellipse cx="472.8" cy="125.2" rx="3.4" ry="1.4" fill="#fff" stroke="#000" stroke-width="1.1" transform="rotate(40 472.8 125.2)"/><line x1="78.4" y1="40.7" x2="78.4" y2="548.9" stroke="#000" stroke-width="1.2" stroke-dasharray="2.8 5.4" fill="none"/><line x1="157.1" y1="40.7" x2="157.1" y2="548.9" stroke="#000" stroke-width="1.2" stroke-dasharray="2.8 5.4" fill="none"/><line x1="235.9" y1="40.7" x2="235.9" y2="548.9" stroke="#000" stroke-width="1.2" stroke-dasharray="2.8 5.4" fill="none"/><line x1="314.6" y1="40.7" x2="314.6" y2="548.9" stroke="#000" stroke-width="1.2" stroke-dasharray="2.8 5.4" fill="none"/><line x1="393.3" y1="40.7" x2="393.3" y2="548.9" stroke="#000" stroke-width="1.2" stroke-dasharray="2.8 5.4" fill="none"/><line x1="472.1" y1="40.7" x2="472.1" y2="548.9" stroke="#000" stroke-width="1.2" stroke-dasharray="2.8 5.4" fill="none"/><line x1="13.2" y1="113" x2="486.3" y2="113" stroke="#000" stroke-width="1.2" stroke-dasharray="2.8 5.4" fill="none"/><line x1="13.2" y1="197.7" x2="486.3" y2="197.7" stroke="#000" stroke-width="1.2" stroke-dasharray="2.8 5.4" fill="none"/><line x1="13.2" y1="282.3" x2="486.3" y2="282.3" stroke="#000" stroke-width="1.2" stroke-dasharray="2.8 5.4" fill="none"/><line x1="13.2" y1="367" x2="486.3" y2="367" stroke="#000" stroke-width="1.2" stroke-dasharray="2.8 5.4" fill="none"/><line x1="13.2" y1="451.7" x2="486.3" y2="451.7" stroke="#000" stroke-width="1.2" stroke-dasharray="2.8 5.4" fill="none"/><line x1="13.2" y1="536.4" x2="486.3" y2="536.4" stroke="#000" stroke-width="1.2" stroke-dasharray="2.8 5.4" fill="none"/><text x="78.4" y="303.2" font-size="11.8" text-anchor="middle" font-family="Liberation Sans, sans-serif">146</text><text x="157.1" y="303.2" font-size="11.8" text-anchor="middle" font-family="Liberation Sans, sans-serif">148</text><text x="235.9" y="303.2" font-size="11.8" text-anchor="middle" font-family="Liberation Sans, sans-serif">150</text><text x="314.6" y="303.2" font-size="11.8" text-anchor="middle" font-family="Liberation Sans, sans-serif">152</text><text x="393.3" y="303.2" font-size="11.8" text-anchor="middle" font-family="Liberation Sans, sans-serif">154</text><text x="472.1" y="303.2" font-size="11.8" text-anchor="middle" font-family="Liberation Sans, sans-serif">156</text><text x="255.8" y="112.4" font-size="11.8" text-anchor="middle" font-family="Liberation Sans, sans-serif">20</text><text x="255.8" y="197.1" font-size="11.8" text-anchor="middle" font-family="Liberation Sans, sans-serif">18</text><text x="255.8" y="281.7" font-size="11.8" text-anchor="middle" font-family="Liberation Sans, sans-serif">16</text><text x="255.8" y="366.4" font-size="11.8" text-anchor="middle" font-family="Liberation Sans, sans-serif">14</text><text x="255.8" y="451.1" font-size="11.8" text-anchor="middle" font-family="Liberation Sans, sans-serif">12</text><text x="255.8" y="535.8" font-size="11.8" text-anchor="middle" font-family="Liberation Sans, sans-serif">10</text><polyline points="13,40.7 84,81.2 154.7,123.2 225,165.5 295,208.7 390,270.5 481.4,333.5" stroke="#000" stroke-width="1.05" stroke-dasharray="12.1 11.6" fill="none"/><polyline points="197.6,40.7 256,76 314.8,111.9 393.8,162.1 440,193 485.6,224.2" stroke="#000" stroke-width="1.05" stroke-dasharray="12.1 11.6" fill="none"/><path d="M243.6 294.4H256.4M250 288V300.8" stroke="#000" stroke-width="4.2" fill="none"/><text x="37" y="65.6" font-size="25" font-family="Liberation Sans, sans-serif">2A12 rainrate (mm/hr)</text><text x="439.6" y="523.6" font-size="28" font-family="Liberation Sans, sans-serif">(f)</text><rect x="495" y="531.6" width="9" height="8.8" fill="#86e286"/><rect x="495" y="523.1" width="9" height="8.8" fill="#86e286"/><rect x="495" y="514.6" width="9" height="8.8" fill="#7ed87e"/><rect x="495" y="506.2" width="9" height="8.8" fill="#76ce76"/><rect x="495" y="497.7" width="9" height="8.8" fill="#76ce76"/><rect x="495" y="489.2" width="9" height="8.8" fill="#6ec46e"/><rect x="495" y="480.8" width="9" height="8.8" fill="#66ba66"/><rect x="495" y="472.3" width="9" height="8.8" fill="#ccd4ff"/><rect x="495" y="463.9" width="9" height="8.8" fill="#ccd4ff"/><rect x="495" y="455.4" width="9" height="8.8" fill="#b8ccff"/><rect x="495" y="446.9" width="9" height="8.8" fill="#a2c4ff"/><rect x="495" y="438.5" width="9" height="8.8" fill="#84baff"/><rect x="495" y="430" width="9" height="8.8" fill="#84baff"/><rect x="495" y="421.5" width="9" height="8.8" fill="#66b2ff"/><rect x="495" y="413.1" width="9" height="8.8" fill="#50a8ff"/><rect x="495" y="404.6" width="9" height="8.8" fill="#4488ff"/><rect x="495" y="396.1" width="9" height="8.8" fill="#4488ff"/><rect x="495" y="387.7" width="9" height="8.8" fill="#4068ff"/><rect x="495" y="379.2" width="9" height="8.8" fill="#3a4aff"/><rect x="495" y="370.7" width="9" height="8.8" fill="#3030ff"/><rect x="495" y="362.3" width="9" height="8.8" fill="#3030ff"/><rect x="495" y="353.8" width="9" height="8.8" fill="#0000ff"/><rect x="495" y="345.3" width="9" height="8.8" fill="#0000f0"/><rect x="495" y="336.9" width="9" height="8.8" fill="#0000e0"/><rect x="495" y="328.4" width="9" height="8.8" fill="#0000e0"/><rect x="495" y="319.9" width="9" height="8.8" fill="#0000d0"/><rect x="495" y="311.5" width="9" height="8.8" fill="#0000c0"/><rect x="495" y="303" width="9" height="8.8" fill="#ffff00"/><rect x="495" y="294.6" width="9" height="8.8" fill="#ffff00"/><rect x="495" y="286.1" width="9" height="8.8" fill="#fff000"/><rect x="495" y="277.6" width="9" height="8.8" fill="#ffe400"/><rect x="495" y="269.2" width="9" height="8.8" fill="#ffe400"/><rect x="495" y="260.7" width="9" height="8.8" fill="#ffd800"/><rect x="495" y="252.2" width="9" height="8.8" fill="#ffcc00"/><rect x="495" y="243.8" width="9" height="8.8" fill="#ff9000"/><rect x="495" y="235.3" width="9" height="8.8" fill="#ff9000"/><rect x="495" y="226.8" width="9" height="8.8" fill="#ff8a00"/><rect x="495" y="218.4" width="9" height="8.8" fill="#ff8400"/><rect x="495" y="209.9" width="9" height="8.8" fill="#ff7e00"/><rect x="495" y="201.4" width="9" height="8.8" fill="#ff7800"/><rect x="495" y="193" width="9" height="8.8" fill="#ff4600"/><rect x="495" y="184.5" width="9" height="8.8" fill="#ff4600"/><rect x="495" y="176" width="9" height="8.8" fill="#ff3a00"/><rect x="495" y="167.6" width="9" height="8.8" fill="#ff3000"/><rect x="495" y="159.1" width="9" height="8.8" fill="#ff3000"/><rect x="495" y="150.6" width="9" height="8.8" fill="#ff2600"/><rect x="495" y="142.2" width="9" height="8.8" fill="#ff1a08"/><rect x="495" y="133.7" width="9" height="8.8" fill="#cc0000"/><rect x="495" y="125.2" width="9" height="8.8" fill="#cc0000"/><rect x="495" y="116.8" width="9" height="8.8" fill="#c00000"/><rect x="495" y="108.3" width="9" height="8.8" fill="#b40400"/><rect x="495" y="99.9" width="9" height="8.8" fill="#b40400"/><rect x="495" y="91.4" width="9" height="8.8" fill="#a80800"/><rect x="495" y="82.9" width="9" height="8.8" fill="#9c0c04"/><rect x="495" y="74.5" width="9" height="8.8" fill="#661004"/><rect x="495" y="66" width="9" height="8.8" fill="#621208"/><rect x="495" y="57.5" width="9" height="8.8" fill="#5e1410"/><rect x="495" y="49.1" width="9" height="8.8" fill="#5c1814"/><rect x="495" y="40.6" width="9" height="8.8" fill="#5a1c1c"/><line x1="503.5" y1="91.4" x2="506.3" y2="91.4" stroke="#000" stroke-width="0.9"/><text x="524" y="99.3" font-size="19.1" text-anchor="middle" font-family="Liberation Sans, sans-serif">54</text><line x1="503.5" y1="142.2" x2="506.3" y2="142.2" stroke="#000" stroke-width="0.9"/><text x="524" y="150.1" font-size="19.1" text-anchor="middle" font-family="Liberation Sans, sans-serif">48</text><line x1="503.5" y1="193" x2="506.3" y2="193" stroke="#000" stroke-width="0.9"/><text x="524" y="200.9" font-size="19.1" text-anchor="middle" font-family="Liberation Sans, sans-serif">42</text><line x1="503.5" y1="243.8" x2="506.3" y2="243.8" stroke="#000" stroke-width="0.9"/><text x="524" y="251.7" font-size="19.1" text-anchor="middle" font-family="Liberation Sans, sans-serif">36</text><line x1="503.5" y1="294.6" x2="506.3" y2="294.6" stroke="#000" stroke-width="0.9"/><text x="524" y="302.4" font-size="19.1" text-anchor="middle" font-family="Liberation Sans, sans-serif">30</text><line x1="503.5" y1="345.3" x2="506.3" y2="345.3" stroke="#000" stroke-width="0.9"/><text x="524" y="353.2" font-size="19.1" text-anchor="middle" font-family="Liberation Sans, sans-serif">24</text><line x1="503.5" y1="396.1" x2="506.3" y2="396.1" stroke="#000" stroke-width="0.9"/><text x="524" y="404" font-size="19.1" text-anchor="middle" font-family="Liberation Sans, sans-serif">18</text><line x1="503.5" y1="446.9" x2="506.3" y2="446.9" stroke="#000" stroke-width="0.9"/><text x="524" y="454.8" font-size="19.1" text-anchor="middle" font-family="Liberation Sans, sans-serif">12</text><line x1="503.5" y1="497.7" x2="506.3" y2="497.7" stroke="#000" stroke-width="0.9"/><text x="524" y="505.6" font-size="19.1" text-anchor="middle" font-family="Liberation Sans, sans-serif">6</text><line x1="503.5" y1="548.5" x2="506.3" y2="548.5" stroke="#000" stroke-width="0.9"/><text x="524" y="556.4" font-size="19.1" text-anchor="middle" font-family="Liberation Sans, sans-serif">0</text></g>
<g transform="translate(0 1181.4)"><defs><clipPath id="vclip"><polygon points="13,40.8 406.7,40.8 486.4,93.6 486.4,470.1 393.1,405.7 291.5,338 235.5,300.4 156.7,253 13,169.2"/></clipPath><linearGradient id="ggl" x1="0" y1="0" x2="1" y2="0"><stop offset="0" stop-color="#e6e6e6"/><stop offset="0.5" stop-color="#d6d6d6"/><stop offset="1" stop-color="#b2b2b2"/></linearGradient><filter id="gb4" x="-20%" y="-20%" width="140%" height="140%"><feGaussianBlur stdDeviation="5"/></filter></defs><g clip-path="url(#vclip)"><polygon points="13,40.8 406.7,40.8 486.4,93.6 486.4,470.1 393.1,405.7 291.5,338 235.5,300.4 156.7,253 13,169.2" fill="#d6d6d6"/><rect x="13" y="40" width="190" height="230" fill="url(#ggl)"/><g filter="url(#gb4)"><polygon points="386.3,303.9 420.2,290.4 454.1,295.4 471,307.3 454.1,320.8 420.2,327.6 394.8,320.8" fill="#c4c4c4"/><polygon points="411.8,388.6 445.6,348 464.3,341.2 460.9,371.7 450.7,405.6 437.2,439.4 420.2,422.5" fill="#b4b4b4"/><polygon points="386.3,354.7 420.2,337.8 454.1,329.3 488,320.8 488,337.8 420.2,371.7 369.4,388.6" fill="#e2e2e2"/></g><polygon points="88.1,211.3 89.8,205.4 93.2,198.6 99.9,195.2 103.3,188.4 108.4,181.7 110.1,173.2 115.2,166.4 122,161.3 125.4,154.6 132.1,147.8 137.2,141 140.6,134.2 145.7,129.1 147.4,122.4 151.6,113.9 154.2,105.4 159.2,100.4 162.6,95.3 167.7,88.5 172.8,81.7 176.2,76.6 179.6,68.2 181.3,59.7 186.3,52.9 193.1,46.1 194.8,41.1 194.9,41.1 420.2,41.1 488,93.6 486.3,173.2 479.5,176.6 474.4,181.7 469.4,186.7 464.3,191.8 459.2,196.9 452.4,198.6 445.6,202 438.9,205.4 437.2,213.9 435.5,222.3 430.4,229.1 427,237.6 428.7,246 425.3,254.5 418.5,261.3 411.8,266.4 406.7,269.8 403.3,276.5 396.5,279.9 389.7,283.3 383,286.7 381.3,300.5 377.9,314.1 372.8,324.2 371.1,334.4 367.7,344.6 362.6,353 355.9,358.1 352.5,364.9 347.4,370 344.8,374.2 344.8,385 81.4,249.4" fill="#7ad07a"/><polygon points="97.4,215.5 101.6,208.8 105,200.3 108.4,191.8 115.2,185.1 118.6,178.3 128.7,169.8 135.5,161.3 138.9,151.2 145.7,144.4 149.1,134.2 155.9,124.1 159.2,113.9 162.6,103.7 172.8,97 183,91.9 189.7,86.8 199.9,80 211.8,73.2 225.3,68.2 237.2,59.7 242.2,49.5 250.7,41.1 250.7,41.1 420.2,41.1 488,93.6 486.3,164.7 477.8,173.2 471,176.6 460.9,186.7 450.7,191.8 440.6,198.6 433.8,205.4 430.4,215.5 427,225.7 423.6,235.9 420.2,247.7 413.5,256.2 403.3,263 396.5,269.8 386.3,276.5 376.2,283.3 371.1,290.1 369.4,300.2 367.7,310.4 366,320.6 359.2,330.7 352.5,340.9 345.7,351.1 338.9,361.2 333.8,368 333.8,385 89.9,241" fill="#a8c8ff"/><g filter="url(#gb4)"><polygon points="250.8,46.1 318.6,42.8 352.5,49.5 335.5,80 310.1,113.9 288.1,134.2 271.2,110.5 250.8,85.1 225.4,80" fill="#c4d2ff"/><polygon points="220.2,80 254.1,63.1 288,63.1 271,83.4 228.7,97 186.3,117.3 169.4,124.1 186.3,97" fill="#b8ccff"/><polygon points="420.2,215.5 427,232.5 416.8,249.4 399.9,266.4 379.6,276.5 369.4,293.5 366,317.2 352.5,337.5 345.7,334.1 359.2,300.2 369.4,274.8 394.8,257.9 413.5,241" fill="#bcd0ff"/></g><polygon points="305,132.5 311.8,119 323.7,107.1 335.5,92.7 345.7,80 352.5,68.2 359.2,63.1 367.7,68.2 366.9,80 360.9,95.3 352.5,107.1 340.6,114.7 330.4,121.5 322,128.3 313.5,133.4 306.7,135.1" fill="#7ad07a"/><polygon points="261,46.1 267.8,42.8 272.8,51.2 269.5,63.1 262.7,61.4" fill="#7ad07a"/><polygon points="259.3,83.4 266.1,81.7 269.5,88.5 262.7,93.6 258.4,90.2" fill="#7ad07a"/><polygon points="316.9,46.1 328.7,44.4 330.4,51.2 318.6,52.9" fill="#7ad07a"/><polygon points="272.8,69.9 284.7,68.2 288.1,74.9 276.2,78.3" fill="#7ad07a"/><polygon points="305,100.4 318.6,93.6 322,100.4 308.4,108.8" fill="#7ad07a"/><polygon points="366,244.3 376.2,246 377.9,251.1 367.7,249.4" fill="#7ad07a"/><polygon points="110.1,225.7 115.2,215.5 122,205.4 130.4,191.8 138.9,178.3 147.4,164.7 155.9,151.2 166,137.6 177.9,124.1 191.4,110.5 211.8,100.4 237.2,91.9 271,85.1 294.9,97 308.4,85.1 318.6,88.5 311.8,105.4 301.6,124.1 294.9,141 288.1,157.9 284.7,173.2 288.1,188.4 294.9,198.6 250.8,198.6 149.2,232.5 115.3,249.4" fill="#4878ff"/><polygon points="279.6,161.3 288.1,141 296.6,147.8 305,164.7 315.2,166.4 325.4,147.8 335.5,137.6 345.7,124.1 355.9,117.3 369.4,113.9 369.4,130.8 294.9,198.6" fill="#4878ff"/><polygon points="362.6,41.1 410.1,41.1 427,51.2 416.8,63.1 410.1,80 399.9,91.9 389.7,98.7 379.6,108.8 366.9,113.9 362.6,100.4 366,85.1 369.4,63.1" fill="#4878ff"/><polygon points="449,113.9 457.5,103.7 464.3,117.3 471,112.2 488,102 488,163 477.8,171.5 467.7,178.3 457.5,188.4 447.3,191.8 437.2,198.6 430.4,208.8 425.3,222.3 420.2,235.9 415.1,249.4 406.7,257.9 396.5,264.7 386.3,271.4 376.2,278.2 369.4,286.7 366,300.2 362.6,313.8 355.9,327.4 349.1,337.5 342.3,347.7 335.5,357.8 325.4,361.2 311.8,351.1 335.5,334.1 345.7,300.2 345.7,254.5 362.6,229.1 398.2,215.5 420.2,183.4 418.5,164.7 450.7,144.4" fill="#4878ff"/><polygon points="129.6,235 132.1,222.3 137.2,208.8 142.3,195.2 147.4,181.7 154.2,169.8 162.6,157.9 172.8,147.8 184.7,134.2 196.5,124.1 211.8,113.9 228.7,105.4 245.6,100.4 271,97 288.1,108.8 294.9,117.3 291.5,134.2 286.4,147.8 283,161.3 281.3,174.9 250.8,198.6 149.2,232.5 128.8,242.7" fill="#0c1ee0"/><polygon points="281.3,164.7 288.1,147.8 294.9,157.9 301.6,173.2 311.8,176.6 318.6,164.7 328.7,154.6 338.9,147.8 345.7,137.6 352.5,130.8 366,125.8 362.6,130.8 352.5,137.6 345.7,147.8 342.3,157.9 332.1,164.7 325.4,169.8 318.6,176.6 315.2,183.4 308.4,188.4 301.6,191.8 294.9,195.2 288.1,190.1 284.7,181.7" fill="#0c1ee0"/><polygon points="376.2,63.1 386.3,49.5 396.5,44.4 410.1,44.4 421.9,52.9 415.1,63.1 408.4,80 398.2,91.9 388,97 377.9,107.1 369.4,110.5 371.1,93.6 376.2,80" fill="#0c1ee0"/><polygon points="450.7,117.3 457.5,108.8 464.3,120.7 472.7,113.9 488,105.4 488,154.6 477.8,163 467.7,173.2 457.5,178.3 447.3,181.7 437.2,180 427,181.7 420.2,176.6 416.8,169.8 427,163 437.2,157.9 445.6,152.9 452.4,146.1 455.8,134.2 452.4,125.8" fill="#0c1ee0"/><polygon points="418.5,181.7 427,185.1 423.6,198.6 416.8,208.8 410.1,217.2 403.3,224 396.5,229.1 389.7,232.5 383,232.5 376.2,234.2 369.4,232.5 362.6,235.9 357.5,242.7 354.2,252.8 352.5,263 355.9,273.1 354.2,286.7 350.8,300.2 349.1,313.8 345.7,327.4 338.9,337.5 332.1,344.3 325.4,351.1 318.6,351.1 335.5,334.1 345.7,300.2 345.7,254.5 362.6,229.1 398.2,215.5 415.1,191.8" fill="#0c1ee0"/><g filter="url(#gb4)"><polygon points="294.9,124.1 308.4,100.4 328.7,124.1 338.9,137.6 325.4,147.8 311.8,161.3 301.6,147.8" fill="#a8c8ff"/><polygon points="369.4,49.5 386.3,44.4 379.6,73.2 369.4,97 364.3,80" fill="#9cc0ff"/></g><g filter="url(#gb4)"><polygon points="305,41.1 369.4,41.1 369.4,63.1 359.2,59.7 352.5,63.1 345.7,74.9 335.5,88.5 322,103.7 311.8,100.4 308.4,85.1 301.6,71.6 298.3,54.6" fill="#5a8cff" opacity="0.75"/><polygon points="284.7,147.8 294.9,130.8 308.4,137.6 322,147.8 335.5,141 345.7,130.8 349.1,144.4 335.5,161.3 318.6,174.9 301.6,188.4 288.1,181.7" fill="#3c68f8" opacity="0.8"/></g><polygon points="305,132.5 311.8,119 323.7,107.1 335.5,92.7 345.7,80 352.5,68.2 359.2,63.1 367.7,68.2 366.9,80 360.9,95.3 352.5,107.1 340.6,114.7 330.4,121.5 322,128.3 313.5,133.4 306.7,135.1" fill="#7ad07a"/><polygon points="310.1,127.5 315.2,117.3 322,112.2 328.7,105.4 335.5,97 344,88.5 350.8,80 355.9,71.6 359.2,65.6 362.6,68.2 365.2,73.2 362.6,80 360.9,88.5 357.5,97 350.8,105.4 344,110.5 335.5,115.6 328.7,119 322,124.1 316.9,127.5 311.8,129.1" fill="#b6b6b6" stroke="#000" stroke-width="1.0" stroke-linejoin="round"/><polygon points="200,46.1 205.1,45.3 207.6,51.2 205.1,58.8 200,60.5" fill="#b6b6b6" stroke="#000" stroke-width="1.0" stroke-linejoin="round"/><polygon points="234.7,46.1 239.8,45.3 238.1,52.9 235.6,57.2" fill="#b6b6b6" stroke="#000" stroke-width="1.0" stroke-linejoin="round"/><polygon points="218.2,147.1 215.2,139.1 211.9,134.2 211.9,140.2 214,148.4" fill="#ffe800" stroke="#000" stroke-width="1.0" stroke-linejoin="round"/><polygon points="225.7,152.4 222.6,138.2 218.6,129.1 218.1,139 220,153.4" fill="#ffe800" stroke="#000" stroke-width="1.0" stroke-linejoin="round"/><polygon points="233.7,155.7 230,137.5 225.4,125.8 224.9,138.4 227.3,156.8" fill="#ffe800" stroke="#000" stroke-width="1.0" stroke-linejoin="round"/><polygon points="241.5,154.1 238.3,135.9 233.9,124.1 232.9,136.6 234.8,155" fill="#ffe800" stroke="#000" stroke-width="1.0" stroke-linejoin="round"/><polygon points="249.4,160.9 246.2,137.6 241.5,122.4 240.2,138.3 242,161.7" fill="#ffe800" stroke="#000" stroke-width="1.0" stroke-linejoin="round"/><polygon points="262.8,168.8 265.4,133.1 263,108.8 255.7,132 250.7,167.5" fill="#ffe800" stroke="#000" stroke-width="1.0" stroke-linejoin="round"/><polygon points="272.5,163.3 273.8,130.7 272,108.8 267.5,130.3 264.7,162.8" fill="#ffe800" stroke="#000" stroke-width="1.0" stroke-linejoin="round"/><polygon points="282.6,160.5 287.3,128.8 287.2,107.1 279.8,127.5 273.3,158.8" fill="#ffe800" stroke="#000" stroke-width="1.0" stroke-linejoin="round"/><polygon points="294.5,151.5 299.9,111.8 302,85.1 296.4,111.3 290.1,150.9" fill="#ffe800" stroke="#000" stroke-width="1.0" stroke-linejoin="round"/><polygon points="310.8,101.5 312.2,92.8 312.1,86.8 309.8,92.3 307.8,100.9" fill="#ffe800" stroke="#000" stroke-width="1.0" stroke-linejoin="round"/><polygon points="304.6,97.4 305.9,92.2 305.9,88.5 303.8,91.6 302,96.6" fill="#ffe800" stroke="#000" stroke-width="1.0" stroke-linejoin="round"/><polygon points="288,158.6 293.1,138.2 294.9,124.1 289.2,137.1 283.1,157.3" fill="#ffe800" stroke="#000" stroke-width="1.0" stroke-linejoin="round"/><polygon points="217,147.5 214.7,140.6 212.5,136.3 213.2,141.1 215.1,148.1" fill="#ff9a00"/><polygon points="224.1,152.6 221.7,140.6 219.3,132.7 219.7,141 221.6,153.1" fill="#ff9a00"/><polygon points="231.9,156 229,140.5 226.2,130.3 226.8,140.9 229.1,156.5" fill="#ff9a00"/><polygon points="239.6,154.4 237.2,138.8 234.5,128.6 234.7,139.2 236.6,154.8" fill="#ff9a00"/><polygon points="247.4,161.2 244.9,141.3 242.1,128.2 242.2,141.6 244.1,161.5" fill="#ff9a00"/><polygon points="259.5,168.4 262.1,138.1 262.1,117.7 257.8,137.6 254,167.8" fill="#ff9a00"/><polygon points="270.4,163.1 271.7,135.5 271.5,117 268.9,135.3 266.9,162.9" fill="#ff9a00"/><polygon points="280,160 284.4,133.2 285.8,115 281,132.6 275.8,159.3" fill="#ff9a00"/><polygon points="293.3,151.3 298,117.6 300.5,95 296.5,117.4 291.3,151" fill="#ff9a00"/><polygon points="286.7,158.3 291.2,140.9 293.5,129.1 289.4,140.4 284.4,157.6" fill="#ff9a00"/><polygon points="132.1,236.7 133.8,229.1 138.9,220.6 142.3,208.8 144,198.6 147.4,191.8 155.9,188.4 166,187.6 169.4,181.7 171.1,174.9 177.9,176.6 186.3,171.5 193.1,166.4 199.9,164.7 203.3,159.6 206.7,154.6 210.1,163 216.8,161.3 223.6,157.9 223.7,157.9 227.1,151.2 233.9,147.8 239,154.6 244,163 250.8,173.2 257.6,168.1 262.7,174.9 267.8,169.8 272.8,161.3 277.9,157.9 281.3,164.7 283,174.9 284.7,181.7 288.1,188.4 291.5,195.2 296.6,190.1 301.6,186.7 308.4,183.4 315.2,176.6 318.6,168.1 325.4,161.3 332.1,157.9 340.6,151.2 345.7,141 349.1,134.2 355.9,130.8 362.6,129.1 369.4,124.1 366.9,113.9 369.4,110.5 379.6,108.8 383,103.7 389.7,98.7 396.5,97 399.9,93.6 408.4,88.5 418.5,85.1 427,80 437.2,76.6 447.3,78.3 457.5,80 467.7,83.4 477.8,87.6 488,93.6 488,103.7 477.8,108.8 471,113.9 464.3,119 454.1,112.2 449,117.3 452.4,127.5 455.8,134.2 450.7,144.4 443.9,151.2 437.2,156.3 427,161.3 418.5,164.7 415.1,169.8 418.5,176.6 420.2,183.4 415.1,191.8 410.1,200.3 405,208.8 398.2,215.5 389.7,220.6 383,224 377.9,227.4 369.4,225.7 362.6,229.1 357.5,234.2 352.5,239.3 349.1,247.7 345.7,254.5 344,261.6 349.1,270 350.8,280.2 347.4,290.4 344,300.5 345.7,310.7 344,320.8 340.6,327.6 335.5,334.4 328.7,337.8 322,344.6 316.9,348 311.8,350.5 267.8,385 81.4,266.4" fill="#ffe600" stroke="#000" stroke-width="1.0" stroke-linejoin="round"/><polygon points="374.5,237.6 383,232.5 393.1,230.8 399.9,234.2 403.3,244.3 401.6,254.5 396.5,261.3 386.3,263 379.6,259.6 374.5,252.8 372.8,244.3" fill="#ffe000" stroke="#000" stroke-width="1.0" stroke-linejoin="round"/><polygon points="445.6,163 452.4,159.6 457.5,166.4 460.9,174.9 455.8,178.3 449,173.2" fill="#ffe000" stroke="#000" stroke-width="1.0" stroke-linejoin="round"/><polygon points="421.9,195.2 428.7,193.5 432.1,198.6 428.7,205.4 423.6,205.4" fill="#ffe000" stroke="#000" stroke-width="1.0" stroke-linejoin="round"/><polygon points="393.1,42.8 405.8,41.4 403.3,47.8 396.5,52.1 392.3,49.5" fill="#ffe000" stroke="#000" stroke-width="1.0" stroke-linejoin="round"/><polygon points="379.6,241 386.3,237.6 394.8,237.6 398.2,246 394.8,256.2 386.3,257.9 381.3,252.8" fill="#ff9800"/><polygon points="384.7,242.7 389.7,241 391.4,247.7 387.2,251.1" fill="#1030e0"/><polygon points="250.5,171.7 252.4,156.4 252.9,146.1 250.3,156.1 247.8,171.3" fill="#0c1ee0" stroke="#000" stroke-width="1.0" stroke-linejoin="round"/><polygon points="266.6,173.4 268,159.1 268.1,149.5 265.9,158.8 263.9,173" fill="#0c1ee0" stroke="#000" stroke-width="1.0" stroke-linejoin="round"/><polygon points="281.1,163.1 281.9,153 281.7,146.1 280,152.8 278.8,162.9" fill="#0c1ee0" stroke="#000" stroke-width="1.0" stroke-linejoin="round"/><polygon points="241.5,164.6 239.5,153.4 237.6,146.1 238.2,153.7 239.8,164.9" fill="#0c1ee0" stroke="#000" stroke-width="1.0" stroke-linejoin="round"/><polygon points="142.3,242.7 145.7,232.5 150.8,222.3 152.5,212.2 155.9,202 166,196.9 176.2,191.8 186.3,185.1 196.5,181.7 210.1,176.6 220.2,173.2 230.5,168.1 240.7,164.7 250.8,178.3 264.4,181.7 274.5,176.6 281.3,181.7 284.7,190.1 294.9,196.9 305,191.8 311.8,186.7 318.6,178.3 322,169.8 328.7,164.7 335.5,161.3 342.3,154.6 347.4,146.1 352.5,139.3 359.2,135.9 369.4,130.8 376.2,124.1 379.6,117.3 386.3,113.9 393.1,108.8 399.9,103.7 406.7,100.4 413.5,95.3 418.5,90.2 427,85.1 437.2,81.7 447.3,83.4 457.5,85.1 467.7,88.5 479.5,94.4 477.8,102 467.7,108.8 457.5,103.7 449,110.5 447.3,120.7 449,130.8 445.6,141 437.2,147.8 427,152.9 416.8,157.9 410.1,164.7 411.8,174.9 410.1,185.1 403.3,195.2 398.2,205.4 391.4,212.2 383,215.5 376.2,220.6 366,218.9 355.9,224 349.1,230.8 345.7,239.3 338.9,246 335.5,254.5 332.1,263 333.8,273.1 335.5,283.3 332.1,293.5 328.7,303.6 322,313.8 315.2,324 308.4,332.4 301.6,339.2 294.9,341.8 267.8,385 81.4,266.4" fill="#ff9400"/><polygon points="352.5,141 362.6,137.6 372.8,137.6 383,144.4 393.1,151.2 403.3,157.9 411.8,163 410.1,169.8 399.9,164.7 389.7,159.6 379.6,154.6 369.4,147.8 359.2,147.8 352.5,154.6 349.1,164.7 347.4,174.9 344,181.7 342.3,174.9 344,161.3 347.4,149.5" fill="#ffd400"/><polygon points="379.6,110.5 389.7,108.8 399.9,105.4 408.4,102 413.5,97 408.4,108.8 399.9,113.9 389.7,117.3 379.6,119 371.1,124.1 372.8,115.6" fill="#ffd400"/><polygon points="349.1,200.3 357.5,205.4 362.6,213.9 359.2,220.6 350.8,225.7 342.3,229.1 337.2,237.6 333.8,247.7 330.4,246 333.8,232.5 338.9,222.3 344,213.9 345.7,207.1" fill="#ffd400"/><polygon points="323,171.9 346.5,157.2 370,149.9 390.5,157.2 408.1,177.8 411.1,201.2 402.3,221.8 381.7,230.6 358.2,230.6 337.7,224.7 323,207.1 318.6,189.5" fill="#ffc000"/><polygon points="334.7,183.6 352.3,171.9 372.9,166 390.5,174.8 399.3,195.4 393.4,215.9 375.8,224.7 355.3,221.8 340.6,210.1 331.8,195.4" fill="#ffa800"/><polygon points="422.7,84.7 419.7,70.5 416,61.4 415.7,71.2 417.7,85.6" fill="#ffc400" stroke="#000" stroke-width="1.0" stroke-linejoin="round"/><polygon points="430,79.8 428.1,66.6 425.3,58 424.6,67 425.7,80.3" fill="#ffc400" stroke="#000" stroke-width="1.0" stroke-linejoin="round"/><polygon points="439.2,77.2 437.3,64.6 434.6,56.3 434,65 435.1,77.7" fill="#ffc400" stroke="#000" stroke-width="1.0" stroke-linejoin="round"/><polygon points="448.3,78.1 446.4,67.9 443.9,61.4 443.5,68.4 444.6,78.6" fill="#ffc400" stroke="#000" stroke-width="1.0" stroke-linejoin="round"/><polygon points="412.7,87.1 409.3,77.5 405.8,71.6 406.4,78.4 409.1,88.2" fill="#ffc400" stroke="#000" stroke-width="1.0" stroke-linejoin="round"/><polygon points="459.1,79.6 456.8,71.1 454.1,65.6 454.1,71.7 455.8,80.4" fill="#ffc400" stroke="#000" stroke-width="1.0" stroke-linejoin="round"/><polygon points="318.6,290.4 328.7,287 335.5,292 338.9,303.9 335.5,314.1 332.1,327.6 325.4,337.8 318.6,342.9 315.2,337.8 322,327.6 325.4,314.1 325.4,300.5" fill="#ffe000"/><polygon points="311.8,324.2 316.9,320.8 318.6,331 316.9,341.2 311.8,344.6 310.1,336.1" fill="#0c1ee0" stroke="#000" stroke-width="1.0" stroke-linejoin="round"/><polygon points="328.7,320.8 333.8,317.5 335.5,327.6 330.4,336.1 327.1,332.7" fill="#0c1ee0" stroke="#000" stroke-width="1.0" stroke-linejoin="round"/><polygon points="338.9,298.8 344,293.7 345.7,307.3 342.3,319.2 338.1,314.1" fill="#0c1ee0" stroke="#000" stroke-width="1.0" stroke-linejoin="round"/><polygon points="155.9,251.1 157.5,244.3 162.6,235.9 169.4,227.4 183,218.9 191.4,215.5 199.9,207.1 210.1,198.6 220.2,193.5 230.4,191.8 240.6,193.5 250.7,196.9 254.1,205.4 264.3,200.3 274.4,196.1 275.3,202 271,210.5 277.8,217.2 288,224 294.8,232.5 299.9,241 305,249.4 308.4,256.2 318.6,259.6 320.3,269.8 323.7,278.2 325.4,286.7 323.7,295.2 320.3,301.9 315.2,305.3 308.4,310.4 301.6,317.2 296.6,322.3 292.3,329 289.8,336.7 267.8,385 81.4,266.4" fill="#ff3c08" stroke="#000" stroke-width="1.1" stroke-linejoin="round"/><polygon points="318.6,191.8 322,181.7 328.7,173.2 335.5,164.7 342.3,157.9 345.7,147.8 350.8,139.3 357.5,134.2 366,132.5 376.2,129.1 372.8,134.2 362.6,139.3 355.9,144.4 352.5,152.9 349.1,161.3 344,169.8 342.3,178.3 335.5,181.7 330.4,188.4 325.4,195.2 320.3,198.6" fill="#f03808" stroke="#000" stroke-width="1.0" stroke-linejoin="round"/><polygon points="166.9,257.1 169.4,249.4 186.3,244.3 196.5,232.5 203.3,218.9 213.5,212.2 227,207.1 240.6,205.4 254.1,212.2 267.7,215.5 277.8,225.7 288,237.6 294.9,247.7 299.9,256.2 305,266.4 308.4,276.5 310.1,286.7 308.4,296.9 301.6,307 294.9,317.2 288.1,325.7 283,333.3 267.8,385 81.4,266.4" fill="#d01c08"/><polygon points="186.3,269.8 193.1,256.2 203.3,242.7 210.1,225.7 220.2,217.2 233.8,212.2 247.3,213.9 260.9,220.6 274.4,230.8 284.6,242.7 291.5,254.5 296.6,266.4 299.9,278.2 300.8,290.1 298.3,300.2 293.2,310.4 286.4,320.6 279.6,330.7 267.8,385 81.4,266.4" fill="#b00c04"/><polygon points="203.3,279.9 208.4,273.1 213.5,266.4 220.2,259.6 233.8,256.2 247.3,257.9 259.2,256.2 264.3,263 271,266.4 277.8,274.8 288,283.3 296.6,288.4 299.9,295.2 299.9,303.6 296.6,313.8 291.5,322.3 284.7,329 279.6,332.4 267.8,385 149.2,300.2" fill="#6c2018"/><polygon points="369.4,195.2 379.6,191.8 388,198.6 386.3,210.5 377.9,215.5 369.4,208.8" fill="#ff8000"/><polygon points="374.5,205.4 379.6,207.1 383,212.2 377.9,213.9" fill="#e03000" stroke="#000" stroke-width="0.8" stroke-linejoin="round"/><polygon points="252.5,283.3 255.9,282.5 256.8,285 253.9,285.8" fill="#ff9ab4"/><polygon points="253.9,296 258.4,292.6 259.3,296 255.1,300.2" fill="#ff9ab4"/><polygon points="410.9,415.7 415.1,403.9 421.9,405.6 428.7,395.4 433.8,385.2 440.6,376.8 445.6,370.8 444.8,378.4 442.2,388.6 437.2,397.1 433.8,407.2 435.5,417.4 438.9,425.9 440.6,437.7 437.2,438.6 425.3,427.6 416.8,420.8" fill="#7ad07a" stroke="#000" stroke-width="1.0" stroke-linejoin="round"/><polygon points="454.1,444.5 455.8,432.7 457.5,422.5 459.2,410.6 460.9,398.8 464.3,386.9 467.7,375.1 471,363.2 474.4,351.3 481.2,348 488,353 488,371.7 482.9,381.8 477.8,395.4 474.4,408.9 471,422.5 467.7,432.7 462.6,439.4 459.2,449.6" fill="#7ad07a" stroke="#000" stroke-width="1.0" stroke-linejoin="round"/><polygon points="460,358.1 461.7,349.6 464.6,346.3 464.3,354.7 461.7,361.5" fill="#7ad07a" stroke="#000" stroke-width="1.0" stroke-linejoin="round"/><polyline points="194.8,41.1 193.1,46.1 186.3,52.9 181.3,59.7 179.6,68.2 176.2,76.6 172.8,81.7 167.7,88.5 162.6,95.3 159.2,100.4 154.2,105.4 151.6,113.9 147.4,122.4 145.7,129.1 140.6,134.2 137.2,141 132.1,147.8 125.4,154.6 122,161.3 115.2,166.4 110.1,173.2 108.4,181.7 103.3,188.4 99.9,195.2 93.2,198.6 89.8,205.4 88.1,211.3" fill="none" stroke="#000" stroke-width="1"/><polyline points="486.3,173.2 479.5,176.6 474.4,181.7 469.4,186.7 464.3,191.8 459.2,196.9 452.4,198.6 445.6,202 438.9,205.4 437.2,213.9 435.5,222.3 430.4,229.1 427,237.6 428.7,246 425.3,254.5 418.5,261.3 411.8,266.4 406.7,269.8 403.3,276.5 396.5,279.9 389.7,283.3 383,286.7 381.3,300.5 377.9,314.1 372.8,324.2 371.1,334.4 367.7,344.6 362.6,353 355.9,358.1 352.5,364.9 347.4,370 344.8,374.2" fill="none" stroke="#000" stroke-width="1"/></g><line x1="78.4" y1="40.7" x2="78.4" y2="548.9" stroke="#000" stroke-width="1.2" stroke-dasharray="2.8 5.4" fill="none"/><line x1="157.1" y1="40.7" x2="157.1" y2="548.9" stroke="#000" stroke-width="1.2" stroke-dasharray="2.8 5.4" fill="none"/><line x1="235.9" y1="40.7" x2="235.9" y2="548.9" stroke="#000" stroke-width="1.2" stroke-dasharray="2.8 5.4" fill="none"/><line x1="314.6" y1="40.7" x2="314.6" y2="548.9" stroke="#000" stroke-width="1.2" stroke-dasharray="2.8 5.4" fill="none"/><line x1="393.3" y1="40.7" x2="393.3" y2="548.9" stroke="#000" stroke-width="1.2" stroke-dasharray="2.8 5.4" fill="none"/><line x1="472.1" y1="40.7" x2="472.1" y2="548.9" stroke="#000" stroke-width="1.2" stroke-dasharray="2.8 5.4" fill="none"/><line x1="13.2" y1="113" x2="486.3" y2="113" stroke="#000" stroke-width="1.2" stroke-dasharray="2.8 5.4" fill="none"/><line x1="13.2" y1="197.7" x2="486.3" y2="197.7" stroke="#000" stroke-width="1.2" stroke-dasharray="2.8 5.4" fill="none"/><line x1="13.2" y1="282.3" x2="486.3" y2="282.3" stroke="#000" stroke-width="1.2" stroke-dasharray="2.8 5.4" fill="none"/><line x1="13.2" y1="367" x2="486.3" y2="367" stroke="#000" stroke-width="1.2" stroke-dasharray="2.8 5.4" fill="none"/><line x1="13.2" y1="451.7" x2="486.3" y2="451.7" stroke="#000" stroke-width="1.2" stroke-dasharray="2.8 5.4" fill="none"/><line x1="13.2" y1="536.4" x2="486.3" y2="536.4" stroke="#000" stroke-width="1.2" stroke-dasharray="2.8 5.4" fill="none"/><text x="78.4" y="303.2" font-size="11.8" text-anchor="middle" font-family="Liberation Sans, sans-serif">146</text><text x="157.1" y="303.2" font-size="11.8" text-anchor="middle" font-family="Liberation Sans, sans-serif">148</text><text x="235.9" y="303.2" font-size="11.8" text-anchor="middle" font-family="Liberation Sans, sans-serif">150</text><text x="314.6" y="303.2" font-size="11.8" text-anchor="middle" font-family="Liberation Sans, sans-serif">152</text><text x="393.3" y="303.2" font-size="11.8" text-anchor="middle" font-family="Liberation Sans, sans-serif">154</text><text x="472.1" y="303.2" font-size="11.8" text-anchor="middle" font-family="Liberation Sans, sans-serif">156</text><text x="255.8" y="112.4" font-size="11.8" text-anchor="middle" font-family="Liberation Sans, sans-serif">20</text><text x="255.8" y="197.1" font-size="11.8" text-anchor="middle" font-family="Liberation Sans, sans-serif">18</text><text x="255.8" y="281.7" font-size="11.8" text-anchor="middle" font-family="Liberation Sans, sans-serif">16</text><text x="255.8" y="366.4" font-size="11.8" text-anchor="middle" font-family="Liberation Sans, sans-serif">14</text><text x="255.8" y="451.1" font-size="11.8" text-anchor="middle" font-family="Liberation Sans, sans-serif">12</text><text x="255.8" y="535.8" font-size="11.8" text-anchor="middle" font-family="Liberation Sans, sans-serif">10</text><polyline points="13,40.7 84,81.2 154.7,123.2 225,165.5 295,208.7 390,270.5 481.4,333.5" stroke="#000" stroke-width="1.05" stroke-dasharray="12.1 11.6" fill="none"/><polyline points="197.6,40.7 256,76 314.8,111.9 393.8,162.1 440,193 485.6,224.2" stroke="#000" stroke-width="1.05" stroke-dasharray="12.1 11.6" fill="none"/><text x="156.3" y="233.4" font-size="20.4" font-family="Liberation Sans, sans-serif">210</text><path d="M243.6 294.4H256.4M250 288V300.8" stroke="#000" stroke-width="4.2" fill="none"/><text x="37.8" y="65.6" font-size="25" font-family="Liberation Sans, sans-serif">VIRS T<tspan font-size="15" dy="6.5">B11</tspan><tspan dy="-6.5"> (K)</tspan></text><text x="439.6" y="523.6" font-size="28" font-family="Liberation Sans, sans-serif">(g)</text><rect x="495" y="540" width="9" height="8.8" fill="#ffffff"/><rect x="495" y="531.6" width="9" height="8.8" fill="#f7f7f7"/><rect x="495" y="523.1" width="9" height="8.8" fill="#f0f0f0"/><rect x="495" y="514.6" width="9" height="8.8" fill="#e8e8e8"/><rect x="495" y="506.2" width="9" height="8.8" fill="#e1e1e1"/><rect x="495" y="497.7" width="9" height="8.8" fill="#d9d9d9"/><rect x="495" y="489.2" width="9" height="8.8" fill="#d2d2d2"/><rect x="495" y="480.8" width="9" height="8.8" fill="#cacaca"/><rect x="495" y="472.3" width="9" height="8.8" fill="#c3c3c3"/><rect x="495" y="463.9" width="9" height="8.8" fill="#bbbbbb"/><rect x="495" y="455.4" width="9" height="8.8" fill="#b4b4b4"/><rect x="495" y="446.9" width="9" height="8.8" fill="#acacac"/><rect x="495" y="438.5" width="9" height="8.8" fill="#a5a5a5"/><rect x="495" y="430" width="9" height="8.8" fill="#9d9d9d"/><rect x="495" y="421.5" width="9" height="8.8" fill="#969696"/><rect x="495" y="413.1" width="9" height="8.8" fill="#86e286"/><rect x="495" y="404.6" width="9" height="8.8" fill="#7ed87e"/><rect x="495" y="396.1" width="9" height="8.8" fill="#76ce76"/><rect x="495" y="387.7" width="9" height="8.8" fill="#6ec46e"/><rect x="495" y="379.2" width="9" height="8.8" fill="#66ba66"/><rect x="495" y="370.7" width="9" height="8.8" fill="#ccd4ff"/><rect x="495" y="362.3" width="9" height="8.8" fill="#b8ccff"/><rect x="495" y="353.8" width="9" height="8.8" fill="#a2c4ff"/><rect x="495" y="345.3" width="9" height="8.8" fill="#84baff"/><rect x="495" y="336.9" width="9" height="8.8" fill="#66b2ff"/><rect x="495" y="328.4" width="9" height="8.8" fill="#50a8ff"/><rect x="495" y="319.9" width="9" height="8.8" fill="#4488ff"/><rect x="495" y="311.5" width="9" height="8.8" fill="#4068ff"/><rect x="495" y="303" width="9" height="8.8" fill="#3a4aff"/><rect x="495" y="294.6" width="9" height="8.8" fill="#3030ff"/><rect x="495" y="286.1" width="9" height="8.8" fill="#0000ff"/><rect x="495" y="277.6" width="9" height="8.8" fill="#0000f0"/><rect x="495" y="269.2" width="9" height="8.8" fill="#0000e0"/><rect x="495" y="260.7" width="9" height="8.8" fill="#0000d0"/><rect x="495" y="252.2" width="9" height="8.8" fill="#0000c0"/><rect x="495" y="243.8" width="9" height="8.8" fill="#ffff00"/><rect x="495" y="235.3" width="9" height="8.8" fill="#fff000"/><rect x="495" y="226.8" width="9" height="8.8" fill="#ffe400"/><rect x="495" y="218.4" width="9" height="8.8" fill="#ffd800"/><rect x="495" y="209.9" width="9" height="8.8" fill="#ffcc00"/><rect x="495" y="201.4" width="9" height="8.8" fill="#ff9000"/><rect x="495" y="193" width="9" height="8.8" fill="#ff8a00"/><rect x="495" y="184.5" width="9" height="8.8" fill="#ff8400"/><rect x="495" y="176" width="9" height="8.8" fill="#ff7e00"/><rect x="495" y="167.6" width="9" height="8.8" fill="#ff7800"/><rect x="495" y="159.1" width="9" height="8.8" fill="#ff4600"/><rect x="495" y="150.6" width="9" height="8.8" fill="#ff3a00"/><rect x="495" y="142.2" width="9" height="8.8" fill="#ff3000"/><rect x="495" y="133.7" width="9" height="8.8" fill="#ff2600"/><rect x="495" y="125.2" width="9" height="8.8" fill="#ff1a08"/><rect x="495" y="116.8" width="9" height="8.8" fill="#cc0000"/><rect x="495" y="108.3" width="9" height="8.8" fill="#c00000"/><rect x="495" y="99.9" width="9" height="8.8" fill="#b40400"/><rect x="495" y="91.4" width="9" height="8.8" fill="#a80800"/><rect x="495" y="82.9" width="9" height="8.8" fill="#9c0c04"/><rect x="495" y="74.5" width="9" height="8.8" fill="#661004"/><rect x="495" y="66" width="9" height="8.8" fill="#621208"/><rect x="495" y="57.5" width="9" height="8.8" fill="#5e1410"/><rect x="495" y="49.1" width="9" height="8.8" fill="#5c1814"/><rect x="495" y="40.6" width="9" height="8.8" fill="#5a1c1c"/><line x1="503.5" y1="91.4" x2="506.3" y2="91.4" stroke="#000" stroke-width="0.9"/><text x="524" y="99.3" font-size="19.1" text-anchor="middle" font-family="Liberation Sans, sans-serif">196</text><line x1="503.5" y1="142.2" x2="506.3" y2="142.2" stroke="#000" stroke-width="0.9"/><text x="524" y="150.1" font-size="19.1" text-anchor="middle" font-family="Liberation Sans, sans-serif">208</text><line x1="503.5" y1="193" x2="506.3" y2="193" stroke="#000" stroke-width="0.9"/><text x="524" y="200.9" font-size="19.1" text-anchor="middle" font-family="Liberation Sans, sans-serif">220</text><line x1="503.5" y1="243.8" x2="506.3" y2="243.8" stroke="#000" stroke-width="0.9"/><text x="524" y="251.7" font-size="19.1" text-anchor="middle" font-family="Liberation Sans, sans-serif">232</text><line x1="503.5" y1="294.6" x2="506.3" y2="294.6" stroke="#000" stroke-width="0.9"/><text x="524" y="302.4" font-size="19.1" text-anchor="middle" font-family="Liberation Sans, sans-serif">244</text><line x1="503.5" y1="345.3" x2="506.3" y2="345.3" stroke="#000" stroke-width="0.9"/><text x="524" y="353.2" font-size="19.1" text-anchor="middle" font-family="Liberation Sans, sans-serif">256</text><line x1="503.5" y1="396.1" x2="506.3" y2="396.1" stroke="#000" stroke-width="0.9"/><text x="524" y="404" font-size="19.1" text-anchor="middle" font-family="Liberation Sans, sans-serif">268</text><line x1="503.5" y1="446.9" x2="506.3" y2="446.9" stroke="#000" stroke-width="0.9"/><text x="524" y="454.8" font-size="19.1" text-anchor="middle" font-family="Liberation Sans, sans-serif">280</text><line x1="503.5" y1="497.7" x2="506.3" y2="497.7" stroke="#000" stroke-width="0.9"/><text x="524" y="505.6" font-size="19.1" text-anchor="middle" font-family="Liberation Sans, sans-serif">292</text><line x1="503.5" y1="548.5" x2="506.3" y2="548.5" stroke="#000" stroke-width="0.9"/><text x="524" y="556.4" font-size="19.1" text-anchor="middle" font-family="Liberation Sans, sans-serif">304</text></g>
<g transform="translate(590.4 1181.4)"><path d="M314,214.6 315.5,211.7 316.9,209.8 319.1,210.9 321.3,208.7 324.3,206.5 327.2,205.1 330.2,202.9 333.1,199.9 335.3,197.7 337.5,195.5 339,193.3 341.2,191.1 344.1,192.6 347,194 349.2,197 351.4,198.4 354.4,197 356.6,194 359.5,191.1 362.5,188.9 364.7,186.7 365.4,183.8 363.9,180.8 361.7,179.4 359.5,177.9 358,179.4 355.8,181.6 353.6,183.8 352.9,182.3 355.1,180.1 358,177.9 361,176.4 363.9,175 365.4,173.5 368.3,172 372,171.3 374.2,169.8 377.1,169.1 380.1,168.4 382.3,167.6 383.7,165.4 383,162.5 380.8,160.3 379.3,161 377.9,161.7 379.3,159.5 382.3,158.1 384.5,158.4 408.3,172 408,175 408.7,177.9 407.2,179.4 405,180.8 404.7,184.5 405.4,188.2 407.2,190 409.4,188.2 412.4,186 414.6,184.5 416,181.6 418.2,179.4 430.7,187.4 430,189.6 428.5,191.1 429.3,194 430,197 428.5,199.2 425.6,200.6 422.6,202.1 421.9,205.1 422.6,208.7 424.1,211.7 426.3,213.9 427,216.1 424.1,216.4 421.2,217.2 419.7,219 421.9,221.6 422.6,224.1 419.7,226.3 417.5,228.5 418.2,230.7 416.8,232.9 414.6,234.4 412.4,235.9 415.3,238.8 418.2,241.4 414.6,241 412.4,243.2 410.9,245.4 411.6,248.4 410.9,251.3 411.6,254.2 409.4,255.7 407.2,257.2 404.3,257.9 402.8,260.1 403.6,263 401.4,264.5 398.4,265.2 396.2,266.7 394,267.4 391.8,266.7 391.1,268.9 388.9,271.1 361,252 363.2,250.6 366.1,249.8 368.3,248.4 370.5,246.9 369.8,244.7 367.6,245.4 366.1,244 367.6,242.5 369.1,241 368.3,238.8 366.9,236.6 367.6,234.4 369.8,232.9 372,234.4 374.2,232.2 375.7,230.7 377.9,231.5 380.1,230.7 382.3,229.3 384.5,230 386.7,231.5 388.9,232.9 390.3,230.7 391.1,227.8 391.8,224.9 392.5,221.9 393.3,219 392.5,216.1 390.3,215.3 388.1,214.6 386.7,216.1 385.2,214.6 383,213.9 382.3,211.7 380.1,210.2 377.9,209.8 375.7,210.2 374.2,211.7 375.7,213.1 377.9,214.6 378.6,216.8 375.7,218.3 373.5,219 372,218.3 371.3,220.5 368.3,221.2 365.4,222.7 362.5,224.1 359.5,226.3 357.3,228.5 355.1,230.7 353.6,233.7 352.2,235.2 350.7,237.4 349.2,238.8 347,239.6 344.8,241 321.3,225.6 324.3,222.7 327.2,220.5 328,217.5 330.2,215.3 330.9,213.1 328.7,212.4 326.5,213.9 324.3,214.6 321.3,215.3 318.4,216.1 315.5,216.8ZM338.2,222.7 340.4,221.2 342.6,220.5 344.1,218.3 346.3,216.8 349.2,216.1 351.4,216.8 350,219 347.8,221.2 345.6,223.4 343.4,224.9 340.4,225.2 338.6,224.5ZM397.7,216.1 399.9,214.6 401.4,216.1 402.1,219 404.3,220.5 405.8,222.7 405,224.9 402.8,224.1 400.6,222.7 398.4,221.9 397.3,219ZM411.6,213.1 413.8,211.7 416.8,212.4 419.7,213.1 422.6,213.9 424.1,215.3 421.9,216.1 419,216.1 416.8,217.5 414.6,218.3 412.4,217.5ZM402.8,230 405,228.5 408,229.3 408.7,231.5 406.5,232.9 403.6,232.6ZM413.8,200.6 414.9,199.5 416.4,199.9 417.1,201.4 416.4,202.9 414.9,203 413.8,202.1ZM391.1,195.5 393.3,195.5 393.3,200.6 391.1,200.6Z" fill="#1a2ee0" fill-rule="evenodd"/><ellipse cx="301.1" cy="172.3" rx="1.8" ry="3.9" fill="#ff4a10" transform="rotate(35 301.1 172.3)"/><ellipse cx="305.4" cy="179.4" rx="1.9" ry="2.2" fill="#ff4a10" transform="rotate(0 305.4 179.4)"/><ellipse cx="307.2" cy="186.2" rx="8.9" ry="2.1" fill="#ff4a10" transform="rotate(-32 307.2 186.2)"/><ellipse cx="303.9" cy="199.2" rx="8.6" ry="2.4" fill="#1a2ee0" transform="rotate(-18 303.9 199.2)"/><ellipse cx="334.3" cy="165.6" rx="2.7" ry="3.6" fill="#1a2ee0" transform="rotate(20 334.3 165.6)"/><ellipse cx="339.9" cy="162.5" rx="3.3" ry="1.3" fill="#1a2ee0" transform="rotate(-40 339.9 162.5)"/><ellipse cx="326.5" cy="172.3" rx="1.5" ry="1.3" fill="#1a2ee0" transform="rotate(0 326.5 172.3)"/><ellipse cx="287" cy="202" rx="1" ry="3" fill="#1a2ee0" transform="rotate(10 287 202)"/><ellipse cx="306.8" cy="212.6" rx="3.9" ry="1.6" fill="#1a2ee0" transform="rotate(-40 306.8 212.6)"/><ellipse cx="311.7" cy="182.9" rx="3" ry="1.3" fill="#ff4a10" transform="rotate(-30 311.7 182.9)"/><ellipse cx="415.9" cy="267.2" rx="2.4" ry="4.7" fill="#1a2ee0" transform="rotate(25 415.9 267.2)"/><circle cx="431" cy="266.6" r="1" fill="#ff4a10"/><ellipse cx="424.2" cy="291.6" rx="2.4" ry="1.5" fill="#1a2ee0" transform="rotate(-20 424.2 291.6)"/><circle cx="444.4" cy="295.4" r="1" fill="#ff4a10"/><circle cx="432" cy="278.5" r="1" fill="#ff4a10"/><circle cx="483.2" cy="245" r="1" fill="#ff4a10"/><ellipse cx="352.9" cy="243.6" rx="1.8" ry="1.3" fill="#1a2ee0" transform="rotate(-30 352.9 243.6)"/><ellipse cx="358.6" cy="246.9" rx="2.2" ry="1.6" fill="#1a2ee0" transform="rotate(-20 358.6 246.9)"/><rect x="299" y="159.6" width="2" height="2" fill="#ff4a10"/><rect x="307.5" y="160.4" width="2" height="2" fill="#ff4a10"/><rect x="331.5" y="157.5" width="2" height="2" fill="#1a2ee0"/><rect x="310.3" y="168.1" width="2" height="2" fill="#ff4a10"/><rect x="314.5" y="166.7" width="2" height="2" fill="#ff4a10"/><rect x="335.7" y="170.9" width="2" height="2" fill="#1a2ee0"/><rect x="342.8" y="169.5" width="2" height="2" fill="#1a2ee0"/><rect x="347" y="174.5" width="2" height="2" fill="#1a2ee0"/><rect x="294.8" y="182.2" width="2" height="2" fill="#ff4a10"/><rect x="285.6" y="182.9" width="2" height="2" fill="#ff4a10"/><rect x="281.4" y="190.7" width="2" height="2" fill="#ff4a10"/><rect x="290.5" y="194.2" width="2" height="2" fill="#ff4a10"/><rect x="320.2" y="191.4" width="2" height="2" fill="#ff4a10"/><rect x="323.7" y="185.8" width="2" height="2" fill="#1a2ee0"/><rect x="329.4" y="187.9" width="2" height="2" fill="#1a2ee0"/><rect x="334.3" y="191.4" width="2" height="2" fill="#1a2ee0"/><rect x="341.4" y="184.3" width="2" height="2" fill="#1a2ee0"/><rect x="347" y="183.6" width="2" height="2" fill="#1a2ee0"/><rect x="350.5" y="192.1" width="2" height="2" fill="#1a2ee0"/><rect x="291.9" y="192.1" width="2" height="2" fill="#ff4a10"/><rect x="373.8" y="163.9" width="2" height="2" fill="#1a2ee0"/><rect x="366.8" y="167.4" width="2" height="2" fill="#1a2ee0"/><rect x="428.2" y="279.6" width="2" height="2" fill="#1a2ee0"/><rect x="315.9" y="163.2" width="2.2" height="2.2" fill="#ff4a10"/><rect x="318.8" y="164.6" width="2.2" height="2.2" fill="#ff4a10"/><rect x="321.6" y="161.8" width="2.2" height="2.2" fill="#ff4a10"/><rect x="310.3" y="166" width="2.2" height="2.2" fill="#ff4a10"/><rect x="308.9" y="169.5" width="2.2" height="2.2" fill="#ff4a10"/><rect x="299" y="175.2" width="2.2" height="2.2" fill="#ff4a10"/><rect x="301.8" y="176.6" width="2.2" height="2.2" fill="#ff4a10"/><rect x="311.7" y="176.6" width="2.2" height="2.2" fill="#ff4a10"/><rect x="315.9" y="175.2" width="2.2" height="2.2" fill="#ff4a10"/><rect x="318.8" y="173.8" width="2.2" height="2.2" fill="#ff4a10"/><rect x="306.1" y="180.8" width="2.2" height="2.2" fill="#ff4a10"/><rect x="304.7" y="182.2" width="2.2" height="2.2" fill="#ff4a10"/><rect x="310.3" y="185.8" width="2.2" height="2.2" fill="#ff4a10"/><rect x="313.1" y="184.3" width="2.2" height="2.2" fill="#ff4a10"/><rect x="299" y="192.1" width="2.2" height="2.2" fill="#ff4a10"/><rect x="301.8" y="191.4" width="2.2" height="2.2" fill="#ff4a10"/><rect x="291.9" y="194.9" width="2.2" height="2.2" fill="#ff4a10"/><rect x="294.8" y="195.6" width="2.2" height="2.2" fill="#ff4a10"/><rect x="286.3" y="183.6" width="2.2" height="2.2" fill="#ff4a10"/><rect x="289.1" y="184.3" width="2.2" height="2.2" fill="#ff4a10"/><rect x="330.8" y="158.9" width="2.2" height="2.2" fill="#ff4a10"/><rect x="341.4" y="163.2" width="2.2" height="2.2" fill="#ff4a10"/><rect x="342.8" y="175.2" width="2.2" height="2.2" fill="#ff4a10"/><rect x="339.9" y="175.9" width="2.2" height="2.2" fill="#ff4a10"/><rect x="330.1" y="195.6" width="2.2" height="2.2" fill="#ff4a10"/><rect x="325.8" y="199.9" width="2.2" height="2.2" fill="#ff4a10"/><rect x="351.2" y="186.5" width="2.2" height="2.2" fill="#ff4a10"/><rect x="328.7" y="165.3" width="2.4" height="2.4" fill="#1a2ee0"/><rect x="331.5" y="168.1" width="2.4" height="2.4" fill="#1a2ee0"/><rect x="334.3" y="163.9" width="2.4" height="2.4" fill="#1a2ee0"/><rect x="326.5" y="170.9" width="2.4" height="2.4" fill="#1a2ee0"/><rect x="327.2" y="175.2" width="2.4" height="2.4" fill="#1a2ee0"/><rect x="337.1" y="187.9" width="2.4" height="2.4" fill="#1a2ee0"/><rect x="341.4" y="186.5" width="2.4" height="2.4" fill="#1a2ee0"/><rect x="342.8" y="190.7" width="2.4" height="2.4" fill="#1a2ee0"/><rect x="339.9" y="192.1" width="2.4" height="2.4" fill="#1a2ee0"/><rect x="318.8" y="192.1" width="2.4" height="2.4" fill="#1a2ee0"/><rect x="323" y="192.8" width="2.4" height="2.4" fill="#1a2ee0"/><rect x="325.8" y="190.7" width="2.4" height="2.4" fill="#1a2ee0"/><rect x="416.2" y="265.5" width="2.4" height="2.4" fill="#1a2ee0"/><rect x="419" y="264.8" width="2.4" height="2.4" fill="#1a2ee0"/><rect x="414.8" y="269" width="2.4" height="2.4" fill="#1a2ee0"/><rect x="417.6" y="269.8" width="2.4" height="2.4" fill="#1a2ee0"/><rect x="423.9" y="292.3" width="2.4" height="2.4" fill="#1a2ee0"/><rect x="383.7" y="264.5" width="2" height="2" fill="#ff4a10"/><rect x="385.2" y="263" width="2" height="2" fill="#ff4a10"/><rect x="386.7" y="266" width="2" height="2" fill="#ff4a10"/><rect x="388.1" y="261.6" width="2" height="2" fill="#ff4a10"/><rect x="383" y="266.7" width="2" height="2" fill="#ff4a10"/><rect x="385.9" y="267.4" width="2" height="2" fill="#ff4a10"/><rect x="389.6" y="260.1" width="2" height="2" fill="#ff4a10"/><rect x="391.1" y="258.6" width="2" height="2" fill="#ff4a10"/><rect x="392.5" y="260.8" width="2" height="2" fill="#ff4a10"/><rect x="384.5" y="261.6" width="2" height="2" fill="#ff4a10"/><rect x="394" y="257.2" width="2" height="2" fill="#ff4a10"/><rect x="384.5" y="245.4" width="2" height="2" fill="#ff4a10"/><rect x="385.9" y="247.6" width="2" height="2" fill="#ff4a10"/><rect x="390.3" y="241.8" width="2" height="2" fill="#ff4a10"/><rect x="392.5" y="236.6" width="2" height="2" fill="#ff4a10"/><rect x="397.7" y="245.4" width="2" height="2" fill="#ff4a10"/><rect x="383.7" y="191.1" width="2" height="2" fill="#ff4a10"/><rect x="385.2" y="193.3" width="2" height="2" fill="#ff4a10"/><rect x="388.9" y="214.6" width="2" height="2" fill="#ff4a10"/><rect x="402.1" y="176.4" width="2" height="2" fill="#ff4a10"/><rect x="356.6" y="235.2" width="2" height="2" fill="#ff4a10"/><rect x="358" y="236.6" width="2" height="2" fill="#ff4a10"/><rect x="424.1" y="231.5" width="2" height="2" fill="#ff4a10"/><line x1="78.4" y1="40.7" x2="78.4" y2="548.9" stroke="#000" stroke-width="1.2" stroke-dasharray="2.8 5.4" fill="none"/><line x1="157.1" y1="40.7" x2="157.1" y2="548.9" stroke="#000" stroke-width="1.2" stroke-dasharray="2.8 5.4" fill="none"/><line x1="235.9" y1="40.7" x2="235.9" y2="548.9" stroke="#000" stroke-width="1.2" stroke-dasharray="2.8 5.4" fill="none"/><line x1="314.6" y1="40.7" x2="314.6" y2="548.9" stroke="#000" stroke-width="1.2" stroke-dasharray="2.8 5.4" fill="none"/><line x1="393.3" y1="40.7" x2="393.3" y2="548.9" stroke="#000" stroke-width="1.2" stroke-dasharray="2.8 5.4" fill="none"/><line x1="472.1" y1="40.7" x2="472.1" y2="548.9" stroke="#000" stroke-width="1.2" stroke-dasharray="2.8 5.4" fill="none"/><line x1="13.2" y1="113" x2="486.3" y2="113" stroke="#000" stroke-width="1.2" stroke-dasharray="2.8 5.4" fill="none"/><line x1="13.2" y1="197.7" x2="486.3" y2="197.7" stroke="#000" stroke-width="1.2" stroke-dasharray="2.8 5.4" fill="none"/><line x1="13.2" y1="282.3" x2="486.3" y2="282.3" stroke="#000" stroke-width="1.2" stroke-dasharray="2.8 5.4" fill="none"/><line x1="13.2" y1="367" x2="486.3" y2="367" stroke="#000" stroke-width="1.2" stroke-dasharray="2.8 5.4" fill="none"/><line x1="13.2" y1="451.7" x2="486.3" y2="451.7" stroke="#000" stroke-width="1.2" stroke-dasharray="2.8 5.4" fill="none"/><line x1="13.2" y1="536.4" x2="486.3" y2="536.4" stroke="#000" stroke-width="1.2" stroke-dasharray="2.8 5.4" fill="none"/><text x="78.4" y="303.2" font-size="11.8" text-anchor="middle" font-family="Liberation Sans, sans-serif">146</text><text x="157.1" y="303.2" font-size="11.8" text-anchor="middle" font-family="Liberation Sans, sans-serif">148</text><text x="235.9" y="303.2" font-size="11.8" text-anchor="middle" font-family="Liberation Sans, sans-serif">150</text><text x="314.6" y="303.2" font-size="11.8" text-anchor="middle" font-family="Liberation Sans, sans-serif">152</text><text x="393.3" y="303.2" font-size="11.8" text-anchor="middle" font-family="Liberation Sans, sans-serif">154</text><text x="472.1" y="303.2" font-size="11.8" text-anchor="middle" font-family="Liberation Sans, sans-serif">156</text><text x="255.8" y="112.4" font-size="11.8" text-anchor="middle" font-family="Liberation Sans, sans-serif">20</text><text x="255.8" y="197.1" font-size="11.8" text-anchor="middle" font-family="Liberation Sans, sans-serif">18</text><text x="255.8" y="281.7" font-size="11.8" text-anchor="middle" font-family="Liberation Sans, sans-serif">16</text><text x="255.8" y="366.4" font-size="11.8" text-anchor="middle" font-family="Liberation Sans, sans-serif">14</text><text x="255.8" y="451.1" font-size="11.8" text-anchor="middle" font-family="Liberation Sans, sans-serif">12</text><text x="255.8" y="535.8" font-size="11.8" text-anchor="middle" font-family="Liberation Sans, sans-serif">10</text><polyline points="13,40.7 84,81.2 154.7,123.2 225,165.5 295,208.7 390,270.5 481.4,333.5" stroke="#000" stroke-width="1.05" stroke-dasharray="12.1 11.6" fill="none"/><polyline points="197.6,40.7 256,76 314.8,111.9 393.8,162.1 440,193 485.6,224.2" stroke="#000" stroke-width="1.05" stroke-dasharray="12.1 11.6" fill="none"/><path d="M243.6 294.4H256.4M250 288V300.8" stroke="#000" stroke-width="4.2" fill="none"/><text x="37" y="65.6" font-size="25" font-family="Liberation Sans, sans-serif">2A23 rain types</text><text x="439.6" y="523.6" font-size="28" font-family="Liberation Sans, sans-serif">(h)</text><rect x="495" y="40.6" width="9" height="169.3" fill="#ff4800"/><rect x="495" y="209.9" width="9" height="169.3" fill="#0000ff"/><rect x="495.3" y="379.2" width="8.4" height="169.3" fill="#fff" stroke="#000" stroke-width="0.7"/><line x1="495" y1="40.6" x2="506.3" y2="40.6" stroke="#000" stroke-width="0.9"/><text x="507.5" y="48.5" font-size="19.1" font-family="Liberation Sans, sans-serif">Conv</text><line x1="495" y1="209.9" x2="506.3" y2="209.9" stroke="#000" stroke-width="0.9"/><text x="507.5" y="217.8" font-size="19.1" font-family="Liberation Sans, sans-serif">Strat</text><line x1="495" y1="379.2" x2="506.3" y2="379.2" stroke="#000" stroke-width="0.9"/><text x="507.5" y="387.1" font-size="19.1" font-family="Liberation Sans, sans-serif">N/A</text></g>
<g transform="translate(1181.3 1181.4)"><defs><pattern id="pi_g" width="35.2" height="35.2" patternUnits="userSpaceOnUse" patternTransform="rotate(-33)"><rect width="35.2" height="35.2" fill="#80d680"/><rect x="0" y="0" width="2.3" height="2.3" fill="#fff"/><rect x="0" y="2.2" width="2.3" height="2.3" fill="#8c8c8c"/><rect x="0" y="4.4" width="2.3" height="2.3" fill="#a0a0a0"/><rect x="0" y="13.2" width="2.3" height="2.3" fill="#8c8c8c"/><rect x="0" y="15.4" width="2.3" height="2.3" fill="#fff"/><rect x="0" y="19.8" width="2.3" height="2.3" fill="#8c8c8c"/><rect x="0" y="24.2" width="2.3" height="2.3" fill="#b8b8b8"/><rect x="0" y="28.6" width="2.3" height="2.3" fill="#fff"/><rect x="0" y="30.8" width="2.3" height="2.3" fill="#b8b8b8"/><rect x="2.2" y="2.2" width="2.3" height="2.3" fill="#74c874"/><rect x="2.2" y="13.2" width="2.3" height="2.3" fill="#b8b8b8"/><rect x="2.2" y="17.6" width="2.3" height="2.3" fill="#a0a0a0"/><rect x="2.2" y="19.8" width="2.3" height="2.3" fill="#74c874"/><rect x="2.2" y="22" width="2.3" height="2.3" fill="#74c874"/><rect x="2.2" y="24.2" width="2.3" height="2.3" fill="#b8b8b8"/><rect x="2.2" y="28.6" width="2.3" height="2.3" fill="#a0a0a0"/><rect x="2.2" y="30.8" width="2.3" height="2.3" fill="#74c874"/><rect x="2.2" y="33" width="2.3" height="2.3" fill="#b8b8b8"/><rect x="4.4" y="0" width="2.3" height="2.3" fill="#a0a0a0"/><rect x="4.4" y="2.2" width="2.3" height="2.3" fill="#8c8c8c"/><rect x="4.4" y="6.6" width="2.3" height="2.3" fill="#74c874"/><rect x="4.4" y="11" width="2.3" height="2.3" fill="#b8b8b8"/><rect x="4.4" y="15.4" width="2.3" height="2.3" fill="#b8b8b8"/><rect x="4.4" y="17.6" width="2.3" height="2.3" fill="#fff"/><rect x="4.4" y="24.2" width="2.3" height="2.3" fill="#74c874"/><rect x="4.4" y="26.4" width="2.3" height="2.3" fill="#b8b8b8"/><rect x="6.6" y="0" width="2.3" height="2.3" fill="#74c874"/><rect x="6.6" y="2.2" width="2.3" height="2.3" fill="#74c874"/><rect x="6.6" y="4.4" width="2.3" height="2.3" fill="#8c8c8c"/><rect x="6.6" y="17.6" width="2.3" height="2.3" fill="#fff"/><rect x="6.6" y="19.8" width="2.3" height="2.3" fill="#74c874"/><rect x="6.6" y="22" width="2.3" height="2.3" fill="#b8b8b8"/><rect x="6.6" y="26.4" width="2.3" height="2.3" fill="#b8b8b8"/><rect x="6.6" y="28.6" width="2.3" height="2.3" fill="#74c874"/><rect x="8.8" y="6.6" width="2.3" height="2.3" fill="#a0a0a0"/><rect x="8.8" y="11" width="2.3" height="2.3" fill="#a0a0a0"/><rect x="8.8" y="17.6" width="2.3" height="2.3" fill="#b8b8b8"/><rect x="8.8" y="19.8" width="2.3" height="2.3" fill="#74c874"/><rect x="8.8" y="26.4" width="2.3" height="2.3" fill="#8c8c8c"/><rect x="8.8" y="30.8" width="2.3" height="2.3" fill="#8c8c8c"/><rect x="11" y="0" width="2.3" height="2.3" fill="#8c8c8c"/><rect x="11" y="2.2" width="2.3" height="2.3" fill="#fff"/><rect x="11" y="4.4" width="2.3" height="2.3" fill="#74c874"/><rect x="11" y="6.6" width="2.3" height="2.3" fill="#b8b8b8"/><rect x="11" y="8.8" width="2.3" height="2.3" fill="#74c874"/><rect x="11" y="13.2" width="2.3" height="2.3" fill="#b8b8b8"/><rect x="11" y="15.4" width="2.3" height="2.3" fill="#8c8c8c"/><rect x="11" y="19.8" width="2.3" height="2.3" fill="#b8b8b8"/><rect x="11" y="24.2" width="2.3" height="2.3" fill="#74c874"/><rect x="11" y="26.4" width="2.3" height="2.3" fill="#74c874"/><rect x="11" y="28.6" width="2.3" height="2.3" fill="#fff"/><rect x="11" y="30.8" width="2.3" height="2.3" fill="#a0a0a0"/><rect x="11" y="33" width="2.3" height="2.3" fill="#8c8c8c"/><rect x="13.2" y="2.2" width="2.3" height="2.3" fill="#a0a0a0"/><rect x="13.2" y="4.4" width="2.3" height="2.3" fill="#a0a0a0"/><rect x="13.2" y="13.2" width="2.3" height="2.3" fill="#b8b8b8"/><rect x="13.2" y="15.4" width="2.3" height="2.3" fill="#b8b8b8"/><rect x="13.2" y="17.6" width="2.3" height="2.3" fill="#fff"/><rect x="13.2" y="19.8" width="2.3" height="2.3" fill="#8c8c8c"/><rect x="13.2" y="22" width="2.3" height="2.3" fill="#74c874"/><rect x="13.2" y="26.4" width="2.3" height="2.3" fill="#b8b8b8"/><rect x="13.2" y="28.6" width="2.3" height="2.3" fill="#74c874"/><rect x="13.2" y="33" width="2.3" height="2.3" fill="#b8b8b8"/><rect x="15.4" y="0" width="2.3" height="2.3" fill="#8c8c8c"/><rect x="15.4" y="2.2" width="2.3" height="2.3" fill="#8c8c8c"/><rect x="15.4" y="6.6" width="2.3" height="2.3" fill="#a0a0a0"/><rect x="15.4" y="11" width="2.3" height="2.3" fill="#a0a0a0"/><rect x="15.4" y="19.8" width="2.3" height="2.3" fill="#a0a0a0"/><rect x="17.6" y="0" width="2.3" height="2.3" fill="#fff"/><rect x="17.6" y="2.2" width="2.3" height="2.3" fill="#74c874"/><rect x="17.6" y="4.4" width="2.3" height="2.3" fill="#b8b8b8"/><rect x="17.6" y="6.6" width="2.3" height="2.3" fill="#a0a0a0"/><rect x="17.6" y="11" width="2.3" height="2.3" fill="#8c8c8c"/><rect x="17.6" y="13.2" width="2.3" height="2.3" fill="#a0a0a0"/><rect x="17.6" y="17.6" width="2.3" height="2.3" fill="#fff"/><rect x="17.6" y="19.8" width="2.3" height="2.3" fill="#a0a0a0"/><rect x="17.6" y="26.4" width="2.3" height="2.3" fill="#a0a0a0"/><rect x="17.6" y="33" width="2.3" height="2.3" fill="#b8b8b8"/><rect x="19.8" y="0" width="2.3" height="2.3" fill="#fff"/><rect x="19.8" y="4.4" width="2.3" height="2.3" fill="#b8b8b8"/><rect x="19.8" y="8.8" width="2.3" height="2.3" fill="#a0a0a0"/><rect x="19.8" y="11" width="2.3" height="2.3" fill="#fff"/><rect x="19.8" y="13.2" width="2.3" height="2.3" fill="#8c8c8c"/><rect x="19.8" y="19.8" width="2.3" height="2.3" fill="#a0a0a0"/><rect x="19.8" y="30.8" width="2.3" height="2.3" fill="#74c874"/><rect x="22" y="0" width="2.3" height="2.3" fill="#74c874"/><rect x="22" y="4.4" width="2.3" height="2.3" fill="#fff"/><rect x="22" y="6.6" width="2.3" height="2.3" fill="#fff"/><rect x="22" y="8.8" width="2.3" height="2.3" fill="#b8b8b8"/><rect x="22" y="15.4" width="2.3" height="2.3" fill="#fff"/><rect x="22" y="17.6" width="2.3" height="2.3" fill="#a0a0a0"/><rect x="22" y="24.2" width="2.3" height="2.3" fill="#b8b8b8"/><rect x="22" y="26.4" width="2.3" height="2.3" fill="#a0a0a0"/><rect x="22" y="30.8" width="2.3" height="2.3" fill="#a0a0a0"/><rect x="24.2" y="0" width="2.3" height="2.3" fill="#74c874"/><rect x="24.2" y="8.8" width="2.3" height="2.3" fill="#fff"/><rect x="24.2" y="11" width="2.3" height="2.3" fill="#fff"/><rect x="24.2" y="15.4" width="2.3" height="2.3" fill="#fff"/><rect x="24.2" y="22" width="2.3" height="2.3" fill="#8c8c8c"/><rect x="24.2" y="24.2" width="2.3" height="2.3" fill="#74c874"/><rect x="24.2" y="26.4" width="2.3" height="2.3" fill="#fff"/><rect x="24.2" y="28.6" width="2.3" height="2.3" fill="#74c874"/><rect x="24.2" y="30.8" width="2.3" height="2.3" fill="#8c8c8c"/><rect x="24.2" y="33" width="2.3" height="2.3" fill="#fff"/><rect x="26.4" y="0" width="2.3" height="2.3" fill="#74c874"/><rect x="26.4" y="8.8" width="2.3" height="2.3" fill="#b8b8b8"/><rect x="26.4" y="11" width="2.3" height="2.3" fill="#b8b8b8"/><rect x="26.4" y="17.6" width="2.3" height="2.3" fill="#74c874"/><rect x="26.4" y="30.8" width="2.3" height="2.3" fill="#8c8c8c"/><rect x="26.4" y="33" width="2.3" height="2.3" fill="#fff"/><rect x="28.6" y="0" width="2.3" height="2.3" fill="#fff"/><rect x="28.6" y="6.6" width="2.3" height="2.3" fill="#8c8c8c"/><rect x="28.6" y="11" width="2.3" height="2.3" fill="#8c8c8c"/><rect x="28.6" y="15.4" width="2.3" height="2.3" fill="#fff"/><rect x="28.6" y="17.6" width="2.3" height="2.3" fill="#fff"/><rect x="28.6" y="22" width="2.3" height="2.3" fill="#b8b8b8"/><rect x="28.6" y="24.2" width="2.3" height="2.3" fill="#fff"/><rect x="28.6" y="30.8" width="2.3" height="2.3" fill="#8c8c8c"/><rect x="28.6" y="33" width="2.3" height="2.3" fill="#74c874"/><rect x="30.8" y="0" width="2.3" height="2.3" fill="#fff"/><rect x="30.8" y="4.4" width="2.3" height="2.3" fill="#74c874"/><rect x="30.8" y="6.6" width="2.3" height="2.3" fill="#74c874"/><rect x="30.8" y="22" width="2.3" height="2.3" fill="#8c8c8c"/><rect x="30.8" y="28.6" width="2.3" height="2.3" fill="#fff"/><rect x="30.8" y="30.8" width="2.3" height="2.3" fill="#74c874"/><rect x="30.8" y="33" width="2.3" height="2.3" fill="#8c8c8c"/><rect x="33" y="2.2" width="2.3" height="2.3" fill="#74c874"/><rect x="33" y="6.6" width="2.3" height="2.3" fill="#a0a0a0"/><rect x="33" y="8.8" width="2.3" height="2.3" fill="#74c874"/><rect x="33" y="13.2" width="2.3" height="2.3" fill="#fff"/><rect x="33" y="15.4" width="2.3" height="2.3" fill="#a0a0a0"/><rect x="33" y="22" width="2.3" height="2.3" fill="#b8b8b8"/><rect x="33" y="26.4" width="2.3" height="2.3" fill="#a0a0a0"/><rect x="33" y="28.6" width="2.3" height="2.3" fill="#fff"/><rect x="33" y="30.8" width="2.3" height="2.3" fill="#8c8c8c"/><rect x="33" y="33" width="2.3" height="2.3" fill="#74c874"/></pattern><pattern id="pi_b" width="35.2" height="35.2" patternUnits="userSpaceOnUse" patternTransform="rotate(-33)"><rect width="35.2" height="35.2" fill="#a8c8ff"/><rect x="0" y="0" width="2.3" height="2.3" fill="#c4d2ff"/><rect x="0" y="2.2" width="2.3" height="2.3" fill="#80b4ff"/><rect x="0" y="8.8" width="2.3" height="2.3" fill="#5090ff"/><rect x="0" y="11" width="2.3" height="2.3" fill="#5090ff"/><rect x="0" y="13.2" width="2.3" height="2.3" fill="#c4d2ff"/><rect x="0" y="22" width="2.3" height="2.3" fill="#5090ff"/><rect x="0" y="24.2" width="2.3" height="2.3" fill="#80d680"/><rect x="0" y="26.4" width="2.3" height="2.3" fill="#80b4ff"/><rect x="0" y="30.8" width="2.3" height="2.3" fill="#c4d2ff"/><rect x="0" y="33" width="2.3" height="2.3" fill="#80d680"/><rect x="2.2" y="0" width="2.3" height="2.3" fill="#80d680"/><rect x="2.2" y="2.2" width="2.3" height="2.3" fill="#80b4ff"/><rect x="2.2" y="4.4" width="2.3" height="2.3" fill="#80b4ff"/><rect x="2.2" y="6.6" width="2.3" height="2.3" fill="#c4d2ff"/><rect x="2.2" y="11" width="2.3" height="2.3" fill="#80b4ff"/><rect x="2.2" y="13.2" width="2.3" height="2.3" fill="#c4d2ff"/><rect x="2.2" y="19.8" width="2.3" height="2.3" fill="#80b4ff"/><rect x="2.2" y="22" width="2.3" height="2.3" fill="#80b4ff"/><rect x="2.2" y="24.2" width="2.3" height="2.3" fill="#c4d2ff"/><rect x="2.2" y="26.4" width="2.3" height="2.3" fill="#c4d2ff"/><rect x="2.2" y="28.6" width="2.3" height="2.3" fill="#80b4ff"/><rect x="2.2" y="30.8" width="2.3" height="2.3" fill="#80b4ff"/><rect x="4.4" y="2.2" width="2.3" height="2.3" fill="#80b4ff"/><rect x="4.4" y="6.6" width="2.3" height="2.3" fill="#80d680"/><rect x="4.4" y="8.8" width="2.3" height="2.3" fill="#80b4ff"/><rect x="4.4" y="13.2" width="2.3" height="2.3" fill="#5090ff"/><rect x="4.4" y="15.4" width="2.3" height="2.3" fill="#80d680"/><rect x="4.4" y="17.6" width="2.3" height="2.3" fill="#c4d2ff"/><rect x="4.4" y="19.8" width="2.3" height="2.3" fill="#c4d2ff"/><rect x="4.4" y="22" width="2.3" height="2.3" fill="#c4d2ff"/><rect x="4.4" y="24.2" width="2.3" height="2.3" fill="#5090ff"/><rect x="4.4" y="26.4" width="2.3" height="2.3" fill="#80b4ff"/><rect x="4.4" y="30.8" width="2.3" height="2.3" fill="#80d680"/><rect x="4.4" y="33" width="2.3" height="2.3" fill="#80b4ff"/><rect x="6.6" y="2.2" width="2.3" height="2.3" fill="#80b4ff"/><rect x="6.6" y="4.4" width="2.3" height="2.3" fill="#80d680"/><rect x="6.6" y="8.8" width="2.3" height="2.3" fill="#80b4ff"/><rect x="6.6" y="11" width="2.3" height="2.3" fill="#80d680"/><rect x="6.6" y="13.2" width="2.3" height="2.3" fill="#c4d2ff"/><rect x="6.6" y="15.4" width="2.3" height="2.3" fill="#5090ff"/><rect x="6.6" y="17.6" width="2.3" height="2.3" fill="#5090ff"/><rect x="6.6" y="19.8" width="2.3" height="2.3" fill="#80d680"/><rect x="6.6" y="22" width="2.3" height="2.3" fill="#80b4ff"/><rect x="6.6" y="24.2" width="2.3" height="2.3" fill="#5090ff"/><rect x="6.6" y="26.4" width="2.3" height="2.3" fill="#5090ff"/><rect x="6.6" y="28.6" width="2.3" height="2.3" fill="#c4d2ff"/><rect x="6.6" y="30.8" width="2.3" height="2.3" fill="#c4d2ff"/><rect x="6.6" y="33" width="2.3" height="2.3" fill="#80b4ff"/><rect x="8.8" y="0" width="2.3" height="2.3" fill="#80b4ff"/><rect x="8.8" y="8.8" width="2.3" height="2.3" fill="#5090ff"/><rect x="8.8" y="13.2" width="2.3" height="2.3" fill="#80b4ff"/><rect x="8.8" y="15.4" width="2.3" height="2.3" fill="#80d680"/><rect x="8.8" y="17.6" width="2.3" height="2.3" fill="#80d680"/><rect x="8.8" y="22" width="2.3" height="2.3" fill="#5090ff"/><rect x="8.8" y="26.4" width="2.3" height="2.3" fill="#80b4ff"/><rect x="8.8" y="28.6" width="2.3" height="2.3" fill="#c4d2ff"/><rect x="8.8" y="33" width="2.3" height="2.3" fill="#c4d2ff"/><rect x="11" y="2.2" width="2.3" height="2.3" fill="#5090ff"/><rect x="11" y="4.4" width="2.3" height="2.3" fill="#c4d2ff"/><rect x="11" y="11" width="2.3" height="2.3" fill="#5090ff"/><rect x="11" y="13.2" width="2.3" height="2.3" fill="#80b4ff"/><rect x="11" y="15.4" width="2.3" height="2.3" fill="#c4d2ff"/><rect x="11" y="17.6" width="2.3" height="2.3" fill="#80b4ff"/><rect x="11" y="19.8" width="2.3" height="2.3" fill="#5090ff"/><rect x="11" y="24.2" width="2.3" height="2.3" fill="#80d680"/><rect x="11" y="26.4" width="2.3" height="2.3" fill="#80b4ff"/><rect x="11" y="30.8" width="2.3" height="2.3" fill="#80d680"/><rect x="11" y="33" width="2.3" height="2.3" fill="#c4d2ff"/><rect x="13.2" y="0" width="2.3" height="2.3" fill="#80b4ff"/><rect x="13.2" y="8.8" width="2.3" height="2.3" fill="#c4d2ff"/><rect x="13.2" y="11" width="2.3" height="2.3" fill="#80b4ff"/><rect x="13.2" y="13.2" width="2.3" height="2.3" fill="#80d680"/><rect x="13.2" y="15.4" width="2.3" height="2.3" fill="#80d680"/><rect x="13.2" y="17.6" width="2.3" height="2.3" fill="#c4d2ff"/><rect x="13.2" y="22" width="2.3" height="2.3" fill="#80b4ff"/><rect x="13.2" y="24.2" width="2.3" height="2.3" fill="#c4d2ff"/><rect x="13.2" y="26.4" width="2.3" height="2.3" fill="#80b4ff"/><rect x="13.2" y="28.6" width="2.3" height="2.3" fill="#5090ff"/><rect x="15.4" y="0" width="2.3" height="2.3" fill="#80b4ff"/><rect x="15.4" y="6.6" width="2.3" height="2.3" fill="#80b4ff"/><rect x="15.4" y="13.2" width="2.3" height="2.3" fill="#80b4ff"/><rect x="15.4" y="17.6" width="2.3" height="2.3" fill="#80b4ff"/><rect x="15.4" y="19.8" width="2.3" height="2.3" fill="#80b4ff"/><rect x="15.4" y="22" width="2.3" height="2.3" fill="#80b4ff"/><rect x="15.4" y="24.2" width="2.3" height="2.3" fill="#c4d2ff"/><rect x="15.4" y="28.6" width="2.3" height="2.3" fill="#5090ff"/><rect x="15.4" y="30.8" width="2.3" height="2.3" fill="#80d680"/><rect x="17.6" y="2.2" width="2.3" height="2.3" fill="#80b4ff"/><rect x="17.6" y="4.4" width="2.3" height="2.3" fill="#80d680"/><rect x="17.6" y="6.6" width="2.3" height="2.3" fill="#c4d2ff"/><rect x="17.6" y="8.8" width="2.3" height="2.3" fill="#5090ff"/><rect x="17.6" y="11" width="2.3" height="2.3" fill="#80b4ff"/><rect x="17.6" y="13.2" width="2.3" height="2.3" fill="#c4d2ff"/><rect x="17.6" y="15.4" width="2.3" height="2.3" fill="#80b4ff"/><rect x="17.6" y="17.6" width="2.3" height="2.3" fill="#5090ff"/><rect x="17.6" y="19.8" width="2.3" height="2.3" fill="#80d680"/><rect x="17.6" y="22" width="2.3" height="2.3" fill="#c4d2ff"/><rect x="17.6" y="24.2" width="2.3" height="2.3" fill="#80b4ff"/><rect x="17.6" y="26.4" width="2.3" height="2.3" fill="#80d680"/><rect x="17.6" y="30.8" width="2.3" height="2.3" fill="#80b4ff"/><rect x="19.8" y="0" width="2.3" height="2.3" fill="#5090ff"/><rect x="19.8" y="2.2" width="2.3" height="2.3" fill="#c4d2ff"/><rect x="19.8" y="4.4" width="2.3" height="2.3" fill="#80b4ff"/><rect x="19.8" y="6.6" width="2.3" height="2.3" fill="#80b4ff"/><rect x="19.8" y="8.8" width="2.3" height="2.3" fill="#80b4ff"/><rect x="19.8" y="11" width="2.3" height="2.3" fill="#80d680"/><rect x="19.8" y="15.4" width="2.3" height="2.3" fill="#5090ff"/><rect x="19.8" y="17.6" width="2.3" height="2.3" fill="#c4d2ff"/><rect x="19.8" y="19.8" width="2.3" height="2.3" fill="#5090ff"/><rect x="19.8" y="22" width="2.3" height="2.3" fill="#c4d2ff"/><rect x="22" y="0" width="2.3" height="2.3" fill="#c4d2ff"/><rect x="22" y="2.2" width="2.3" height="2.3" fill="#80d680"/><rect x="22" y="6.6" width="2.3" height="2.3" fill="#c4d2ff"/><rect x="22" y="8.8" width="2.3" height="2.3" fill="#80d680"/><rect x="22" y="13.2" width="2.3" height="2.3" fill="#80d680"/><rect x="22" y="15.4" width="2.3" height="2.3" fill="#5090ff"/><rect x="22" y="17.6" width="2.3" height="2.3" fill="#80d680"/><rect x="22" y="19.8" width="2.3" height="2.3" fill="#c4d2ff"/><rect x="22" y="22" width="2.3" height="2.3" fill="#80b4ff"/><rect x="22" y="28.6" width="2.3" height="2.3" fill="#80d680"/><rect x="22" y="30.8" width="2.3" height="2.3" fill="#80b4ff"/><rect x="22" y="33" width="2.3" height="2.3" fill="#5090ff"/><rect x="24.2" y="2.2" width="2.3" height="2.3" fill="#c4d2ff"/><rect x="24.2" y="4.4" width="2.3" height="2.3" fill="#5090ff"/><rect x="24.2" y="6.6" width="2.3" height="2.3" fill="#c4d2ff"/><rect x="24.2" y="8.8" width="2.3" height="2.3" fill="#c4d2ff"/><rect x="24.2" y="11" width="2.3" height="2.3" fill="#5090ff"/><rect x="24.2" y="13.2" width="2.3" height="2.3" fill="#5090ff"/><rect x="24.2" y="15.4" width="2.3" height="2.3" fill="#5090ff"/><rect x="24.2" y="19.8" width="2.3" height="2.3" fill="#c4d2ff"/><rect x="24.2" y="22" width="2.3" height="2.3" fill="#5090ff"/><rect x="24.2" y="24.2" width="2.3" height="2.3" fill="#5090ff"/><rect x="24.2" y="26.4" width="2.3" height="2.3" fill="#c4d2ff"/><rect x="24.2" y="30.8" width="2.3" height="2.3" fill="#5090ff"/><rect x="24.2" y="33" width="2.3" height="2.3" fill="#c4d2ff"/><rect x="26.4" y="0" width="2.3" height="2.3" fill="#5090ff"/><rect x="26.4" y="2.2" width="2.3" height="2.3" fill="#c4d2ff"/><rect x="26.4" y="8.8" width="2.3" height="2.3" fill="#80b4ff"/><rect x="26.4" y="11" width="2.3" height="2.3" fill="#80b4ff"/><rect x="26.4" y="13.2" width="2.3" height="2.3" fill="#c4d2ff"/><rect x="26.4" y="15.4" width="2.3" height="2.3" fill="#80d680"/><rect x="26.4" y="17.6" width="2.3" height="2.3" fill="#c4d2ff"/><rect x="26.4" y="19.8" width="2.3" height="2.3" fill="#c4d2ff"/><rect x="26.4" y="22" width="2.3" height="2.3" fill="#5090ff"/><rect x="26.4" y="24.2" width="2.3" height="2.3" fill="#80b4ff"/><rect x="26.4" y="26.4" width="2.3" height="2.3" fill="#c4d2ff"/><rect x="26.4" y="28.6" width="2.3" height="2.3" fill="#80b4ff"/><rect x="26.4" y="33" width="2.3" height="2.3" fill="#80b4ff"/><rect x="28.6" y="0" width="2.3" height="2.3" fill="#80d680"/><rect x="28.6" y="4.4" width="2.3" height="2.3" fill="#80d680"/><rect x="28.6" y="6.6" width="2.3" height="2.3" fill="#5090ff"/><rect x="28.6" y="19.8" width="2.3" height="2.3" fill="#5090ff"/><rect x="28.6" y="22" width="2.3" height="2.3" fill="#5090ff"/><rect x="28.6" y="26.4" width="2.3" height="2.3" fill="#5090ff"/><rect x="28.6" y="28.6" width="2.3" height="2.3" fill="#c4d2ff"/><rect x="28.6" y="30.8" width="2.3" height="2.3" fill="#80d680"/><rect x="28.6" y="33" width="2.3" height="2.3" fill="#c4d2ff"/><rect x="30.8" y="0" width="2.3" height="2.3" fill="#80b4ff"/><rect x="30.8" y="2.2" width="2.3" height="2.3" fill="#80b4ff"/><rect x="30.8" y="6.6" width="2.3" height="2.3" fill="#5090ff"/><rect x="30.8" y="11" width="2.3" height="2.3" fill="#80b4ff"/><rect x="30.8" y="13.2" width="2.3" height="2.3" fill="#5090ff"/><rect x="30.8" y="15.4" width="2.3" height="2.3" fill="#80d680"/><rect x="30.8" y="17.6" width="2.3" height="2.3" fill="#c4d2ff"/><rect x="30.8" y="24.2" width="2.3" height="2.3" fill="#80b4ff"/><rect x="30.8" y="26.4" width="2.3" height="2.3" fill="#80b4ff"/><rect x="30.8" y="28.6" width="2.3" height="2.3" fill="#5090ff"/><rect x="30.8" y="30.8" width="2.3" height="2.3" fill="#5090ff"/><rect x="33" y="0" width="2.3" height="2.3" fill="#80b4ff"/><rect x="33" y="6.6" width="2.3" height="2.3" fill="#c4d2ff"/><rect x="33" y="11" width="2.3" height="2.3" fill="#5090ff"/><rect x="33" y="13.2" width="2.3" height="2.3" fill="#80d680"/><rect x="33" y="15.4" width="2.3" height="2.3" fill="#c4d2ff"/><rect x="33" y="17.6" width="2.3" height="2.3" fill="#80b4ff"/><rect x="33" y="24.2" width="2.3" height="2.3" fill="#c4d2ff"/><rect x="33" y="30.8" width="2.3" height="2.3" fill="#5090ff"/><rect x="33" y="33" width="2.3" height="2.3" fill="#80d680"/></pattern></defs><path d="M314,214.6 315.5,211.7 316.9,209.8 319.1,210.9 321.3,208.7 324.3,206.5 327.2,205.1 330.2,202.9 333.1,199.9 335.3,197.7 337.5,195.5 339,193.3 341.2,191.1 344.1,192.6 347,194 349.2,197 351.4,198.4 354.4,197 356.6,194 359.5,191.1 362.5,188.9 364.7,186.7 365.4,183.8 363.9,180.8 361.7,179.4 359.5,177.9 358,179.4 355.8,181.6 353.6,183.8 352.9,182.3 355.1,180.1 358,177.9 361,176.4 363.9,175 365.4,173.5 368.3,172 372,171.3 374.2,169.8 377.1,169.1 380.1,168.4 382.3,167.6 383.7,165.4 383,162.5 380.8,160.3 379.3,161 377.9,161.7 379.3,159.5 382.3,158.1 384.5,158.4 408.3,172 408,175 408.7,177.9 407.2,179.4 405,180.8 404.7,184.5 405.4,188.2 407.2,190 409.4,188.2 412.4,186 414.6,184.5 416,181.6 418.2,179.4 430.7,187.4 430,189.6 428.5,191.1 429.3,194 430,197 428.5,199.2 425.6,200.6 422.6,202.1 421.9,205.1 422.6,208.7 424.1,211.7 426.3,213.9 427,216.1 424.1,216.4 421.2,217.2 419.7,219 421.9,221.6 422.6,224.1 419.7,226.3 417.5,228.5 418.2,230.7 416.8,232.9 414.6,234.4 412.4,235.9 415.3,238.8 418.2,241.4 414.6,241 412.4,243.2 410.9,245.4 411.6,248.4 410.9,251.3 411.6,254.2 409.4,255.7 407.2,257.2 404.3,257.9 402.8,260.1 403.6,263 401.4,264.5 398.4,265.2 396.2,266.7 394,267.4 391.8,266.7 391.1,268.9 388.9,271.1 361,252 363.2,250.6 366.1,249.8 368.3,248.4 370.5,246.9 369.8,244.7 367.6,245.4 366.1,244 367.6,242.5 369.1,241 368.3,238.8 366.9,236.6 367.6,234.4 369.8,232.9 372,234.4 374.2,232.2 375.7,230.7 377.9,231.5 380.1,230.7 382.3,229.3 384.5,230 386.7,231.5 388.9,232.9 390.3,230.7 391.1,227.8 391.8,224.9 392.5,221.9 393.3,219 392.5,216.1 390.3,215.3 388.1,214.6 386.7,216.1 385.2,214.6 383,213.9 382.3,211.7 380.1,210.2 377.9,209.8 375.7,210.2 374.2,211.7 375.7,213.1 377.9,214.6 378.6,216.8 375.7,218.3 373.5,219 372,218.3 371.3,220.5 368.3,221.2 365.4,222.7 362.5,224.1 359.5,226.3 357.3,228.5 355.1,230.7 353.6,233.7 352.2,235.2 350.7,237.4 349.2,238.8 347,239.6 344.8,241 321.3,225.6 324.3,222.7 327.2,220.5 328,217.5 330.2,215.3 330.9,213.1 328.7,212.4 326.5,213.9 324.3,214.6 321.3,215.3 318.4,216.1 315.5,216.8ZM338.2,222.7 340.4,221.2 342.6,220.5 344.1,218.3 346.3,216.8 349.2,216.1 351.4,216.8 350,219 347.8,221.2 345.6,223.4 343.4,224.9 340.4,225.2 338.6,224.5ZM397.7,216.1 399.9,214.6 401.4,216.1 402.1,219 404.3,220.5 405.8,222.7 405,224.9 402.8,224.1 400.6,222.7 398.4,221.9 397.3,219ZM411.6,213.1 413.8,211.7 416.8,212.4 419.7,213.1 422.6,213.9 424.1,215.3 421.9,216.1 419,216.1 416.8,217.5 414.6,218.3 412.4,217.5ZM402.8,230 405,228.5 408,229.3 408.7,231.5 406.5,232.9 403.6,232.6ZM413.8,200.6 414.9,199.5 416.4,199.9 417.1,201.4 416.4,202.9 414.9,203 413.8,202.1ZM391.1,195.5 393.3,195.5 393.3,200.6 391.1,200.6Z" fill="url(#pi_g)" fill-rule="evenodd"/><polygon points="323.5,209.5 326.5,207.3 330.2,205.1 333.8,201.4 337.5,198.4 341.2,197.7 344.1,199.9 346.3,202.9 349.2,204.3 352.2,202.9 350.7,205.8 347.8,208 344.8,208.7 341.9,207.3 339,208.7 336,208 333.1,208.7 330.2,208 327.2,209.5 324.3,210.6" fill="url(#pi_b)"/><polygon points="350.7,202.9 353.6,199.9 356.6,197 359.5,194 362.5,193.3 365.4,191.1 368.3,189.6 371.3,188.2 374.2,188.9 375.7,191.1 376,194 374.9,197.7 373.5,201.4 372,204.3 369.8,205.8 367.6,208 368.3,210.9 367.6,213.9 366.1,216.1 363.9,217.5 361,217.5 358,216.1 356.6,213.9 354.4,211.7 353.6,208.7 354.4,206.5 352.2,205.8" fill="url(#pi_b)"/><polygon points="382.3,205.8 384.5,204.3 387.4,205.1 390.3,206.5 393.3,207.3 396.2,205.8 399.2,202.9 401.4,200.6 403.6,198.4 406.5,197.7 412.4,197 413.1,198.4 408.7,199.9 405.8,201.4 403.6,204.3 400.6,207.3 397.7,209.5 394,210.2 390.3,210.9 388.9,213.1 386.7,210.9 383.7,209.5 381.9,208" fill="url(#pi_b)"/><polygon points="377.9,234.4 381.5,233.7 385.2,235.2 387.4,238.1 390.3,236.6 394,234.4 396.2,232.9 397.7,235.2 397,238.1 399.9,240.3 402.1,243.2 405,244 408,245.4 408.7,248.4 407.2,251.3 405,254.2 402.8,256.4 400.6,259.4 399.2,262.3 396.2,263.8 393.3,263 390.3,264.5 388.9,267.4 386.7,268.9 384.5,266.7 382.3,264.5 379.3,262.3 375.7,260.1 372.7,257.9 371.3,256.4 373.5,255 375.7,252.8 377.9,250.6 378.6,247.6 377.1,244.7 377.9,241.8 379.3,238.8 378.6,236.6" fill="url(#pi_b)"/><polygon points="383,255.7 387.4,255 389.6,257.9 386.7,260.1 383.7,258.6" fill="#3060f8"/><ellipse cx="301.1" cy="172.3" rx="1.4" ry="3.1" fill="#cccccc" transform="rotate(35 301.1 172.3)"/><ellipse cx="305.4" cy="179.4" rx="1.6" ry="1.8" fill="#cccccc" transform="rotate(0 305.4 179.4)"/><ellipse cx="307.2" cy="186.2" rx="7.2" ry="1.7" fill="#cccccc" transform="rotate(-32 307.2 186.2)"/><ellipse cx="303.9" cy="199.2" rx="7" ry="1.9" fill="#cccccc" transform="rotate(-18 303.9 199.2)"/><ellipse cx="320.2" cy="160.8" rx="2.9" ry="1.2" fill="#cccccc" transform="rotate(-30 320.2 160.8)"/><ellipse cx="334.3" cy="165.6" rx="2.2" ry="2.9" fill="#cccccc" transform="rotate(20 334.3 165.6)"/><ellipse cx="339.9" cy="162.5" rx="2.6" ry="1.1" fill="#cccccc" transform="rotate(-40 339.9 162.5)"/><ellipse cx="326.5" cy="172.3" rx="1.2" ry="1.1" fill="#cccccc" transform="rotate(0 326.5 172.3)"/><ellipse cx="315.9" cy="175.5" rx="3.4" ry="1.1" fill="#cccccc" transform="rotate(-25 315.9 175.5)"/><ellipse cx="357.6" cy="179.7" rx="3.4" ry="1.6" fill="#80d680" transform="rotate(-30 357.6 179.7)"/><ellipse cx="287" cy="202" rx="0.8" ry="2.4" fill="#cccccc" transform="rotate(10 287 202)"/><ellipse cx="306.8" cy="212.6" rx="3.1" ry="1.3" fill="#cccccc" transform="rotate(-40 306.8 212.6)"/><ellipse cx="311.7" cy="182.9" rx="2.4" ry="1.1" fill="#cccccc" transform="rotate(-30 311.7 182.9)"/><ellipse cx="415.9" cy="267.2" rx="1.9" ry="3.8" fill="#80d680" transform="rotate(25 415.9 267.2)"/><ellipse cx="424.2" cy="291.6" rx="1.9" ry="1.2" fill="#80d680" transform="rotate(-20 424.2 291.6)"/><ellipse cx="352.9" cy="243.6" rx="1.4" ry="1.1" fill="#80d680" transform="rotate(-30 352.9 243.6)"/><ellipse cx="358.6" cy="246.9" rx="1.8" ry="1.3" fill="#80d680" transform="rotate(-20 358.6 246.9)"/><rect x="299" y="159.6" width="1.6" height="1.6" fill="#dcdcdc"/><rect x="307.5" y="160.4" width="1.6" height="1.6" fill="#dcdcdc"/><rect x="331.5" y="157.5" width="1.6" height="1.6" fill="#dcdcdc"/><rect x="310.3" y="168.1" width="1.6" height="1.6" fill="#dcdcdc"/><rect x="314.5" y="166.7" width="1.6" height="1.6" fill="#dcdcdc"/><rect x="335.7" y="170.9" width="1.6" height="1.6" fill="#dcdcdc"/><rect x="342.8" y="169.5" width="1.6" height="1.6" fill="#dcdcdc"/><rect x="347" y="174.5" width="1.6" height="1.6" fill="#dcdcdc"/><rect x="294.8" y="182.2" width="1.6" height="1.6" fill="#dcdcdc"/><rect x="285.6" y="182.9" width="1.6" height="1.6" fill="#dcdcdc"/><rect x="281.4" y="190.7" width="1.6" height="1.6" fill="#dcdcdc"/><rect x="290.5" y="194.2" width="1.6" height="1.6" fill="#dcdcdc"/><rect x="320.2" y="191.4" width="1.6" height="1.6" fill="#dcdcdc"/><rect x="323.7" y="185.8" width="1.6" height="1.6" fill="#dcdcdc"/><rect x="329.4" y="187.9" width="1.6" height="1.6" fill="#dcdcdc"/><rect x="334.3" y="191.4" width="1.6" height="1.6" fill="#dcdcdc"/><rect x="341.4" y="184.3" width="1.6" height="1.6" fill="#dcdcdc"/><rect x="347" y="183.6" width="1.6" height="1.6" fill="#dcdcdc"/><rect x="350.5" y="192.1" width="1.6" height="1.6" fill="#dcdcdc"/><rect x="291.9" y="192.1" width="1.6" height="1.6" fill="#dcdcdc"/><rect x="373.8" y="163.9" width="1.6" height="1.6" fill="#dcdcdc"/><rect x="366.8" y="167.4" width="1.6" height="1.6" fill="#dcdcdc"/><rect x="428.2" y="279.6" width="1.6" height="1.6" fill="#dcdcdc"/><line x1="78.4" y1="40.7" x2="78.4" y2="548.9" stroke="#000" stroke-width="1.2" stroke-dasharray="2.8 5.4" fill="none"/><line x1="157.1" y1="40.7" x2="157.1" y2="548.9" stroke="#000" stroke-width="1.2" stroke-dasharray="2.8 5.4" fill="none"/><line x1="235.9" y1="40.7" x2="235.9" y2="548.9" stroke="#000" stroke-width="1.2" stroke-dasharray="2.8 5.4" fill="none"/><line x1="314.6" y1="40.7" x2="314.6" y2="548.9" stroke="#000" stroke-width="1.2" stroke-dasharray="2.8 5.4" fill="none"/><line x1="393.3" y1="40.7" x2="393.3" y2="548.9" stroke="#000" stroke-width="1.2" stroke-dasharray="2.8 5.4" fill="none"/><line x1="472.1" y1="40.7" x2="472.1" y2="548.9" stroke="#000" stroke-width="1.2" stroke-dasharray="2.8 5.4" fill="none"/><line x1="13.2" y1="113" x2="486.3" y2="113" stroke="#000" stroke-width="1.2" stroke-dasharray="2.8 5.4" fill="none"/><line x1="13.2" y1="197.7" x2="486.3" y2="197.7" stroke="#000" stroke-width="1.2" stroke-dasharray="2.8 5.4" fill="none"/><line x1="13.2" y1="282.3" x2="486.3" y2="282.3" stroke="#000" stroke-width="1.2" stroke-dasharray="2.8 5.4" fill="none"/><line x1="13.2" y1="367" x2="486.3" y2="367" stroke="#000" stroke-width="1.2" stroke-dasharray="2.8 5.4" fill="none"/><line x1="13.2" y1="451.7" x2="486.3" y2="451.7" stroke="#000" stroke-width="1.2" stroke-dasharray="2.8 5.4" fill="none"/><line x1="13.2" y1="536.4" x2="486.3" y2="536.4" stroke="#000" stroke-width="1.2" stroke-dasharray="2.8 5.4" fill="none"/><text x="78.4" y="303.2" font-size="11.8" text-anchor="middle" font-family="Liberation Sans, sans-serif">146</text><text x="157.1" y="303.2" font-size="11.8" text-anchor="middle" font-family="Liberation Sans, sans-serif">148</text><text x="235.9" y="303.2" font-size="11.8" text-anchor="middle" font-family="Liberation Sans, sans-serif">150</text><text x="314.6" y="303.2" font-size="11.8" text-anchor="middle" font-family="Liberation Sans, sans-serif">152</text><text x="393.3" y="303.2" font-size="11.8" text-anchor="middle" font-family="Liberation Sans, sans-serif">154</text><text x="472.1" y="303.2" font-size="11.8" text-anchor="middle" font-family="Liberation Sans, sans-serif">156</text><text x="255.8" y="112.4" font-size="11.8" text-anchor="middle" font-family="Liberation Sans, sans-serif">20</text><text x="255.8" y="197.1" font-size="11.8" text-anchor="middle" font-family="Liberation Sans, sans-serif">18</text><text x="255.8" y="281.7" font-size="11.8" text-anchor="middle" font-family="Liberation Sans, sans-serif">16</text><text x="255.8" y="366.4" font-size="11.8" text-anchor="middle" font-family="Liberation Sans, sans-serif">14</text><text x="255.8" y="451.1" font-size="11.8" text-anchor="middle" font-family="Liberation Sans, sans-serif">12</text><text x="255.8" y="535.8" font-size="11.8" text-anchor="middle" font-family="Liberation Sans, sans-serif">10</text><polyline points="13,40.7 84,81.2 154.7,123.2 225,165.5 295,208.7 390,270.5 481.4,333.5" stroke="#000" stroke-width="1.05" stroke-dasharray="12.1 11.6" fill="none"/><polyline points="197.6,40.7 256,76 314.8,111.9 393.8,162.1 440,193 485.6,224.2" stroke="#000" stroke-width="1.05" stroke-dasharray="12.1 11.6" fill="none"/><path d="M243.6 294.4H256.4M250 288V300.8" stroke="#000" stroke-width="4.2" fill="none"/><text x="37" y="65.6" font-size="25" font-family="Liberation Sans, sans-serif">2A23 storm height (km)</text><text x="439.6" y="523.6" font-size="28" font-family="Liberation Sans, sans-serif">(i)</text><rect x="495" y="540" width="9" height="8.8" fill="#ffffff"/><rect x="495" y="531.6" width="9" height="8.8" fill="#f7f7f7"/><rect x="495" y="523.1" width="9" height="8.8" fill="#f0f0f0"/><rect x="495" y="514.6" width="9" height="8.8" fill="#e8e8e8"/><rect x="495" y="506.2" width="9" height="8.8" fill="#e1e1e1"/><rect x="495" y="497.7" width="9" height="8.8" fill="#d9d9d9"/><rect x="495" y="489.2" width="9" height="8.8" fill="#d2d2d2"/><rect x="495" y="480.8" width="9" height="8.8" fill="#cacaca"/><rect x="495" y="472.3" width="9" height="8.8" fill="#c3c3c3"/><rect x="495" y="463.9" width="9" height="8.8" fill="#bbbbbb"/><rect x="495" y="455.4" width="9" height="8.8" fill="#b4b4b4"/><rect x="495" y="446.9" width="9" height="8.8" fill="#acacac"/><rect x="495" y="438.5" width="9" height="8.8" fill="#a5a5a5"/><rect x="495" y="430" width="9" height="8.8" fill="#9d9d9d"/><rect x="495" y="421.5" width="9" height="8.8" fill="#969696"/><rect x="495" y="413.1" width="9" height="8.8" fill="#86e286"/><rect x="495" y="404.6" width="9" height="8.8" fill="#7ed87e"/><rect x="495" y="396.1" width="9" height="8.8" fill="#76ce76"/><rect x="495" y="387.7" width="9" height="8.8" fill="#6ec46e"/><rect x="495" y="379.2" width="9" height="8.8" fill="#66ba66"/><rect x="495" y="370.7" width="9" height="8.8" fill="#ccd4ff"/><rect x="495" y="362.3" width="9" height="8.8" fill="#b8ccff"/><rect x="495" y="353.8" width="9" height="8.8" fill="#a2c4ff"/><rect x="495" y="345.3" width="9" height="8.8" fill="#84baff"/><rect x="495" y="336.9" width="9" height="8.8" fill="#66b2ff"/><rect x="495" y="328.4" width="9" height="8.8" fill="#50a8ff"/><rect x="495" y="319.9" width="9" height="8.8" fill="#4488ff"/><rect x="495" y="311.5" width="9" height="8.8" fill="#4068ff"/><rect x="495" y="303" width="9" height="8.8" fill="#3a4aff"/><rect x="495" y="294.6" width="9" height="8.8" fill="#3030ff"/><rect x="495" y="286.1" width="9" height="8.8" fill="#0000ff"/><rect x="495" y="277.6" width="9" height="8.8" fill="#0000f0"/><rect x="495" y="269.2" width="9" height="8.8" fill="#0000e0"/><rect x="495" y="260.7" width="9" height="8.8" fill="#0000d0"/><rect x="495" y="252.2" width="9" height="8.8" fill="#0000c0"/><rect x="495" y="243.8" width="9" height="8.8" fill="#ffff00"/><rect x="495" y="235.3" width="9" height="8.8" fill="#fff000"/><rect x="495" y="226.8" width="9" height="8.8" fill="#ffe400"/><rect x="495" y="218.4" width="9" height="8.8" fill="#ffd800"/><rect x="495" y="209.9" width="9" height="8.8" fill="#ffcc00"/><rect x="495" y="201.4" width="9" height="8.8" fill="#ff9000"/><rect x="495" y="193" width="9" height="8.8" fill="#ff8a00"/><rect x="495" y="184.5" width="9" height="8.8" fill="#ff8400"/><rect x="495" y="176" width="9" height="8.8" fill="#ff7e00"/><rect x="495" y="167.6" width="9" height="8.8" fill="#ff7800"/><rect x="495" y="159.1" width="9" height="8.8" fill="#ff4600"/><rect x="495" y="150.6" width="9" height="8.8" fill="#ff3a00"/><rect x="495" y="142.2" width="9" height="8.8" fill="#ff3000"/><rect x="495" y="133.7" width="9" height="8.8" fill="#ff2600"/><rect x="495" y="125.2" width="9" height="8.8" fill="#ff1a08"/><rect x="495" y="116.8" width="9" height="8.8" fill="#cc0000"/><rect x="495" y="108.3" width="9" height="8.8" fill="#c00000"/><rect x="495" y="99.9" width="9" height="8.8" fill="#b40400"/><rect x="495" y="91.4" width="9" height="8.8" fill="#a80800"/><rect x="495" y="82.9" width="9" height="8.8" fill="#9c0c04"/><rect x="495" y="74.5" width="9" height="8.8" fill="#661004"/><rect x="495" y="66" width="9" height="8.8" fill="#621208"/><rect x="495" y="57.5" width="9" height="8.8" fill="#5e1410"/><rect x="495" y="49.1" width="9" height="8.8" fill="#5c1814"/><rect x="495" y="40.6" width="9" height="8.8" fill="#5a1c1c"/><line x1="503.5" y1="91.4" x2="506.3" y2="91.4" stroke="#000" stroke-width="0.9"/><text x="532.6" y="99.3" font-size="19.1" text-anchor="middle" font-family="Liberation Sans, sans-serif">18.0</text><line x1="503.5" y1="142.2" x2="506.3" y2="142.2" stroke="#000" stroke-width="0.9"/><text x="532.6" y="150.1" font-size="19.1" text-anchor="middle" font-family="Liberation Sans, sans-serif">16.0</text><line x1="503.5" y1="193" x2="506.3" y2="193" stroke="#000" stroke-width="0.9"/><text x="532.6" y="200.9" font-size="19.1" text-anchor="middle" font-family="Liberation Sans, sans-serif">14.0</text><line x1="503.5" y1="243.8" x2="506.3" y2="243.8" stroke="#000" stroke-width="0.9"/><text x="532.6" y="251.7" font-size="19.1" text-anchor="middle" font-family="Liberation Sans, sans-serif">12.0</text><line x1="503.5" y1="294.6" x2="506.3" y2="294.6" stroke="#000" stroke-width="0.9"/><text x="532.6" y="302.4" font-size="19.1" text-anchor="middle" font-family="Liberation Sans, sans-serif">10.0</text><line x1="503.5" y1="345.3" x2="506.3" y2="345.3" stroke="#000" stroke-width="0.9"/><text x="532.6" y="353.2" font-size="19.1" text-anchor="middle" font-family="Liberation Sans, sans-serif">8.0</text><line x1="503.5" y1="396.1" x2="506.3" y2="396.1" stroke="#000" stroke-width="0.9"/><text x="532.6" y="404" font-size="19.1" text-anchor="middle" font-family="Liberation Sans, sans-serif">6.0</text><line x1="503.5" y1="446.9" x2="506.3" y2="446.9" stroke="#000" stroke-width="0.9"/><text x="532.6" y="454.8" font-size="19.1" text-anchor="middle" font-family="Liberation Sans, sans-serif">4.0</text><line x1="503.5" y1="497.7" x2="506.3" y2="497.7" stroke="#000" stroke-width="0.9"/><text x="532.6" y="505.6" font-size="19.1" text-anchor="middle" font-family="Liberation Sans, sans-serif">2.0</text><line x1="503.5" y1="548.5" x2="506.3" y2="548.5" stroke="#000" stroke-width="0.9"/><text x="532.6" y="556.4" font-size="19.1" text-anchor="middle" font-family="Liberation Sans, sans-serif">0.0</text></g>
</svg></body></html>
